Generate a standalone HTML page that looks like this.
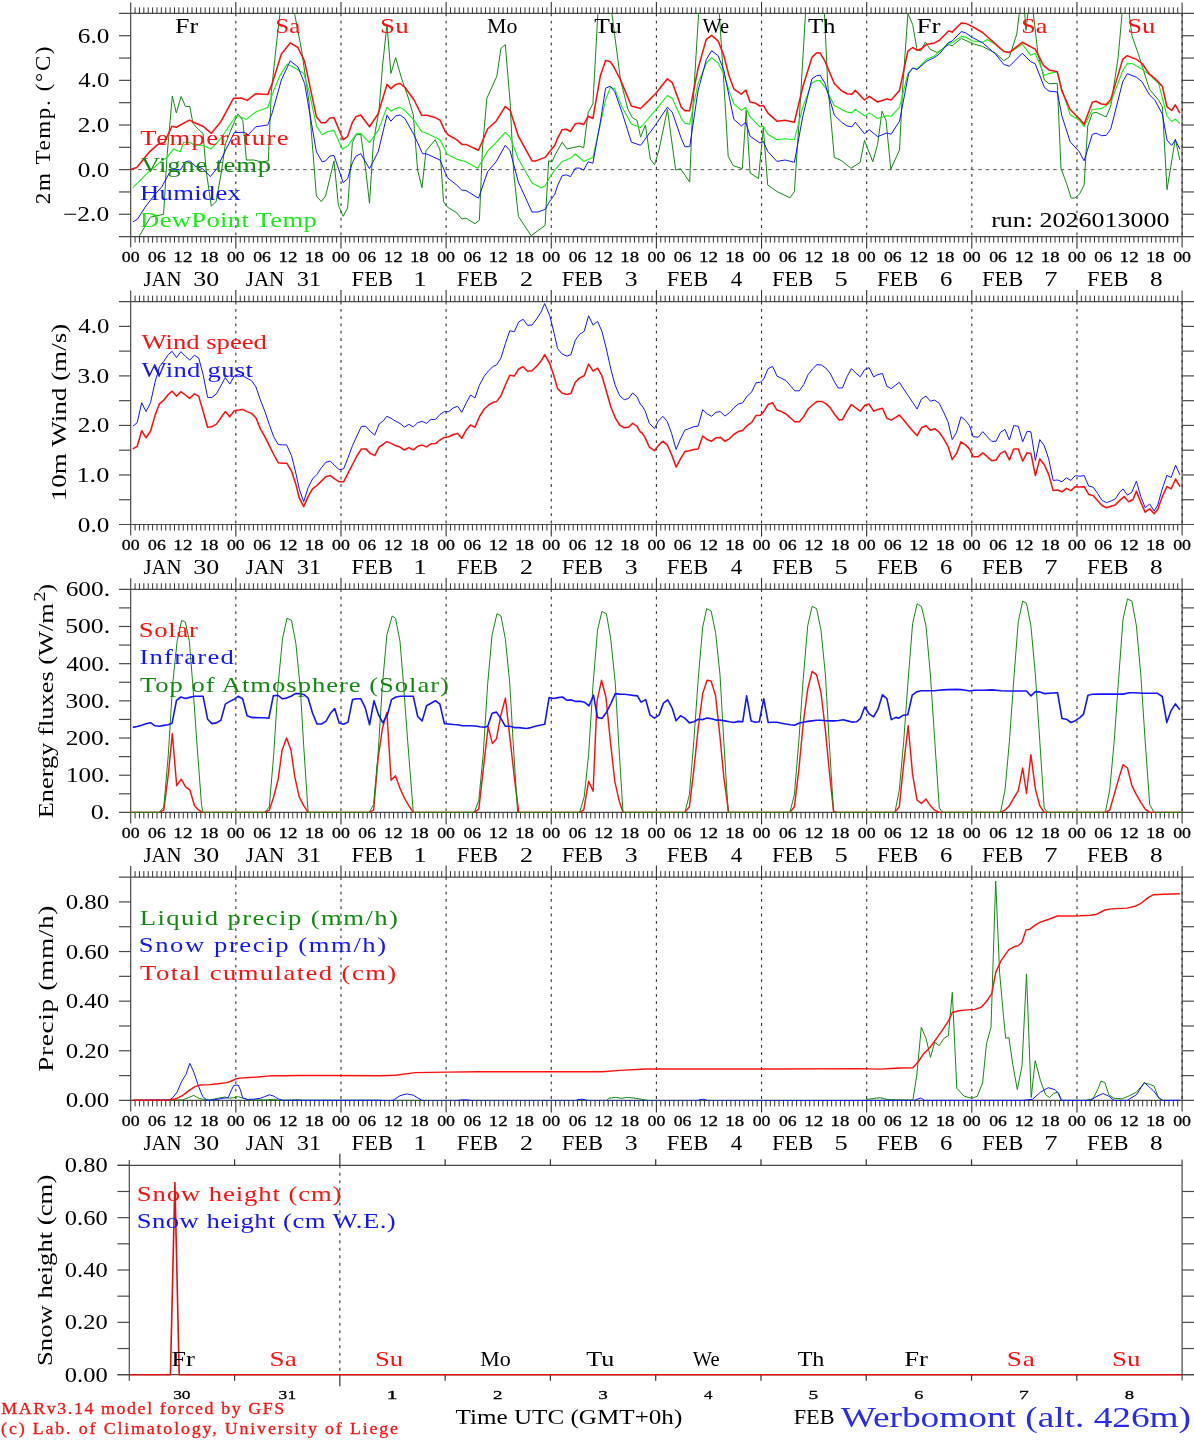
<!DOCTYPE html>
<html><head><meta charset="utf-8"><style>
html,body{margin:0;padding:0;background:#fff;overflow:hidden;}
svg{display:block;}
text{font-family:"Liberation Serif", serif;white-space:pre;}
</style></head><body>
<svg width="1194" height="1440" viewBox="0 0 1194 1440">
<rect width="1194" height="1440" fill="#fff"/>
<defs><clipPath id="c0"><rect x="130.7" y="12.9" width="1051.3999999999999" height="224.2"/></clipPath><clipPath id="c1"><rect x="130.7" y="301.1" width="1051.3999999999999" height="223.89999999999998"/></clipPath><clipPath id="c2"><rect x="130.7" y="588.8" width="1051.3999999999999" height="224.10000000000002"/></clipPath><clipPath id="c3"><rect x="130.7" y="876.6" width="1051.3999999999999" height="224.30000000000007"/></clipPath></defs>
<line x1="119.00" y1="13.40" x2="1194.00" y2="13.40" stroke="#4a4a4a" stroke-width="1.2" />
<line x1="119.00" y1="236.60" x2="1194.00" y2="236.60" stroke="#4a4a4a" stroke-width="1.2" />
<line x1="130.70" y1="2.40" x2="130.70" y2="247.60" stroke="#4a4a4a" stroke-width="1.2" />
<line x1="1182.10" y1="2.40" x2="1182.10" y2="247.60" stroke="#4a4a4a" stroke-width="1.2" />
<line x1="135.08" y1="7.40" x2="135.08" y2="13.40" stroke="#333333" stroke-width="1.0" />
<line x1="135.08" y1="236.60" x2="135.08" y2="242.60" stroke="#333333" stroke-width="1.0" />
<line x1="139.46" y1="7.40" x2="139.46" y2="13.40" stroke="#333333" stroke-width="1.0" />
<line x1="139.46" y1="236.60" x2="139.46" y2="242.60" stroke="#333333" stroke-width="1.0" />
<line x1="143.84" y1="7.40" x2="143.84" y2="13.40" stroke="#333333" stroke-width="1.0" />
<line x1="143.84" y1="236.60" x2="143.84" y2="242.60" stroke="#333333" stroke-width="1.0" />
<line x1="148.22" y1="7.40" x2="148.22" y2="13.40" stroke="#333333" stroke-width="1.0" />
<line x1="148.22" y1="236.60" x2="148.22" y2="242.60" stroke="#333333" stroke-width="1.0" />
<line x1="152.60" y1="7.40" x2="152.60" y2="13.40" stroke="#333333" stroke-width="1.0" />
<line x1="152.60" y1="236.60" x2="152.60" y2="242.60" stroke="#333333" stroke-width="1.0" />
<line x1="156.98" y1="7.40" x2="156.98" y2="13.40" stroke="#333333" stroke-width="1.0" />
<line x1="156.98" y1="236.60" x2="156.98" y2="242.60" stroke="#333333" stroke-width="1.0" />
<line x1="161.37" y1="7.40" x2="161.37" y2="13.40" stroke="#333333" stroke-width="1.0" />
<line x1="161.37" y1="236.60" x2="161.37" y2="242.60" stroke="#333333" stroke-width="1.0" />
<line x1="165.75" y1="7.40" x2="165.75" y2="13.40" stroke="#333333" stroke-width="1.0" />
<line x1="165.75" y1="236.60" x2="165.75" y2="242.60" stroke="#333333" stroke-width="1.0" />
<line x1="170.13" y1="7.40" x2="170.13" y2="13.40" stroke="#333333" stroke-width="1.0" />
<line x1="170.13" y1="236.60" x2="170.13" y2="242.60" stroke="#333333" stroke-width="1.0" />
<line x1="174.51" y1="7.40" x2="174.51" y2="13.40" stroke="#333333" stroke-width="1.0" />
<line x1="174.51" y1="236.60" x2="174.51" y2="242.60" stroke="#333333" stroke-width="1.0" />
<line x1="178.89" y1="7.40" x2="178.89" y2="13.40" stroke="#333333" stroke-width="1.0" />
<line x1="178.89" y1="236.60" x2="178.89" y2="242.60" stroke="#333333" stroke-width="1.0" />
<line x1="183.27" y1="7.40" x2="183.27" y2="13.40" stroke="#333333" stroke-width="1.0" />
<line x1="183.27" y1="236.60" x2="183.27" y2="242.60" stroke="#333333" stroke-width="1.0" />
<line x1="187.65" y1="7.40" x2="187.65" y2="13.40" stroke="#333333" stroke-width="1.0" />
<line x1="187.65" y1="236.60" x2="187.65" y2="242.60" stroke="#333333" stroke-width="1.0" />
<line x1="192.03" y1="7.40" x2="192.03" y2="13.40" stroke="#333333" stroke-width="1.0" />
<line x1="192.03" y1="236.60" x2="192.03" y2="242.60" stroke="#333333" stroke-width="1.0" />
<line x1="196.41" y1="7.40" x2="196.41" y2="13.40" stroke="#333333" stroke-width="1.0" />
<line x1="196.41" y1="236.60" x2="196.41" y2="242.60" stroke="#333333" stroke-width="1.0" />
<line x1="200.79" y1="7.40" x2="200.79" y2="13.40" stroke="#333333" stroke-width="1.0" />
<line x1="200.79" y1="236.60" x2="200.79" y2="242.60" stroke="#333333" stroke-width="1.0" />
<line x1="205.17" y1="7.40" x2="205.17" y2="13.40" stroke="#333333" stroke-width="1.0" />
<line x1="205.17" y1="236.60" x2="205.17" y2="242.60" stroke="#333333" stroke-width="1.0" />
<line x1="209.55" y1="7.40" x2="209.55" y2="13.40" stroke="#333333" stroke-width="1.0" />
<line x1="209.55" y1="236.60" x2="209.55" y2="242.60" stroke="#333333" stroke-width="1.0" />
<line x1="213.94" y1="7.40" x2="213.94" y2="13.40" stroke="#333333" stroke-width="1.0" />
<line x1="213.94" y1="236.60" x2="213.94" y2="242.60" stroke="#333333" stroke-width="1.0" />
<line x1="218.32" y1="7.40" x2="218.32" y2="13.40" stroke="#333333" stroke-width="1.0" />
<line x1="218.32" y1="236.60" x2="218.32" y2="242.60" stroke="#333333" stroke-width="1.0" />
<line x1="222.70" y1="7.40" x2="222.70" y2="13.40" stroke="#333333" stroke-width="1.0" />
<line x1="222.70" y1="236.60" x2="222.70" y2="242.60" stroke="#333333" stroke-width="1.0" />
<line x1="227.08" y1="7.40" x2="227.08" y2="13.40" stroke="#333333" stroke-width="1.0" />
<line x1="227.08" y1="236.60" x2="227.08" y2="242.60" stroke="#333333" stroke-width="1.0" />
<line x1="231.46" y1="7.40" x2="231.46" y2="13.40" stroke="#333333" stroke-width="1.0" />
<line x1="231.46" y1="236.60" x2="231.46" y2="242.60" stroke="#333333" stroke-width="1.0" />
<line x1="235.84" y1="1.90" x2="235.84" y2="13.40" stroke="#333333" stroke-width="1.1" />
<line x1="235.84" y1="236.60" x2="235.84" y2="248.60" stroke="#333333" stroke-width="1.1" />
<line x1="240.22" y1="7.40" x2="240.22" y2="13.40" stroke="#333333" stroke-width="1.0" />
<line x1="240.22" y1="236.60" x2="240.22" y2="242.60" stroke="#333333" stroke-width="1.0" />
<line x1="244.60" y1="7.40" x2="244.60" y2="13.40" stroke="#333333" stroke-width="1.0" />
<line x1="244.60" y1="236.60" x2="244.60" y2="242.60" stroke="#333333" stroke-width="1.0" />
<line x1="248.98" y1="7.40" x2="248.98" y2="13.40" stroke="#333333" stroke-width="1.0" />
<line x1="248.98" y1="236.60" x2="248.98" y2="242.60" stroke="#333333" stroke-width="1.0" />
<line x1="253.36" y1="7.40" x2="253.36" y2="13.40" stroke="#333333" stroke-width="1.0" />
<line x1="253.36" y1="236.60" x2="253.36" y2="242.60" stroke="#333333" stroke-width="1.0" />
<line x1="257.74" y1="7.40" x2="257.74" y2="13.40" stroke="#333333" stroke-width="1.0" />
<line x1="257.74" y1="236.60" x2="257.74" y2="242.60" stroke="#333333" stroke-width="1.0" />
<line x1="262.12" y1="7.40" x2="262.12" y2="13.40" stroke="#333333" stroke-width="1.0" />
<line x1="262.12" y1="236.60" x2="262.12" y2="242.60" stroke="#333333" stroke-width="1.0" />
<line x1="266.51" y1="7.40" x2="266.51" y2="13.40" stroke="#333333" stroke-width="1.0" />
<line x1="266.51" y1="236.60" x2="266.51" y2="242.60" stroke="#333333" stroke-width="1.0" />
<line x1="270.89" y1="7.40" x2="270.89" y2="13.40" stroke="#333333" stroke-width="1.0" />
<line x1="270.89" y1="236.60" x2="270.89" y2="242.60" stroke="#333333" stroke-width="1.0" />
<line x1="275.27" y1="7.40" x2="275.27" y2="13.40" stroke="#333333" stroke-width="1.0" />
<line x1="275.27" y1="236.60" x2="275.27" y2="242.60" stroke="#333333" stroke-width="1.0" />
<line x1="279.65" y1="7.40" x2="279.65" y2="13.40" stroke="#333333" stroke-width="1.0" />
<line x1="279.65" y1="236.60" x2="279.65" y2="242.60" stroke="#333333" stroke-width="1.0" />
<line x1="284.03" y1="7.40" x2="284.03" y2="13.40" stroke="#333333" stroke-width="1.0" />
<line x1="284.03" y1="236.60" x2="284.03" y2="242.60" stroke="#333333" stroke-width="1.0" />
<line x1="288.41" y1="7.40" x2="288.41" y2="13.40" stroke="#333333" stroke-width="1.0" />
<line x1="288.41" y1="236.60" x2="288.41" y2="242.60" stroke="#333333" stroke-width="1.0" />
<line x1="292.79" y1="7.40" x2="292.79" y2="13.40" stroke="#333333" stroke-width="1.0" />
<line x1="292.79" y1="236.60" x2="292.79" y2="242.60" stroke="#333333" stroke-width="1.0" />
<line x1="297.17" y1="7.40" x2="297.17" y2="13.40" stroke="#333333" stroke-width="1.0" />
<line x1="297.17" y1="236.60" x2="297.17" y2="242.60" stroke="#333333" stroke-width="1.0" />
<line x1="301.55" y1="7.40" x2="301.55" y2="13.40" stroke="#333333" stroke-width="1.0" />
<line x1="301.55" y1="236.60" x2="301.55" y2="242.60" stroke="#333333" stroke-width="1.0" />
<line x1="305.93" y1="7.40" x2="305.93" y2="13.40" stroke="#333333" stroke-width="1.0" />
<line x1="305.93" y1="236.60" x2="305.93" y2="242.60" stroke="#333333" stroke-width="1.0" />
<line x1="310.31" y1="7.40" x2="310.31" y2="13.40" stroke="#333333" stroke-width="1.0" />
<line x1="310.31" y1="236.60" x2="310.31" y2="242.60" stroke="#333333" stroke-width="1.0" />
<line x1="314.69" y1="7.40" x2="314.69" y2="13.40" stroke="#333333" stroke-width="1.0" />
<line x1="314.69" y1="236.60" x2="314.69" y2="242.60" stroke="#333333" stroke-width="1.0" />
<line x1="319.08" y1="7.40" x2="319.08" y2="13.40" stroke="#333333" stroke-width="1.0" />
<line x1="319.08" y1="236.60" x2="319.08" y2="242.60" stroke="#333333" stroke-width="1.0" />
<line x1="323.46" y1="7.40" x2="323.46" y2="13.40" stroke="#333333" stroke-width="1.0" />
<line x1="323.46" y1="236.60" x2="323.46" y2="242.60" stroke="#333333" stroke-width="1.0" />
<line x1="327.84" y1="7.40" x2="327.84" y2="13.40" stroke="#333333" stroke-width="1.0" />
<line x1="327.84" y1="236.60" x2="327.84" y2="242.60" stroke="#333333" stroke-width="1.0" />
<line x1="332.22" y1="7.40" x2="332.22" y2="13.40" stroke="#333333" stroke-width="1.0" />
<line x1="332.22" y1="236.60" x2="332.22" y2="242.60" stroke="#333333" stroke-width="1.0" />
<line x1="336.60" y1="7.40" x2="336.60" y2="13.40" stroke="#333333" stroke-width="1.0" />
<line x1="336.60" y1="236.60" x2="336.60" y2="242.60" stroke="#333333" stroke-width="1.0" />
<line x1="340.98" y1="1.90" x2="340.98" y2="13.40" stroke="#333333" stroke-width="1.1" />
<line x1="340.98" y1="236.60" x2="340.98" y2="248.60" stroke="#333333" stroke-width="1.1" />
<line x1="345.36" y1="7.40" x2="345.36" y2="13.40" stroke="#333333" stroke-width="1.0" />
<line x1="345.36" y1="236.60" x2="345.36" y2="242.60" stroke="#333333" stroke-width="1.0" />
<line x1="349.74" y1="7.40" x2="349.74" y2="13.40" stroke="#333333" stroke-width="1.0" />
<line x1="349.74" y1="236.60" x2="349.74" y2="242.60" stroke="#333333" stroke-width="1.0" />
<line x1="354.12" y1="7.40" x2="354.12" y2="13.40" stroke="#333333" stroke-width="1.0" />
<line x1="354.12" y1="236.60" x2="354.12" y2="242.60" stroke="#333333" stroke-width="1.0" />
<line x1="358.50" y1="7.40" x2="358.50" y2="13.40" stroke="#333333" stroke-width="1.0" />
<line x1="358.50" y1="236.60" x2="358.50" y2="242.60" stroke="#333333" stroke-width="1.0" />
<line x1="362.88" y1="7.40" x2="362.88" y2="13.40" stroke="#333333" stroke-width="1.0" />
<line x1="362.88" y1="236.60" x2="362.88" y2="242.60" stroke="#333333" stroke-width="1.0" />
<line x1="367.26" y1="7.40" x2="367.26" y2="13.40" stroke="#333333" stroke-width="1.0" />
<line x1="367.26" y1="236.60" x2="367.26" y2="242.60" stroke="#333333" stroke-width="1.0" />
<line x1="371.65" y1="7.40" x2="371.65" y2="13.40" stroke="#333333" stroke-width="1.0" />
<line x1="371.65" y1="236.60" x2="371.65" y2="242.60" stroke="#333333" stroke-width="1.0" />
<line x1="376.03" y1="7.40" x2="376.03" y2="13.40" stroke="#333333" stroke-width="1.0" />
<line x1="376.03" y1="236.60" x2="376.03" y2="242.60" stroke="#333333" stroke-width="1.0" />
<line x1="380.41" y1="7.40" x2="380.41" y2="13.40" stroke="#333333" stroke-width="1.0" />
<line x1="380.41" y1="236.60" x2="380.41" y2="242.60" stroke="#333333" stroke-width="1.0" />
<line x1="384.79" y1="7.40" x2="384.79" y2="13.40" stroke="#333333" stroke-width="1.0" />
<line x1="384.79" y1="236.60" x2="384.79" y2="242.60" stroke="#333333" stroke-width="1.0" />
<line x1="389.17" y1="7.40" x2="389.17" y2="13.40" stroke="#333333" stroke-width="1.0" />
<line x1="389.17" y1="236.60" x2="389.17" y2="242.60" stroke="#333333" stroke-width="1.0" />
<line x1="393.55" y1="7.40" x2="393.55" y2="13.40" stroke="#333333" stroke-width="1.0" />
<line x1="393.55" y1="236.60" x2="393.55" y2="242.60" stroke="#333333" stroke-width="1.0" />
<line x1="397.93" y1="7.40" x2="397.93" y2="13.40" stroke="#333333" stroke-width="1.0" />
<line x1="397.93" y1="236.60" x2="397.93" y2="242.60" stroke="#333333" stroke-width="1.0" />
<line x1="402.31" y1="7.40" x2="402.31" y2="13.40" stroke="#333333" stroke-width="1.0" />
<line x1="402.31" y1="236.60" x2="402.31" y2="242.60" stroke="#333333" stroke-width="1.0" />
<line x1="406.69" y1="7.40" x2="406.69" y2="13.40" stroke="#333333" stroke-width="1.0" />
<line x1="406.69" y1="236.60" x2="406.69" y2="242.60" stroke="#333333" stroke-width="1.0" />
<line x1="411.07" y1="7.40" x2="411.07" y2="13.40" stroke="#333333" stroke-width="1.0" />
<line x1="411.07" y1="236.60" x2="411.07" y2="242.60" stroke="#333333" stroke-width="1.0" />
<line x1="415.45" y1="7.40" x2="415.45" y2="13.40" stroke="#333333" stroke-width="1.0" />
<line x1="415.45" y1="236.60" x2="415.45" y2="242.60" stroke="#333333" stroke-width="1.0" />
<line x1="419.83" y1="7.40" x2="419.83" y2="13.40" stroke="#333333" stroke-width="1.0" />
<line x1="419.83" y1="236.60" x2="419.83" y2="242.60" stroke="#333333" stroke-width="1.0" />
<line x1="424.22" y1="7.40" x2="424.22" y2="13.40" stroke="#333333" stroke-width="1.0" />
<line x1="424.22" y1="236.60" x2="424.22" y2="242.60" stroke="#333333" stroke-width="1.0" />
<line x1="428.60" y1="7.40" x2="428.60" y2="13.40" stroke="#333333" stroke-width="1.0" />
<line x1="428.60" y1="236.60" x2="428.60" y2="242.60" stroke="#333333" stroke-width="1.0" />
<line x1="432.98" y1="7.40" x2="432.98" y2="13.40" stroke="#333333" stroke-width="1.0" />
<line x1="432.98" y1="236.60" x2="432.98" y2="242.60" stroke="#333333" stroke-width="1.0" />
<line x1="437.36" y1="7.40" x2="437.36" y2="13.40" stroke="#333333" stroke-width="1.0" />
<line x1="437.36" y1="236.60" x2="437.36" y2="242.60" stroke="#333333" stroke-width="1.0" />
<line x1="441.74" y1="7.40" x2="441.74" y2="13.40" stroke="#333333" stroke-width="1.0" />
<line x1="441.74" y1="236.60" x2="441.74" y2="242.60" stroke="#333333" stroke-width="1.0" />
<line x1="446.12" y1="1.90" x2="446.12" y2="13.40" stroke="#333333" stroke-width="1.1" />
<line x1="446.12" y1="236.60" x2="446.12" y2="248.60" stroke="#333333" stroke-width="1.1" />
<line x1="450.50" y1="7.40" x2="450.50" y2="13.40" stroke="#333333" stroke-width="1.0" />
<line x1="450.50" y1="236.60" x2="450.50" y2="242.60" stroke="#333333" stroke-width="1.0" />
<line x1="454.88" y1="7.40" x2="454.88" y2="13.40" stroke="#333333" stroke-width="1.0" />
<line x1="454.88" y1="236.60" x2="454.88" y2="242.60" stroke="#333333" stroke-width="1.0" />
<line x1="459.26" y1="7.40" x2="459.26" y2="13.40" stroke="#333333" stroke-width="1.0" />
<line x1="459.26" y1="236.60" x2="459.26" y2="242.60" stroke="#333333" stroke-width="1.0" />
<line x1="463.64" y1="7.40" x2="463.64" y2="13.40" stroke="#333333" stroke-width="1.0" />
<line x1="463.64" y1="236.60" x2="463.64" y2="242.60" stroke="#333333" stroke-width="1.0" />
<line x1="468.02" y1="7.40" x2="468.02" y2="13.40" stroke="#333333" stroke-width="1.0" />
<line x1="468.02" y1="236.60" x2="468.02" y2="242.60" stroke="#333333" stroke-width="1.0" />
<line x1="472.40" y1="7.40" x2="472.40" y2="13.40" stroke="#333333" stroke-width="1.0" />
<line x1="472.40" y1="236.60" x2="472.40" y2="242.60" stroke="#333333" stroke-width="1.0" />
<line x1="476.79" y1="7.40" x2="476.79" y2="13.40" stroke="#333333" stroke-width="1.0" />
<line x1="476.79" y1="236.60" x2="476.79" y2="242.60" stroke="#333333" stroke-width="1.0" />
<line x1="481.17" y1="7.40" x2="481.17" y2="13.40" stroke="#333333" stroke-width="1.0" />
<line x1="481.17" y1="236.60" x2="481.17" y2="242.60" stroke="#333333" stroke-width="1.0" />
<line x1="485.55" y1="7.40" x2="485.55" y2="13.40" stroke="#333333" stroke-width="1.0" />
<line x1="485.55" y1="236.60" x2="485.55" y2="242.60" stroke="#333333" stroke-width="1.0" />
<line x1="489.93" y1="7.40" x2="489.93" y2="13.40" stroke="#333333" stroke-width="1.0" />
<line x1="489.93" y1="236.60" x2="489.93" y2="242.60" stroke="#333333" stroke-width="1.0" />
<line x1="494.31" y1="7.40" x2="494.31" y2="13.40" stroke="#333333" stroke-width="1.0" />
<line x1="494.31" y1="236.60" x2="494.31" y2="242.60" stroke="#333333" stroke-width="1.0" />
<line x1="498.69" y1="7.40" x2="498.69" y2="13.40" stroke="#333333" stroke-width="1.0" />
<line x1="498.69" y1="236.60" x2="498.69" y2="242.60" stroke="#333333" stroke-width="1.0" />
<line x1="503.07" y1="7.40" x2="503.07" y2="13.40" stroke="#333333" stroke-width="1.0" />
<line x1="503.07" y1="236.60" x2="503.07" y2="242.60" stroke="#333333" stroke-width="1.0" />
<line x1="507.45" y1="7.40" x2="507.45" y2="13.40" stroke="#333333" stroke-width="1.0" />
<line x1="507.45" y1="236.60" x2="507.45" y2="242.60" stroke="#333333" stroke-width="1.0" />
<line x1="511.83" y1="7.40" x2="511.83" y2="13.40" stroke="#333333" stroke-width="1.0" />
<line x1="511.83" y1="236.60" x2="511.83" y2="242.60" stroke="#333333" stroke-width="1.0" />
<line x1="516.21" y1="7.40" x2="516.21" y2="13.40" stroke="#333333" stroke-width="1.0" />
<line x1="516.21" y1="236.60" x2="516.21" y2="242.60" stroke="#333333" stroke-width="1.0" />
<line x1="520.59" y1="7.40" x2="520.59" y2="13.40" stroke="#333333" stroke-width="1.0" />
<line x1="520.59" y1="236.60" x2="520.59" y2="242.60" stroke="#333333" stroke-width="1.0" />
<line x1="524.97" y1="7.40" x2="524.97" y2="13.40" stroke="#333333" stroke-width="1.0" />
<line x1="524.97" y1="236.60" x2="524.97" y2="242.60" stroke="#333333" stroke-width="1.0" />
<line x1="529.36" y1="7.40" x2="529.36" y2="13.40" stroke="#333333" stroke-width="1.0" />
<line x1="529.36" y1="236.60" x2="529.36" y2="242.60" stroke="#333333" stroke-width="1.0" />
<line x1="533.74" y1="7.40" x2="533.74" y2="13.40" stroke="#333333" stroke-width="1.0" />
<line x1="533.74" y1="236.60" x2="533.74" y2="242.60" stroke="#333333" stroke-width="1.0" />
<line x1="538.12" y1="7.40" x2="538.12" y2="13.40" stroke="#333333" stroke-width="1.0" />
<line x1="538.12" y1="236.60" x2="538.12" y2="242.60" stroke="#333333" stroke-width="1.0" />
<line x1="542.50" y1="7.40" x2="542.50" y2="13.40" stroke="#333333" stroke-width="1.0" />
<line x1="542.50" y1="236.60" x2="542.50" y2="242.60" stroke="#333333" stroke-width="1.0" />
<line x1="546.88" y1="7.40" x2="546.88" y2="13.40" stroke="#333333" stroke-width="1.0" />
<line x1="546.88" y1="236.60" x2="546.88" y2="242.60" stroke="#333333" stroke-width="1.0" />
<line x1="551.26" y1="1.90" x2="551.26" y2="13.40" stroke="#333333" stroke-width="1.1" />
<line x1="551.26" y1="236.60" x2="551.26" y2="248.60" stroke="#333333" stroke-width="1.1" />
<line x1="555.64" y1="7.40" x2="555.64" y2="13.40" stroke="#333333" stroke-width="1.0" />
<line x1="555.64" y1="236.60" x2="555.64" y2="242.60" stroke="#333333" stroke-width="1.0" />
<line x1="560.02" y1="7.40" x2="560.02" y2="13.40" stroke="#333333" stroke-width="1.0" />
<line x1="560.02" y1="236.60" x2="560.02" y2="242.60" stroke="#333333" stroke-width="1.0" />
<line x1="564.40" y1="7.40" x2="564.40" y2="13.40" stroke="#333333" stroke-width="1.0" />
<line x1="564.40" y1="236.60" x2="564.40" y2="242.60" stroke="#333333" stroke-width="1.0" />
<line x1="568.78" y1="7.40" x2="568.78" y2="13.40" stroke="#333333" stroke-width="1.0" />
<line x1="568.78" y1="236.60" x2="568.78" y2="242.60" stroke="#333333" stroke-width="1.0" />
<line x1="573.16" y1="7.40" x2="573.16" y2="13.40" stroke="#333333" stroke-width="1.0" />
<line x1="573.16" y1="236.60" x2="573.16" y2="242.60" stroke="#333333" stroke-width="1.0" />
<line x1="577.54" y1="7.40" x2="577.54" y2="13.40" stroke="#333333" stroke-width="1.0" />
<line x1="577.54" y1="236.60" x2="577.54" y2="242.60" stroke="#333333" stroke-width="1.0" />
<line x1="581.93" y1="7.40" x2="581.93" y2="13.40" stroke="#333333" stroke-width="1.0" />
<line x1="581.93" y1="236.60" x2="581.93" y2="242.60" stroke="#333333" stroke-width="1.0" />
<line x1="586.31" y1="7.40" x2="586.31" y2="13.40" stroke="#333333" stroke-width="1.0" />
<line x1="586.31" y1="236.60" x2="586.31" y2="242.60" stroke="#333333" stroke-width="1.0" />
<line x1="590.69" y1="7.40" x2="590.69" y2="13.40" stroke="#333333" stroke-width="1.0" />
<line x1="590.69" y1="236.60" x2="590.69" y2="242.60" stroke="#333333" stroke-width="1.0" />
<line x1="595.07" y1="7.40" x2="595.07" y2="13.40" stroke="#333333" stroke-width="1.0" />
<line x1="595.07" y1="236.60" x2="595.07" y2="242.60" stroke="#333333" stroke-width="1.0" />
<line x1="599.45" y1="7.40" x2="599.45" y2="13.40" stroke="#333333" stroke-width="1.0" />
<line x1="599.45" y1="236.60" x2="599.45" y2="242.60" stroke="#333333" stroke-width="1.0" />
<line x1="603.83" y1="7.40" x2="603.83" y2="13.40" stroke="#333333" stroke-width="1.0" />
<line x1="603.83" y1="236.60" x2="603.83" y2="242.60" stroke="#333333" stroke-width="1.0" />
<line x1="608.21" y1="7.40" x2="608.21" y2="13.40" stroke="#333333" stroke-width="1.0" />
<line x1="608.21" y1="236.60" x2="608.21" y2="242.60" stroke="#333333" stroke-width="1.0" />
<line x1="612.59" y1="7.40" x2="612.59" y2="13.40" stroke="#333333" stroke-width="1.0" />
<line x1="612.59" y1="236.60" x2="612.59" y2="242.60" stroke="#333333" stroke-width="1.0" />
<line x1="616.97" y1="7.40" x2="616.97" y2="13.40" stroke="#333333" stroke-width="1.0" />
<line x1="616.97" y1="236.60" x2="616.97" y2="242.60" stroke="#333333" stroke-width="1.0" />
<line x1="621.35" y1="7.40" x2="621.35" y2="13.40" stroke="#333333" stroke-width="1.0" />
<line x1="621.35" y1="236.60" x2="621.35" y2="242.60" stroke="#333333" stroke-width="1.0" />
<line x1="625.73" y1="7.40" x2="625.73" y2="13.40" stroke="#333333" stroke-width="1.0" />
<line x1="625.73" y1="236.60" x2="625.73" y2="242.60" stroke="#333333" stroke-width="1.0" />
<line x1="630.12" y1="7.40" x2="630.12" y2="13.40" stroke="#333333" stroke-width="1.0" />
<line x1="630.12" y1="236.60" x2="630.12" y2="242.60" stroke="#333333" stroke-width="1.0" />
<line x1="634.50" y1="7.40" x2="634.50" y2="13.40" stroke="#333333" stroke-width="1.0" />
<line x1="634.50" y1="236.60" x2="634.50" y2="242.60" stroke="#333333" stroke-width="1.0" />
<line x1="638.88" y1="7.40" x2="638.88" y2="13.40" stroke="#333333" stroke-width="1.0" />
<line x1="638.88" y1="236.60" x2="638.88" y2="242.60" stroke="#333333" stroke-width="1.0" />
<line x1="643.26" y1="7.40" x2="643.26" y2="13.40" stroke="#333333" stroke-width="1.0" />
<line x1="643.26" y1="236.60" x2="643.26" y2="242.60" stroke="#333333" stroke-width="1.0" />
<line x1="647.64" y1="7.40" x2="647.64" y2="13.40" stroke="#333333" stroke-width="1.0" />
<line x1="647.64" y1="236.60" x2="647.64" y2="242.60" stroke="#333333" stroke-width="1.0" />
<line x1="652.02" y1="7.40" x2="652.02" y2="13.40" stroke="#333333" stroke-width="1.0" />
<line x1="652.02" y1="236.60" x2="652.02" y2="242.60" stroke="#333333" stroke-width="1.0" />
<line x1="656.40" y1="1.90" x2="656.40" y2="13.40" stroke="#333333" stroke-width="1.1" />
<line x1="656.40" y1="236.60" x2="656.40" y2="248.60" stroke="#333333" stroke-width="1.1" />
<line x1="660.78" y1="7.40" x2="660.78" y2="13.40" stroke="#333333" stroke-width="1.0" />
<line x1="660.78" y1="236.60" x2="660.78" y2="242.60" stroke="#333333" stroke-width="1.0" />
<line x1="665.16" y1="7.40" x2="665.16" y2="13.40" stroke="#333333" stroke-width="1.0" />
<line x1="665.16" y1="236.60" x2="665.16" y2="242.60" stroke="#333333" stroke-width="1.0" />
<line x1="669.54" y1="7.40" x2="669.54" y2="13.40" stroke="#333333" stroke-width="1.0" />
<line x1="669.54" y1="236.60" x2="669.54" y2="242.60" stroke="#333333" stroke-width="1.0" />
<line x1="673.92" y1="7.40" x2="673.92" y2="13.40" stroke="#333333" stroke-width="1.0" />
<line x1="673.92" y1="236.60" x2="673.92" y2="242.60" stroke="#333333" stroke-width="1.0" />
<line x1="678.30" y1="7.40" x2="678.30" y2="13.40" stroke="#333333" stroke-width="1.0" />
<line x1="678.30" y1="236.60" x2="678.30" y2="242.60" stroke="#333333" stroke-width="1.0" />
<line x1="682.68" y1="7.40" x2="682.68" y2="13.40" stroke="#333333" stroke-width="1.0" />
<line x1="682.68" y1="236.60" x2="682.68" y2="242.60" stroke="#333333" stroke-width="1.0" />
<line x1="687.07" y1="7.40" x2="687.07" y2="13.40" stroke="#333333" stroke-width="1.0" />
<line x1="687.07" y1="236.60" x2="687.07" y2="242.60" stroke="#333333" stroke-width="1.0" />
<line x1="691.45" y1="7.40" x2="691.45" y2="13.40" stroke="#333333" stroke-width="1.0" />
<line x1="691.45" y1="236.60" x2="691.45" y2="242.60" stroke="#333333" stroke-width="1.0" />
<line x1="695.83" y1="7.40" x2="695.83" y2="13.40" stroke="#333333" stroke-width="1.0" />
<line x1="695.83" y1="236.60" x2="695.83" y2="242.60" stroke="#333333" stroke-width="1.0" />
<line x1="700.21" y1="7.40" x2="700.21" y2="13.40" stroke="#333333" stroke-width="1.0" />
<line x1="700.21" y1="236.60" x2="700.21" y2="242.60" stroke="#333333" stroke-width="1.0" />
<line x1="704.59" y1="7.40" x2="704.59" y2="13.40" stroke="#333333" stroke-width="1.0" />
<line x1="704.59" y1="236.60" x2="704.59" y2="242.60" stroke="#333333" stroke-width="1.0" />
<line x1="708.97" y1="7.40" x2="708.97" y2="13.40" stroke="#333333" stroke-width="1.0" />
<line x1="708.97" y1="236.60" x2="708.97" y2="242.60" stroke="#333333" stroke-width="1.0" />
<line x1="713.35" y1="7.40" x2="713.35" y2="13.40" stroke="#333333" stroke-width="1.0" />
<line x1="713.35" y1="236.60" x2="713.35" y2="242.60" stroke="#333333" stroke-width="1.0" />
<line x1="717.73" y1="7.40" x2="717.73" y2="13.40" stroke="#333333" stroke-width="1.0" />
<line x1="717.73" y1="236.60" x2="717.73" y2="242.60" stroke="#333333" stroke-width="1.0" />
<line x1="722.11" y1="7.40" x2="722.11" y2="13.40" stroke="#333333" stroke-width="1.0" />
<line x1="722.11" y1="236.60" x2="722.11" y2="242.60" stroke="#333333" stroke-width="1.0" />
<line x1="726.49" y1="7.40" x2="726.49" y2="13.40" stroke="#333333" stroke-width="1.0" />
<line x1="726.49" y1="236.60" x2="726.49" y2="242.60" stroke="#333333" stroke-width="1.0" />
<line x1="730.87" y1="7.40" x2="730.87" y2="13.40" stroke="#333333" stroke-width="1.0" />
<line x1="730.87" y1="236.60" x2="730.87" y2="242.60" stroke="#333333" stroke-width="1.0" />
<line x1="735.25" y1="7.40" x2="735.25" y2="13.40" stroke="#333333" stroke-width="1.0" />
<line x1="735.25" y1="236.60" x2="735.25" y2="242.60" stroke="#333333" stroke-width="1.0" />
<line x1="739.64" y1="7.40" x2="739.64" y2="13.40" stroke="#333333" stroke-width="1.0" />
<line x1="739.64" y1="236.60" x2="739.64" y2="242.60" stroke="#333333" stroke-width="1.0" />
<line x1="744.02" y1="7.40" x2="744.02" y2="13.40" stroke="#333333" stroke-width="1.0" />
<line x1="744.02" y1="236.60" x2="744.02" y2="242.60" stroke="#333333" stroke-width="1.0" />
<line x1="748.40" y1="7.40" x2="748.40" y2="13.40" stroke="#333333" stroke-width="1.0" />
<line x1="748.40" y1="236.60" x2="748.40" y2="242.60" stroke="#333333" stroke-width="1.0" />
<line x1="752.78" y1="7.40" x2="752.78" y2="13.40" stroke="#333333" stroke-width="1.0" />
<line x1="752.78" y1="236.60" x2="752.78" y2="242.60" stroke="#333333" stroke-width="1.0" />
<line x1="757.16" y1="7.40" x2="757.16" y2="13.40" stroke="#333333" stroke-width="1.0" />
<line x1="757.16" y1="236.60" x2="757.16" y2="242.60" stroke="#333333" stroke-width="1.0" />
<line x1="761.54" y1="1.90" x2="761.54" y2="13.40" stroke="#333333" stroke-width="1.1" />
<line x1="761.54" y1="236.60" x2="761.54" y2="248.60" stroke="#333333" stroke-width="1.1" />
<line x1="765.92" y1="7.40" x2="765.92" y2="13.40" stroke="#333333" stroke-width="1.0" />
<line x1="765.92" y1="236.60" x2="765.92" y2="242.60" stroke="#333333" stroke-width="1.0" />
<line x1="770.30" y1="7.40" x2="770.30" y2="13.40" stroke="#333333" stroke-width="1.0" />
<line x1="770.30" y1="236.60" x2="770.30" y2="242.60" stroke="#333333" stroke-width="1.0" />
<line x1="774.68" y1="7.40" x2="774.68" y2="13.40" stroke="#333333" stroke-width="1.0" />
<line x1="774.68" y1="236.60" x2="774.68" y2="242.60" stroke="#333333" stroke-width="1.0" />
<line x1="779.06" y1="7.40" x2="779.06" y2="13.40" stroke="#333333" stroke-width="1.0" />
<line x1="779.06" y1="236.60" x2="779.06" y2="242.60" stroke="#333333" stroke-width="1.0" />
<line x1="783.44" y1="7.40" x2="783.44" y2="13.40" stroke="#333333" stroke-width="1.0" />
<line x1="783.44" y1="236.60" x2="783.44" y2="242.60" stroke="#333333" stroke-width="1.0" />
<line x1="787.82" y1="7.40" x2="787.82" y2="13.40" stroke="#333333" stroke-width="1.0" />
<line x1="787.82" y1="236.60" x2="787.82" y2="242.60" stroke="#333333" stroke-width="1.0" />
<line x1="792.21" y1="7.40" x2="792.21" y2="13.40" stroke="#333333" stroke-width="1.0" />
<line x1="792.21" y1="236.60" x2="792.21" y2="242.60" stroke="#333333" stroke-width="1.0" />
<line x1="796.59" y1="7.40" x2="796.59" y2="13.40" stroke="#333333" stroke-width="1.0" />
<line x1="796.59" y1="236.60" x2="796.59" y2="242.60" stroke="#333333" stroke-width="1.0" />
<line x1="800.97" y1="7.40" x2="800.97" y2="13.40" stroke="#333333" stroke-width="1.0" />
<line x1="800.97" y1="236.60" x2="800.97" y2="242.60" stroke="#333333" stroke-width="1.0" />
<line x1="805.35" y1="7.40" x2="805.35" y2="13.40" stroke="#333333" stroke-width="1.0" />
<line x1="805.35" y1="236.60" x2="805.35" y2="242.60" stroke="#333333" stroke-width="1.0" />
<line x1="809.73" y1="7.40" x2="809.73" y2="13.40" stroke="#333333" stroke-width="1.0" />
<line x1="809.73" y1="236.60" x2="809.73" y2="242.60" stroke="#333333" stroke-width="1.0" />
<line x1="814.11" y1="7.40" x2="814.11" y2="13.40" stroke="#333333" stroke-width="1.0" />
<line x1="814.11" y1="236.60" x2="814.11" y2="242.60" stroke="#333333" stroke-width="1.0" />
<line x1="818.49" y1="7.40" x2="818.49" y2="13.40" stroke="#333333" stroke-width="1.0" />
<line x1="818.49" y1="236.60" x2="818.49" y2="242.60" stroke="#333333" stroke-width="1.0" />
<line x1="822.87" y1="7.40" x2="822.87" y2="13.40" stroke="#333333" stroke-width="1.0" />
<line x1="822.87" y1="236.60" x2="822.87" y2="242.60" stroke="#333333" stroke-width="1.0" />
<line x1="827.25" y1="7.40" x2="827.25" y2="13.40" stroke="#333333" stroke-width="1.0" />
<line x1="827.25" y1="236.60" x2="827.25" y2="242.60" stroke="#333333" stroke-width="1.0" />
<line x1="831.63" y1="7.40" x2="831.63" y2="13.40" stroke="#333333" stroke-width="1.0" />
<line x1="831.63" y1="236.60" x2="831.63" y2="242.60" stroke="#333333" stroke-width="1.0" />
<line x1="836.01" y1="7.40" x2="836.01" y2="13.40" stroke="#333333" stroke-width="1.0" />
<line x1="836.01" y1="236.60" x2="836.01" y2="242.60" stroke="#333333" stroke-width="1.0" />
<line x1="840.39" y1="7.40" x2="840.39" y2="13.40" stroke="#333333" stroke-width="1.0" />
<line x1="840.39" y1="236.60" x2="840.39" y2="242.60" stroke="#333333" stroke-width="1.0" />
<line x1="844.78" y1="7.40" x2="844.78" y2="13.40" stroke="#333333" stroke-width="1.0" />
<line x1="844.78" y1="236.60" x2="844.78" y2="242.60" stroke="#333333" stroke-width="1.0" />
<line x1="849.16" y1="7.40" x2="849.16" y2="13.40" stroke="#333333" stroke-width="1.0" />
<line x1="849.16" y1="236.60" x2="849.16" y2="242.60" stroke="#333333" stroke-width="1.0" />
<line x1="853.54" y1="7.40" x2="853.54" y2="13.40" stroke="#333333" stroke-width="1.0" />
<line x1="853.54" y1="236.60" x2="853.54" y2="242.60" stroke="#333333" stroke-width="1.0" />
<line x1="857.92" y1="7.40" x2="857.92" y2="13.40" stroke="#333333" stroke-width="1.0" />
<line x1="857.92" y1="236.60" x2="857.92" y2="242.60" stroke="#333333" stroke-width="1.0" />
<line x1="862.30" y1="7.40" x2="862.30" y2="13.40" stroke="#333333" stroke-width="1.0" />
<line x1="862.30" y1="236.60" x2="862.30" y2="242.60" stroke="#333333" stroke-width="1.0" />
<line x1="866.68" y1="1.90" x2="866.68" y2="13.40" stroke="#333333" stroke-width="1.1" />
<line x1="866.68" y1="236.60" x2="866.68" y2="248.60" stroke="#333333" stroke-width="1.1" />
<line x1="871.06" y1="7.40" x2="871.06" y2="13.40" stroke="#333333" stroke-width="1.0" />
<line x1="871.06" y1="236.60" x2="871.06" y2="242.60" stroke="#333333" stroke-width="1.0" />
<line x1="875.44" y1="7.40" x2="875.44" y2="13.40" stroke="#333333" stroke-width="1.0" />
<line x1="875.44" y1="236.60" x2="875.44" y2="242.60" stroke="#333333" stroke-width="1.0" />
<line x1="879.82" y1="7.40" x2="879.82" y2="13.40" stroke="#333333" stroke-width="1.0" />
<line x1="879.82" y1="236.60" x2="879.82" y2="242.60" stroke="#333333" stroke-width="1.0" />
<line x1="884.20" y1="7.40" x2="884.20" y2="13.40" stroke="#333333" stroke-width="1.0" />
<line x1="884.20" y1="236.60" x2="884.20" y2="242.60" stroke="#333333" stroke-width="1.0" />
<line x1="888.58" y1="7.40" x2="888.58" y2="13.40" stroke="#333333" stroke-width="1.0" />
<line x1="888.58" y1="236.60" x2="888.58" y2="242.60" stroke="#333333" stroke-width="1.0" />
<line x1="892.96" y1="7.40" x2="892.96" y2="13.40" stroke="#333333" stroke-width="1.0" />
<line x1="892.96" y1="236.60" x2="892.96" y2="242.60" stroke="#333333" stroke-width="1.0" />
<line x1="897.35" y1="7.40" x2="897.35" y2="13.40" stroke="#333333" stroke-width="1.0" />
<line x1="897.35" y1="236.60" x2="897.35" y2="242.60" stroke="#333333" stroke-width="1.0" />
<line x1="901.73" y1="7.40" x2="901.73" y2="13.40" stroke="#333333" stroke-width="1.0" />
<line x1="901.73" y1="236.60" x2="901.73" y2="242.60" stroke="#333333" stroke-width="1.0" />
<line x1="906.11" y1="7.40" x2="906.11" y2="13.40" stroke="#333333" stroke-width="1.0" />
<line x1="906.11" y1="236.60" x2="906.11" y2="242.60" stroke="#333333" stroke-width="1.0" />
<line x1="910.49" y1="7.40" x2="910.49" y2="13.40" stroke="#333333" stroke-width="1.0" />
<line x1="910.49" y1="236.60" x2="910.49" y2="242.60" stroke="#333333" stroke-width="1.0" />
<line x1="914.87" y1="7.40" x2="914.87" y2="13.40" stroke="#333333" stroke-width="1.0" />
<line x1="914.87" y1="236.60" x2="914.87" y2="242.60" stroke="#333333" stroke-width="1.0" />
<line x1="919.25" y1="7.40" x2="919.25" y2="13.40" stroke="#333333" stroke-width="1.0" />
<line x1="919.25" y1="236.60" x2="919.25" y2="242.60" stroke="#333333" stroke-width="1.0" />
<line x1="923.63" y1="7.40" x2="923.63" y2="13.40" stroke="#333333" stroke-width="1.0" />
<line x1="923.63" y1="236.60" x2="923.63" y2="242.60" stroke="#333333" stroke-width="1.0" />
<line x1="928.01" y1="7.40" x2="928.01" y2="13.40" stroke="#333333" stroke-width="1.0" />
<line x1="928.01" y1="236.60" x2="928.01" y2="242.60" stroke="#333333" stroke-width="1.0" />
<line x1="932.39" y1="7.40" x2="932.39" y2="13.40" stroke="#333333" stroke-width="1.0" />
<line x1="932.39" y1="236.60" x2="932.39" y2="242.60" stroke="#333333" stroke-width="1.0" />
<line x1="936.77" y1="7.40" x2="936.77" y2="13.40" stroke="#333333" stroke-width="1.0" />
<line x1="936.77" y1="236.60" x2="936.77" y2="242.60" stroke="#333333" stroke-width="1.0" />
<line x1="941.15" y1="7.40" x2="941.15" y2="13.40" stroke="#333333" stroke-width="1.0" />
<line x1="941.15" y1="236.60" x2="941.15" y2="242.60" stroke="#333333" stroke-width="1.0" />
<line x1="945.53" y1="7.40" x2="945.53" y2="13.40" stroke="#333333" stroke-width="1.0" />
<line x1="945.53" y1="236.60" x2="945.53" y2="242.60" stroke="#333333" stroke-width="1.0" />
<line x1="949.92" y1="7.40" x2="949.92" y2="13.40" stroke="#333333" stroke-width="1.0" />
<line x1="949.92" y1="236.60" x2="949.92" y2="242.60" stroke="#333333" stroke-width="1.0" />
<line x1="954.30" y1="7.40" x2="954.30" y2="13.40" stroke="#333333" stroke-width="1.0" />
<line x1="954.30" y1="236.60" x2="954.30" y2="242.60" stroke="#333333" stroke-width="1.0" />
<line x1="958.68" y1="7.40" x2="958.68" y2="13.40" stroke="#333333" stroke-width="1.0" />
<line x1="958.68" y1="236.60" x2="958.68" y2="242.60" stroke="#333333" stroke-width="1.0" />
<line x1="963.06" y1="7.40" x2="963.06" y2="13.40" stroke="#333333" stroke-width="1.0" />
<line x1="963.06" y1="236.60" x2="963.06" y2="242.60" stroke="#333333" stroke-width="1.0" />
<line x1="967.44" y1="7.40" x2="967.44" y2="13.40" stroke="#333333" stroke-width="1.0" />
<line x1="967.44" y1="236.60" x2="967.44" y2="242.60" stroke="#333333" stroke-width="1.0" />
<line x1="971.82" y1="1.90" x2="971.82" y2="13.40" stroke="#333333" stroke-width="1.1" />
<line x1="971.82" y1="236.60" x2="971.82" y2="248.60" stroke="#333333" stroke-width="1.1" />
<line x1="976.20" y1="7.40" x2="976.20" y2="13.40" stroke="#333333" stroke-width="1.0" />
<line x1="976.20" y1="236.60" x2="976.20" y2="242.60" stroke="#333333" stroke-width="1.0" />
<line x1="980.58" y1="7.40" x2="980.58" y2="13.40" stroke="#333333" stroke-width="1.0" />
<line x1="980.58" y1="236.60" x2="980.58" y2="242.60" stroke="#333333" stroke-width="1.0" />
<line x1="984.96" y1="7.40" x2="984.96" y2="13.40" stroke="#333333" stroke-width="1.0" />
<line x1="984.96" y1="236.60" x2="984.96" y2="242.60" stroke="#333333" stroke-width="1.0" />
<line x1="989.34" y1="7.40" x2="989.34" y2="13.40" stroke="#333333" stroke-width="1.0" />
<line x1="989.34" y1="236.60" x2="989.34" y2="242.60" stroke="#333333" stroke-width="1.0" />
<line x1="993.72" y1="7.40" x2="993.72" y2="13.40" stroke="#333333" stroke-width="1.0" />
<line x1="993.72" y1="236.60" x2="993.72" y2="242.60" stroke="#333333" stroke-width="1.0" />
<line x1="998.10" y1="7.40" x2="998.10" y2="13.40" stroke="#333333" stroke-width="1.0" />
<line x1="998.10" y1="236.60" x2="998.10" y2="242.60" stroke="#333333" stroke-width="1.0" />
<line x1="1002.49" y1="7.40" x2="1002.49" y2="13.40" stroke="#333333" stroke-width="1.0" />
<line x1="1002.49" y1="236.60" x2="1002.49" y2="242.60" stroke="#333333" stroke-width="1.0" />
<line x1="1006.87" y1="7.40" x2="1006.87" y2="13.40" stroke="#333333" stroke-width="1.0" />
<line x1="1006.87" y1="236.60" x2="1006.87" y2="242.60" stroke="#333333" stroke-width="1.0" />
<line x1="1011.25" y1="7.40" x2="1011.25" y2="13.40" stroke="#333333" stroke-width="1.0" />
<line x1="1011.25" y1="236.60" x2="1011.25" y2="242.60" stroke="#333333" stroke-width="1.0" />
<line x1="1015.63" y1="7.40" x2="1015.63" y2="13.40" stroke="#333333" stroke-width="1.0" />
<line x1="1015.63" y1="236.60" x2="1015.63" y2="242.60" stroke="#333333" stroke-width="1.0" />
<line x1="1020.01" y1="7.40" x2="1020.01" y2="13.40" stroke="#333333" stroke-width="1.0" />
<line x1="1020.01" y1="236.60" x2="1020.01" y2="242.60" stroke="#333333" stroke-width="1.0" />
<line x1="1024.39" y1="7.40" x2="1024.39" y2="13.40" stroke="#333333" stroke-width="1.0" />
<line x1="1024.39" y1="236.60" x2="1024.39" y2="242.60" stroke="#333333" stroke-width="1.0" />
<line x1="1028.77" y1="7.40" x2="1028.77" y2="13.40" stroke="#333333" stroke-width="1.0" />
<line x1="1028.77" y1="236.60" x2="1028.77" y2="242.60" stroke="#333333" stroke-width="1.0" />
<line x1="1033.15" y1="7.40" x2="1033.15" y2="13.40" stroke="#333333" stroke-width="1.0" />
<line x1="1033.15" y1="236.60" x2="1033.15" y2="242.60" stroke="#333333" stroke-width="1.0" />
<line x1="1037.53" y1="7.40" x2="1037.53" y2="13.40" stroke="#333333" stroke-width="1.0" />
<line x1="1037.53" y1="236.60" x2="1037.53" y2="242.60" stroke="#333333" stroke-width="1.0" />
<line x1="1041.91" y1="7.40" x2="1041.91" y2="13.40" stroke="#333333" stroke-width="1.0" />
<line x1="1041.91" y1="236.60" x2="1041.91" y2="242.60" stroke="#333333" stroke-width="1.0" />
<line x1="1046.29" y1="7.40" x2="1046.29" y2="13.40" stroke="#333333" stroke-width="1.0" />
<line x1="1046.29" y1="236.60" x2="1046.29" y2="242.60" stroke="#333333" stroke-width="1.0" />
<line x1="1050.67" y1="7.40" x2="1050.67" y2="13.40" stroke="#333333" stroke-width="1.0" />
<line x1="1050.67" y1="236.60" x2="1050.67" y2="242.60" stroke="#333333" stroke-width="1.0" />
<line x1="1055.06" y1="7.40" x2="1055.06" y2="13.40" stroke="#333333" stroke-width="1.0" />
<line x1="1055.06" y1="236.60" x2="1055.06" y2="242.60" stroke="#333333" stroke-width="1.0" />
<line x1="1059.44" y1="7.40" x2="1059.44" y2="13.40" stroke="#333333" stroke-width="1.0" />
<line x1="1059.44" y1="236.60" x2="1059.44" y2="242.60" stroke="#333333" stroke-width="1.0" />
<line x1="1063.82" y1="7.40" x2="1063.82" y2="13.40" stroke="#333333" stroke-width="1.0" />
<line x1="1063.82" y1="236.60" x2="1063.82" y2="242.60" stroke="#333333" stroke-width="1.0" />
<line x1="1068.20" y1="7.40" x2="1068.20" y2="13.40" stroke="#333333" stroke-width="1.0" />
<line x1="1068.20" y1="236.60" x2="1068.20" y2="242.60" stroke="#333333" stroke-width="1.0" />
<line x1="1072.58" y1="7.40" x2="1072.58" y2="13.40" stroke="#333333" stroke-width="1.0" />
<line x1="1072.58" y1="236.60" x2="1072.58" y2="242.60" stroke="#333333" stroke-width="1.0" />
<line x1="1076.96" y1="1.90" x2="1076.96" y2="13.40" stroke="#333333" stroke-width="1.1" />
<line x1="1076.96" y1="236.60" x2="1076.96" y2="248.60" stroke="#333333" stroke-width="1.1" />
<line x1="1081.34" y1="7.40" x2="1081.34" y2="13.40" stroke="#333333" stroke-width="1.0" />
<line x1="1081.34" y1="236.60" x2="1081.34" y2="242.60" stroke="#333333" stroke-width="1.0" />
<line x1="1085.72" y1="7.40" x2="1085.72" y2="13.40" stroke="#333333" stroke-width="1.0" />
<line x1="1085.72" y1="236.60" x2="1085.72" y2="242.60" stroke="#333333" stroke-width="1.0" />
<line x1="1090.10" y1="7.40" x2="1090.10" y2="13.40" stroke="#333333" stroke-width="1.0" />
<line x1="1090.10" y1="236.60" x2="1090.10" y2="242.60" stroke="#333333" stroke-width="1.0" />
<line x1="1094.48" y1="7.40" x2="1094.48" y2="13.40" stroke="#333333" stroke-width="1.0" />
<line x1="1094.48" y1="236.60" x2="1094.48" y2="242.60" stroke="#333333" stroke-width="1.0" />
<line x1="1098.86" y1="7.40" x2="1098.86" y2="13.40" stroke="#333333" stroke-width="1.0" />
<line x1="1098.86" y1="236.60" x2="1098.86" y2="242.60" stroke="#333333" stroke-width="1.0" />
<line x1="1103.24" y1="7.40" x2="1103.24" y2="13.40" stroke="#333333" stroke-width="1.0" />
<line x1="1103.24" y1="236.60" x2="1103.24" y2="242.60" stroke="#333333" stroke-width="1.0" />
<line x1="1107.63" y1="7.40" x2="1107.63" y2="13.40" stroke="#333333" stroke-width="1.0" />
<line x1="1107.63" y1="236.60" x2="1107.63" y2="242.60" stroke="#333333" stroke-width="1.0" />
<line x1="1112.01" y1="7.40" x2="1112.01" y2="13.40" stroke="#333333" stroke-width="1.0" />
<line x1="1112.01" y1="236.60" x2="1112.01" y2="242.60" stroke="#333333" stroke-width="1.0" />
<line x1="1116.39" y1="7.40" x2="1116.39" y2="13.40" stroke="#333333" stroke-width="1.0" />
<line x1="1116.39" y1="236.60" x2="1116.39" y2="242.60" stroke="#333333" stroke-width="1.0" />
<line x1="1120.77" y1="7.40" x2="1120.77" y2="13.40" stroke="#333333" stroke-width="1.0" />
<line x1="1120.77" y1="236.60" x2="1120.77" y2="242.60" stroke="#333333" stroke-width="1.0" />
<line x1="1125.15" y1="7.40" x2="1125.15" y2="13.40" stroke="#333333" stroke-width="1.0" />
<line x1="1125.15" y1="236.60" x2="1125.15" y2="242.60" stroke="#333333" stroke-width="1.0" />
<line x1="1129.53" y1="7.40" x2="1129.53" y2="13.40" stroke="#333333" stroke-width="1.0" />
<line x1="1129.53" y1="236.60" x2="1129.53" y2="242.60" stroke="#333333" stroke-width="1.0" />
<line x1="1133.91" y1="7.40" x2="1133.91" y2="13.40" stroke="#333333" stroke-width="1.0" />
<line x1="1133.91" y1="236.60" x2="1133.91" y2="242.60" stroke="#333333" stroke-width="1.0" />
<line x1="1138.29" y1="7.40" x2="1138.29" y2="13.40" stroke="#333333" stroke-width="1.0" />
<line x1="1138.29" y1="236.60" x2="1138.29" y2="242.60" stroke="#333333" stroke-width="1.0" />
<line x1="1142.67" y1="7.40" x2="1142.67" y2="13.40" stroke="#333333" stroke-width="1.0" />
<line x1="1142.67" y1="236.60" x2="1142.67" y2="242.60" stroke="#333333" stroke-width="1.0" />
<line x1="1147.05" y1="7.40" x2="1147.05" y2="13.40" stroke="#333333" stroke-width="1.0" />
<line x1="1147.05" y1="236.60" x2="1147.05" y2="242.60" stroke="#333333" stroke-width="1.0" />
<line x1="1151.43" y1="7.40" x2="1151.43" y2="13.40" stroke="#333333" stroke-width="1.0" />
<line x1="1151.43" y1="236.60" x2="1151.43" y2="242.60" stroke="#333333" stroke-width="1.0" />
<line x1="1155.82" y1="7.40" x2="1155.82" y2="13.40" stroke="#333333" stroke-width="1.0" />
<line x1="1155.82" y1="236.60" x2="1155.82" y2="242.60" stroke="#333333" stroke-width="1.0" />
<line x1="1160.20" y1="7.40" x2="1160.20" y2="13.40" stroke="#333333" stroke-width="1.0" />
<line x1="1160.20" y1="236.60" x2="1160.20" y2="242.60" stroke="#333333" stroke-width="1.0" />
<line x1="1164.58" y1="7.40" x2="1164.58" y2="13.40" stroke="#333333" stroke-width="1.0" />
<line x1="1164.58" y1="236.60" x2="1164.58" y2="242.60" stroke="#333333" stroke-width="1.0" />
<line x1="1168.96" y1="7.40" x2="1168.96" y2="13.40" stroke="#333333" stroke-width="1.0" />
<line x1="1168.96" y1="236.60" x2="1168.96" y2="242.60" stroke="#333333" stroke-width="1.0" />
<line x1="1173.34" y1="7.40" x2="1173.34" y2="13.40" stroke="#333333" stroke-width="1.0" />
<line x1="1173.34" y1="236.60" x2="1173.34" y2="242.60" stroke="#333333" stroke-width="1.0" />
<line x1="1177.72" y1="7.40" x2="1177.72" y2="13.40" stroke="#333333" stroke-width="1.0" />
<line x1="1177.72" y1="236.60" x2="1177.72" y2="242.60" stroke="#333333" stroke-width="1.0" />
<line x1="235.84" y1="13.40" x2="235.84" y2="236.60" stroke="#333" stroke-width="1.1" stroke-dasharray="2.8 4.5"/>
<line x1="340.98" y1="13.40" x2="340.98" y2="236.60" stroke="#333" stroke-width="1.1" stroke-dasharray="2.8 4.5"/>
<line x1="446.12" y1="13.40" x2="446.12" y2="236.60" stroke="#333" stroke-width="1.1" stroke-dasharray="2.8 4.5"/>
<line x1="551.26" y1="13.40" x2="551.26" y2="236.60" stroke="#333" stroke-width="1.1" stroke-dasharray="2.8 4.5"/>
<line x1="656.40" y1="13.40" x2="656.40" y2="236.60" stroke="#333" stroke-width="1.1" stroke-dasharray="2.8 4.5"/>
<line x1="761.54" y1="13.40" x2="761.54" y2="236.60" stroke="#333" stroke-width="1.1" stroke-dasharray="2.8 4.5"/>
<line x1="866.68" y1="13.40" x2="866.68" y2="236.60" stroke="#333" stroke-width="1.1" stroke-dasharray="2.8 4.5"/>
<line x1="971.82" y1="13.40" x2="971.82" y2="236.60" stroke="#333" stroke-width="1.1" stroke-dasharray="2.8 4.5"/>
<line x1="1076.96" y1="13.40" x2="1076.96" y2="236.60" stroke="#333" stroke-width="1.1" stroke-dasharray="2.8 4.5"/>
<line x1="1182.10" y1="13.40" x2="1182.10" y2="236.60" stroke="#333" stroke-width="1.1" stroke-dasharray="2.8 4.5"/>
<line x1="119.00" y1="191.96" x2="130.70" y2="191.96" stroke="#4a4a4a" stroke-width="1.2" />
<line x1="1182.10" y1="191.96" x2="1194.00" y2="191.96" stroke="#4a4a4a" stroke-width="1.2" />
<line x1="119.00" y1="147.32" x2="130.70" y2="147.32" stroke="#4a4a4a" stroke-width="1.2" />
<line x1="1182.10" y1="147.32" x2="1194.00" y2="147.32" stroke="#4a4a4a" stroke-width="1.2" />
<line x1="119.00" y1="102.68" x2="130.70" y2="102.68" stroke="#4a4a4a" stroke-width="1.2" />
<line x1="1182.10" y1="102.68" x2="1194.00" y2="102.68" stroke="#4a4a4a" stroke-width="1.2" />
<line x1="119.00" y1="58.04" x2="130.70" y2="58.04" stroke="#4a4a4a" stroke-width="1.2" />
<line x1="1182.10" y1="58.04" x2="1194.00" y2="58.04" stroke="#4a4a4a" stroke-width="1.2" />
<line x1="119.00" y1="214.28" x2="130.70" y2="214.28" stroke="#4a4a4a" stroke-width="1.2" />
<line x1="1182.10" y1="214.28" x2="1194.00" y2="214.28" stroke="#4a4a4a" stroke-width="1.2" />
<line x1="119.00" y1="169.64" x2="130.70" y2="169.64" stroke="#4a4a4a" stroke-width="1.2" />
<line x1="1182.10" y1="169.64" x2="1194.00" y2="169.64" stroke="#4a4a4a" stroke-width="1.2" />
<line x1="119.00" y1="125.00" x2="130.70" y2="125.00" stroke="#4a4a4a" stroke-width="1.2" />
<line x1="1182.10" y1="125.00" x2="1194.00" y2="125.00" stroke="#4a4a4a" stroke-width="1.2" />
<line x1="119.00" y1="80.36" x2="130.70" y2="80.36" stroke="#4a4a4a" stroke-width="1.2" />
<line x1="1182.10" y1="80.36" x2="1194.00" y2="80.36" stroke="#4a4a4a" stroke-width="1.2" />
<line x1="119.00" y1="35.72" x2="130.70" y2="35.72" stroke="#4a4a4a" stroke-width="1.2" />
<line x1="1182.10" y1="35.72" x2="1194.00" y2="35.72" stroke="#4a4a4a" stroke-width="1.2" />
<text transform="translate(63.03,221.28) scale(1.2111,1)" font-size="21" fill="#000" letter-spacing="0.000">−2.0</text>
<text transform="translate(77.79,176.64) scale(1.2007,1)" font-size="21" fill="#000" letter-spacing="0.000">0.0</text>
<text transform="translate(77.79,132.00) scale(1.2007,1)" font-size="21" fill="#000" letter-spacing="0.000">2.0</text>
<text transform="translate(78.30,87.36) scale(1.1805,1)" font-size="21" fill="#000" letter-spacing="0.000">4.0</text>
<text transform="translate(77.79,42.72) scale(1.2007,1)" font-size="21" fill="#000" letter-spacing="0.000">6.0</text>
<text transform="translate(121.79,262.10) scale(1.1728,1)" font-size="15.2" fill="#000" stroke="#000" stroke-width="0.3" letter-spacing="0.000">00</text>
<text transform="translate(148.08,262.10) scale(1.1602,1)" font-size="15.2" fill="#000" stroke="#000" stroke-width="0.3" letter-spacing="0.000">06</text>
<text transform="translate(173.35,262.10) scale(1.2546,1)" font-size="15.2" fill="#000" stroke="#000" stroke-width="0.3" letter-spacing="0.000">12</text>
<text transform="translate(199.66,262.10) scale(1.2402,1)" font-size="15.2" fill="#000" stroke="#000" stroke-width="0.3" letter-spacing="0.000">18</text>
<text transform="translate(226.93,262.10) scale(1.1728,1)" font-size="15.2" fill="#000" stroke="#000" stroke-width="0.3" letter-spacing="0.000">00</text>
<text transform="translate(253.22,262.10) scale(1.1602,1)" font-size="15.2" fill="#000" stroke="#000" stroke-width="0.3" letter-spacing="0.000">06</text>
<text transform="translate(278.49,262.10) scale(1.2546,1)" font-size="15.2" fill="#000" stroke="#000" stroke-width="0.3" letter-spacing="0.000">12</text>
<text transform="translate(304.80,262.10) scale(1.2402,1)" font-size="15.2" fill="#000" stroke="#000" stroke-width="0.3" letter-spacing="0.000">18</text>
<text transform="translate(332.07,262.10) scale(1.1728,1)" font-size="15.2" fill="#000" stroke="#000" stroke-width="0.3" letter-spacing="0.000">00</text>
<text transform="translate(358.36,262.10) scale(1.1602,1)" font-size="15.2" fill="#000" stroke="#000" stroke-width="0.3" letter-spacing="0.000">06</text>
<text transform="translate(383.63,262.10) scale(1.2546,1)" font-size="15.2" fill="#000" stroke="#000" stroke-width="0.3" letter-spacing="0.000">12</text>
<text transform="translate(409.94,262.10) scale(1.2402,1)" font-size="15.2" fill="#000" stroke="#000" stroke-width="0.3" letter-spacing="0.000">18</text>
<text transform="translate(437.21,262.10) scale(1.1728,1)" font-size="15.2" fill="#000" stroke="#000" stroke-width="0.3" letter-spacing="0.000">00</text>
<text transform="translate(463.50,262.10) scale(1.1602,1)" font-size="15.2" fill="#000" stroke="#000" stroke-width="0.3" letter-spacing="0.000">06</text>
<text transform="translate(488.77,262.10) scale(1.2546,1)" font-size="15.2" fill="#000" stroke="#000" stroke-width="0.3" letter-spacing="0.000">12</text>
<text transform="translate(515.08,262.10) scale(1.2402,1)" font-size="15.2" fill="#000" stroke="#000" stroke-width="0.3" letter-spacing="0.000">18</text>
<text transform="translate(542.35,262.10) scale(1.1728,1)" font-size="15.2" fill="#000" stroke="#000" stroke-width="0.3" letter-spacing="0.000">00</text>
<text transform="translate(568.64,262.10) scale(1.1602,1)" font-size="15.2" fill="#000" stroke="#000" stroke-width="0.3" letter-spacing="0.000">06</text>
<text transform="translate(593.91,262.10) scale(1.2546,1)" font-size="15.2" fill="#000" stroke="#000" stroke-width="0.3" letter-spacing="0.000">12</text>
<text transform="translate(620.22,262.10) scale(1.2402,1)" font-size="15.2" fill="#000" stroke="#000" stroke-width="0.3" letter-spacing="0.000">18</text>
<text transform="translate(647.49,262.10) scale(1.1728,1)" font-size="15.2" fill="#000" stroke="#000" stroke-width="0.3" letter-spacing="0.000">00</text>
<text transform="translate(673.78,262.10) scale(1.1602,1)" font-size="15.2" fill="#000" stroke="#000" stroke-width="0.3" letter-spacing="0.000">06</text>
<text transform="translate(699.05,262.10) scale(1.2546,1)" font-size="15.2" fill="#000" stroke="#000" stroke-width="0.3" letter-spacing="0.000">12</text>
<text transform="translate(725.36,262.10) scale(1.2402,1)" font-size="15.2" fill="#000" stroke="#000" stroke-width="0.3" letter-spacing="0.000">18</text>
<text transform="translate(752.63,262.10) scale(1.1728,1)" font-size="15.2" fill="#000" stroke="#000" stroke-width="0.3" letter-spacing="0.000">00</text>
<text transform="translate(778.92,262.10) scale(1.1602,1)" font-size="15.2" fill="#000" stroke="#000" stroke-width="0.3" letter-spacing="0.000">06</text>
<text transform="translate(804.19,262.10) scale(1.2546,1)" font-size="15.2" fill="#000" stroke="#000" stroke-width="0.3" letter-spacing="0.000">12</text>
<text transform="translate(830.50,262.10) scale(1.2402,1)" font-size="15.2" fill="#000" stroke="#000" stroke-width="0.3" letter-spacing="0.000">18</text>
<text transform="translate(857.77,262.10) scale(1.1728,1)" font-size="15.2" fill="#000" stroke="#000" stroke-width="0.3" letter-spacing="0.000">00</text>
<text transform="translate(884.06,262.10) scale(1.1602,1)" font-size="15.2" fill="#000" stroke="#000" stroke-width="0.3" letter-spacing="0.000">06</text>
<text transform="translate(909.33,262.10) scale(1.2546,1)" font-size="15.2" fill="#000" stroke="#000" stroke-width="0.3" letter-spacing="0.000">12</text>
<text transform="translate(935.64,262.10) scale(1.2402,1)" font-size="15.2" fill="#000" stroke="#000" stroke-width="0.3" letter-spacing="0.000">18</text>
<text transform="translate(962.91,262.10) scale(1.1728,1)" font-size="15.2" fill="#000" stroke="#000" stroke-width="0.3" letter-spacing="0.000">00</text>
<text transform="translate(989.20,262.10) scale(1.1602,1)" font-size="15.2" fill="#000" stroke="#000" stroke-width="0.3" letter-spacing="0.000">06</text>
<text transform="translate(1014.47,262.10) scale(1.2546,1)" font-size="15.2" fill="#000" stroke="#000" stroke-width="0.3" letter-spacing="0.000">12</text>
<text transform="translate(1040.78,262.10) scale(1.2402,1)" font-size="15.2" fill="#000" stroke="#000" stroke-width="0.3" letter-spacing="0.000">18</text>
<text transform="translate(1068.05,262.10) scale(1.1728,1)" font-size="15.2" fill="#000" stroke="#000" stroke-width="0.3" letter-spacing="0.000">00</text>
<text transform="translate(1094.34,262.10) scale(1.1602,1)" font-size="15.2" fill="#000" stroke="#000" stroke-width="0.3" letter-spacing="0.000">06</text>
<text transform="translate(1119.61,262.10) scale(1.2546,1)" font-size="15.2" fill="#000" stroke="#000" stroke-width="0.3" letter-spacing="0.000">12</text>
<text transform="translate(1145.92,262.10) scale(1.2402,1)" font-size="15.2" fill="#000" stroke="#000" stroke-width="0.3" letter-spacing="0.000">18</text>
<text transform="translate(1173.19,262.10) scale(1.1728,1)" font-size="15.2" fill="#000" stroke="#000" stroke-width="0.3" letter-spacing="0.000">00</text>
<text transform="translate(143.48,285.70) scale(0.9472,1)" font-size="22" fill="#000" letter-spacing="0.000">JAN</text>
<text transform="translate(193.30,285.70) scale(1.1788,1)" font-size="22" fill="#000" letter-spacing="0.000">30</text>
<text transform="translate(245.78,285.70) scale(0.9523,1)" font-size="22" fill="#000" letter-spacing="0.000">JAN</text>
<text transform="translate(297.01,285.70) scale(1.0827,1)" font-size="22" fill="#000" letter-spacing="0.000">31</text>
<text transform="translate(351.62,285.70) scale(1.0253,1)" font-size="22" fill="#000" letter-spacing="0.000">FEB</text>
<text transform="translate(413.16,285.70) scale(1.2338,1)" font-size="22" fill="#000" letter-spacing="0.000">1</text>
<text transform="translate(456.69,285.70) scale(1.0253,1)" font-size="22" fill="#000" letter-spacing="0.000">FEB</text>
<text transform="translate(520.07,285.70) scale(1.1752,1)" font-size="22" fill="#000" letter-spacing="0.000">2</text>
<text transform="translate(561.76,285.70) scale(1.0253,1)" font-size="22" fill="#000" letter-spacing="0.000">FEB</text>
<text transform="translate(624.81,285.70) scale(1.1752,1)" font-size="22" fill="#000" letter-spacing="0.000">3</text>
<text transform="translate(666.83,285.70) scale(1.0253,1)" font-size="22" fill="#000" letter-spacing="0.000">FEB</text>
<text transform="translate(730.64,285.70) scale(1.0474,1)" font-size="22" fill="#000" letter-spacing="0.000">4</text>
<text transform="translate(771.90,285.70) scale(1.0253,1)" font-size="22" fill="#000" letter-spacing="0.000">FEB</text>
<text transform="translate(834.51,285.70) scale(1.2045,1)" font-size="22" fill="#000" letter-spacing="0.000">5</text>
<text transform="translate(876.97,285.70) scale(1.0253,1)" font-size="22" fill="#000" letter-spacing="0.000">FEB</text>
<text transform="translate(940.11,285.70) scale(1.1205,1)" font-size="22" fill="#000" letter-spacing="0.000">6</text>
<text transform="translate(982.04,285.70) scale(1.0253,1)" font-size="22" fill="#000" letter-spacing="0.000">FEB</text>
<text transform="translate(1044.25,285.70) scale(1.2045,1)" font-size="22" fill="#000" letter-spacing="0.000">7</text>
<text transform="translate(1087.11,285.70) scale(1.0253,1)" font-size="22" fill="#000" letter-spacing="0.000">FEB</text>
<text transform="translate(1150.09,285.70) scale(1.1472,1)" font-size="22" fill="#000" letter-spacing="0.000">8</text>
<line x1="130.70" y1="169.64" x2="1182.10" y2="169.64" stroke="#555" stroke-width="1.0" stroke-dasharray="3.5 4"/>
<polyline points="139.5,235.7 150.4,217.2 163.6,214.3 167.1,155.4 172.3,96.0 176.3,112.9 181.1,96.4 185.5,106.5 189.8,106.5 192.9,123.2 198.6,129.7 203.0,133.3 206.1,170.1 211.3,206.2 216.1,201.6 221.4,171.9 225.3,144.4 231.9,127.7 238.0,113.8 242.8,120.5 246.4,160.0 253.8,160.0 261.2,161.8 268.3,160.9 271.3,92.6 276.1,46.9 280.5,8.9 293.7,8.9 301.6,50.2 309.0,102.0 316.4,196.0 321.3,201.6 325.6,196.0 334.0,160.9 338.4,205.4 343.2,216.3 347.6,208.0 352.4,142.6 355.9,135.0 360.7,134.2 365.5,168.3 369.5,203.3 373.4,142.6 379.1,109.4 382.6,65.0 387.0,24.6 390.9,73.4 395.7,57.6 401.4,77.9 408.4,98.2 413.3,115.0 417.6,170.1 422.0,187.7 426.0,150.9 435.2,139.7 440.0,150.0 443.5,201.6 447.4,207.1 456.6,212.7 461.9,219.0 465.8,218.1 475.0,223.7 479.4,220.1 482.5,148.0 486.9,98.2 496.9,76.1 500.9,48.4 505.3,44.6 510.1,102.0 513.6,171.9 518.4,216.3 531.1,235.7 545.1,225.4 548.6,160.9 552.1,161.8 554.8,155.4 562.2,142.2 567.0,148.9 579.7,146.2 583.7,147.8 588.1,112.9 592.9,103.8 598.1,8.9 611.3,8.9 620.5,79.9 627.9,109.4 632.3,117.6 637.1,120.5 640.6,137.1 645.4,125.0 650.3,159.1 654.6,164.7 659.0,150.0 667.4,109.4 675.7,170.1 680.5,168.7 689.7,182.1 692.3,116.7 698.9,8.9 719.0,8.9 723.9,83.5 728.2,156.2 733.1,165.6 742.3,168.7 746.2,110.3 750.1,173.0 758.5,178.6 763.3,127.7 767.7,185.0 776.9,191.5 790.0,197.8 794.4,191.5 799.2,120.3 805.8,8.9 824.2,8.9 827.7,83.5 834.3,157.4 841.7,160.7 850.9,168.3 860.1,162.5 864.5,140.4 872.8,161.8 877.6,144.4 882.0,111.2 886.0,120.3 890.8,169.2 899.5,150.0 902.6,89.1 907.9,13.4 912.7,24.6 917.1,50.2 921.0,50.7 925.4,42.0 930.2,49.3 937.2,52.5 948.6,44.6 952.1,45.8 961.3,38.4 972.5,43.6 982.6,46.5 995.6,53.3 1003.8,60.7 1009.4,57.0 1016.8,34.0 1020.1,6.3 1024.1,6.3 1026.0,30.3 1028.7,6.3 1032.5,6.3 1038.0,54.2 1044.4,80.0 1049.0,83.7 1057.3,83.4 1061.0,168.5 1066.5,183.3 1071.1,198.0 1074.8,198.0 1079.4,194.3 1084.1,185.1 1087.7,126.1 1092.3,113.2 1096.0,112.3 1106.2,116.9 1110.8,105.8 1118.1,57.9 1122.7,6.3 1128.3,6.3 1132.0,35.8 1138.4,54.2 1149.5,89.3 1158.7,100.3 1162.4,106.8 1167.0,189.7 1175.3,139.0 1179.9,160.2" fill="none" stroke="#138a13" stroke-width="1.0" stroke-linejoin="round" clip-path="url(#c0)"/>
<polyline points="132.9,187.7 148.7,171.9 161.8,160.9 167.1,157.4 173.6,148.9 180.2,151.8 183.7,142.2 189.4,142.2 194.7,145.3 202.1,145.3 211.3,148.9 220.5,138.8 228.0,127.7 235.4,116.7 240.2,116.7 246.4,119.4 255.6,112.1 267.8,107.4 272.2,94.6 279.6,76.1 287.1,64.1 296.3,68.8 303.7,73.4 309.0,90.9 316.4,125.9 322.1,134.8 327.8,131.5 334.0,130.6 342.3,148.9 347.6,146.2 356.8,133.3 360.7,133.3 369.5,142.6 378.2,130.6 387.0,107.1 390.9,111.2 395.7,108.5 400.1,107.4 404.9,110.3 414.1,120.3 421.6,131.5 426.8,133.3 440.0,139.7 447.4,154.5 456.6,159.1 465.8,161.8 477.7,168.3 487.7,150.9 496.1,142.6 505.3,132.4 510.1,137.1 518.4,159.1 532.0,183.0 541.2,187.7 545.1,185.9 549.5,177.7 554.8,170.1 562.2,161.4 570.5,158.3 575.4,154.0 583.7,161.4 592.9,157.4 600.3,124.1 605.6,100.0 610.4,87.3 614.8,89.1 622.2,107.4 631.4,124.1 640.6,127.5 655.5,110.3 667.4,95.5 672.2,98.2 681.4,118.5 684.9,123.2 689.7,124.1 698.0,83.5 706.3,63.2 711.6,57.6 718.2,63.2 723.9,74.3 729.1,90.9 733.9,103.8 741.4,110.3 745.8,107.4 750.1,116.7 759.8,126.8 763.3,126.3 767.7,134.2 776.9,139.7 785.2,138.8 794.4,139.7 802.7,107.4 811.9,83.0 816.7,80.4 820.2,80.8 825.1,87.3 834.3,105.6 841.7,109.4 847.0,112.1 851.8,112.9 855.3,109.4 864.5,115.8 869.3,112.9 877.6,118.5 886.8,115.8 891.2,116.3 899.5,107.4 907.9,73.4 912.7,68.3 917.1,68.8 926.3,59.6 934.6,55.8 939.4,51.8 948.6,42.9 952.1,42.9 961.3,36.4 965.7,37.1 972.5,41.0 982.6,42.3 987.3,39.5 995.6,44.6 1003.8,50.9 1009.4,52.8 1022.3,44.1 1030.6,55.2 1035.2,53.3 1044.4,75.4 1049.0,73.6 1057.3,71.7 1061.9,89.3 1070.2,114.7 1079.4,120.2 1084.1,126.5 1092.3,109.5 1101.5,108.6 1110.8,102.2 1122.7,70.8 1127.3,63.5 1132.9,63.8 1142.1,69.4 1149.5,74.5 1158.7,83.7 1167.0,116.0 1171.6,121.5 1175.3,119.1 1179.9,123.4" fill="none" stroke="#10f010" stroke-width="1.1" stroke-linejoin="round" clip-path="url(#c0)"/>
<polyline points="132.9,221.9 137.7,219.0 145.2,207.1 154.4,195.1 161.8,186.8 169.3,173.0 172.8,169.2 180.2,170.1 185.5,161.8 189.4,160.9 196.0,166.5 202.1,168.3 210.4,176.6 217.0,168.3 226.2,148.9 234.5,132.4 244.6,132.4 248.1,135.0 255.6,126.8 267.8,125.0 272.2,112.9 281.4,79.9 290.2,60.9 298.0,67.0 304.6,83.5 316.4,151.8 322.1,161.8 325.6,160.9 329.6,156.2 334.0,155.4 343.2,182.8 347.6,178.6 352.4,162.7 355.9,156.2 360.7,153.6 369.5,168.7 378.2,151.8 387.0,115.2 390.9,121.2 395.7,115.8 400.1,115.0 404.9,118.5 414.1,135.0 422.5,153.6 426.8,154.0 440.0,160.0 447.4,177.7 456.6,185.0 461.9,190.2 465.8,190.4 478.5,198.2 487.7,171.6 496.1,161.8 505.3,145.3 510.1,150.9 518.4,182.1 532.0,212.0 537.7,212.0 545.1,209.4 549.5,201.6 554.8,194.2 557.8,185.0 562.2,175.7 566.2,174.8 570.5,176.6 575.4,168.1 579.7,168.1 583.7,170.1 588.1,161.8 592.9,163.2 600.3,122.3 605.6,88.2 610.4,86.2 614.8,91.7 622.2,112.9 631.4,142.2 640.6,145.3 655.5,125.0 667.4,107.1 672.2,112.1 681.4,138.8 684.9,146.7 689.7,146.7 698.0,90.9 706.3,59.6 711.6,50.7 718.2,55.8 723.9,70.5 729.1,96.4 733.9,119.4 741.4,125.9 745.8,122.3 750.1,136.2 759.8,142.9 763.3,141.5 767.7,151.3 776.9,161.4 785.2,160.0 794.4,162.3 802.7,116.7 811.9,78.8 816.7,75.7 820.2,75.2 825.1,83.5 834.3,115.0 841.7,122.3 847.0,125.9 851.8,126.8 855.3,122.3 864.5,133.7 869.3,129.7 877.6,136.6 886.8,133.0 891.2,134.2 899.5,121.2 908.7,73.4 912.7,67.9 917.1,69.6 926.3,61.4 934.6,57.4 939.4,54.0 948.6,42.6 952.1,41.1 961.3,31.5 965.7,32.8 972.5,37.6 982.6,42.8 995.6,54.2 1003.8,64.4 1009.4,66.2 1022.3,53.3 1030.6,61.6 1035.2,63.8 1044.4,87.4 1049.0,91.1 1057.3,92.0 1061.9,116.0 1070.2,141.8 1079.4,151.9 1084.1,160.8 1092.3,134.4 1096.0,133.1 1101.5,135.7 1106.2,135.4 1110.8,128.9 1122.7,81.9 1127.3,73.6 1136.6,77.3 1142.1,81.9 1149.5,94.8 1155.0,100.3 1162.4,114.2 1167.0,140.0 1171.6,145.5 1175.3,140.0 1179.9,149.2" fill="none" stroke="#1414ff" stroke-width="1.0" stroke-linejoin="round" clip-path="url(#c0)"/>
<polyline points="130.7,169.6 136.8,167.4 148.7,152.7 157.9,144.4 164.4,142.6 171.9,126.3 176.3,127.2 189.4,120.1 193.8,122.3 203.9,126.8 211.3,133.3 220.5,122.3 233.6,98.2 241.1,98.0 247.2,100.4 255.6,93.8 267.8,94.6 272.2,83.5 281.4,54.0 290.2,42.9 298.0,47.5 304.6,61.4 316.4,116.7 321.3,122.8 325.6,122.8 329.6,118.3 334.0,117.6 343.2,139.7 347.6,136.6 352.4,122.3 355.9,116.7 360.7,115.0 369.5,126.8 378.2,113.8 387.0,84.4 390.9,88.6 395.7,84.4 400.1,83.5 404.9,87.3 414.1,100.0 421.6,115.2 426.8,115.2 435.2,117.6 440.0,120.1 445.2,131.5 448.3,135.0 456.6,139.7 461.9,144.4 465.8,144.4 478.5,150.2 487.7,128.8 496.1,121.2 505.3,106.5 510.1,110.3 518.4,136.2 532.0,160.9 535.9,160.9 545.1,157.4 549.5,151.8 554.8,145.3 557.8,137.9 562.2,129.7 566.2,129.2 570.5,131.5 575.4,123.7 579.7,123.2 583.7,124.6 588.1,116.3 592.9,118.5 600.3,76.1 605.6,60.5 610.4,61.8 613.9,67.0 620.5,79.9 631.4,106.0 640.6,108.5 646.3,102.9 655.5,93.8 667.4,78.8 672.2,82.6 681.4,107.4 684.9,110.7 689.7,110.7 698.0,68.8 706.3,39.3 711.6,35.3 718.2,41.1 723.9,55.8 729.1,76.1 733.9,89.1 741.4,94.2 745.8,90.0 750.1,102.0 755.0,102.9 759.8,106.0 763.3,105.4 767.7,112.9 776.9,121.2 785.2,120.3 794.4,122.3 802.7,87.3 811.9,57.4 816.7,52.7 820.2,53.1 825.1,61.4 834.3,83.5 841.7,90.9 847.0,93.8 851.8,94.2 855.3,90.4 864.5,100.0 869.3,96.4 877.6,102.0 886.8,99.1 891.2,100.0 899.5,90.4 907.9,51.1 912.7,47.5 917.1,50.2 921.9,48.4 926.3,44.6 934.6,42.9 939.4,40.2 948.6,31.0 952.1,32.1 961.3,23.0 965.7,23.4 972.5,26.6 982.6,32.5 995.6,44.1 1003.8,51.5 1009.4,52.4 1022.3,42.3 1035.2,49.1 1043.5,65.3 1049.0,69.9 1057.3,71.7 1061.9,91.1 1070.2,109.5 1079.4,118.8 1084.1,124.3 1092.3,102.2 1096.0,101.3 1101.5,104.0 1106.2,104.4 1110.8,99.4 1122.7,59.4 1127.3,55.7 1136.6,59.4 1142.1,63.5 1149.5,74.2 1155.0,78.6 1162.4,86.5 1167.0,106.8 1171.6,110.5 1175.3,104.9 1179.9,113.2" fill="none" stroke="#ff1010" stroke-width="1.55" stroke-linejoin="round" clip-path="url(#c0)"/>
<text transform="translate(174.92,33.00) scale(1.2381,1)" font-size="21" fill="#000" letter-spacing="0.000">Fr</text>
<text transform="translate(275.25,33.00) scale(1.1905,1)" font-size="21" fill="#ff1010" letter-spacing="0.000">Sa</text>
<text transform="translate(380.10,33.00) scale(1.2911,1)" font-size="21" fill="#ff1010" letter-spacing="0.000">Su</text>
<text transform="translate(486.94,33.00) scale(1.0426,1)" font-size="21" fill="#000" letter-spacing="0.000">Mo</text>
<text transform="translate(594.29,33.00) scale(1.2225,1)" font-size="21" fill="#000" letter-spacing="0.000">Tu</text>
<text transform="translate(702.50,33.00) scale(0.9674,1)" font-size="21" fill="#000" letter-spacing="0.000">We</text>
<text transform="translate(807.90,33.00) scale(1.1817,1)" font-size="21" fill="#000" letter-spacing="0.000">Th</text>
<text transform="translate(916.39,33.00) scale(1.2885,1)" font-size="21" fill="#000" letter-spacing="0.000">Fr</text>
<text transform="translate(1021.17,33.00) scale(1.2422,1)" font-size="21" fill="#ff1010" letter-spacing="0.000">Sa</text>
<text transform="translate(1127.14,33.00) scale(1.2666,1)" font-size="21" fill="#ff1010" letter-spacing="0.000">Su</text>
<text transform="translate(140.37,144.70) scale(1.3000,1)" font-size="20.5" fill="#ff1010" letter-spacing="1.068">Temperature</text>
<text transform="translate(140.63,172.20) scale(1.3000,1)" font-size="20.5" fill="#138a13" letter-spacing="0.593">Vigne temp</text>
<text transform="translate(140.10,199.70) scale(1.3000,1)" font-size="20.5" fill="#1414ff" letter-spacing="0.209">Humidex</text>
<text transform="translate(140.10,227.20) scale(1.3000,1)" font-size="20.5" fill="#10f010" letter-spacing="0.233">DewPoint Temp</text>
<text transform="translate(991.18,227.40) scale(1.2690,1)" font-size="20.5" fill="#000" letter-spacing="0.000">run: 2026013000</text>
<text transform="translate(49.80,204.22) rotate(-90) scale(1.1500,1)" font-size="20" fill="#000" letter-spacing="1.423">2m Temp. (°C)</text>
<line x1="119.00" y1="301.60" x2="1194.00" y2="301.60" stroke="#4a4a4a" stroke-width="1.2" />
<line x1="119.00" y1="524.50" x2="1194.00" y2="524.50" stroke="#4a4a4a" stroke-width="1.2" />
<line x1="130.70" y1="290.60" x2="130.70" y2="535.50" stroke="#4a4a4a" stroke-width="1.2" />
<line x1="1182.10" y1="290.60" x2="1182.10" y2="535.50" stroke="#4a4a4a" stroke-width="1.2" />
<line x1="135.08" y1="295.60" x2="135.08" y2="301.60" stroke="#333333" stroke-width="1.0" />
<line x1="135.08" y1="524.50" x2="135.08" y2="530.50" stroke="#333333" stroke-width="1.0" />
<line x1="139.46" y1="295.60" x2="139.46" y2="301.60" stroke="#333333" stroke-width="1.0" />
<line x1="139.46" y1="524.50" x2="139.46" y2="530.50" stroke="#333333" stroke-width="1.0" />
<line x1="143.84" y1="295.60" x2="143.84" y2="301.60" stroke="#333333" stroke-width="1.0" />
<line x1="143.84" y1="524.50" x2="143.84" y2="530.50" stroke="#333333" stroke-width="1.0" />
<line x1="148.22" y1="295.60" x2="148.22" y2="301.60" stroke="#333333" stroke-width="1.0" />
<line x1="148.22" y1="524.50" x2="148.22" y2="530.50" stroke="#333333" stroke-width="1.0" />
<line x1="152.60" y1="295.60" x2="152.60" y2="301.60" stroke="#333333" stroke-width="1.0" />
<line x1="152.60" y1="524.50" x2="152.60" y2="530.50" stroke="#333333" stroke-width="1.0" />
<line x1="156.98" y1="295.60" x2="156.98" y2="301.60" stroke="#333333" stroke-width="1.0" />
<line x1="156.98" y1="524.50" x2="156.98" y2="530.50" stroke="#333333" stroke-width="1.0" />
<line x1="161.37" y1="295.60" x2="161.37" y2="301.60" stroke="#333333" stroke-width="1.0" />
<line x1="161.37" y1="524.50" x2="161.37" y2="530.50" stroke="#333333" stroke-width="1.0" />
<line x1="165.75" y1="295.60" x2="165.75" y2="301.60" stroke="#333333" stroke-width="1.0" />
<line x1="165.75" y1="524.50" x2="165.75" y2="530.50" stroke="#333333" stroke-width="1.0" />
<line x1="170.13" y1="295.60" x2="170.13" y2="301.60" stroke="#333333" stroke-width="1.0" />
<line x1="170.13" y1="524.50" x2="170.13" y2="530.50" stroke="#333333" stroke-width="1.0" />
<line x1="174.51" y1="295.60" x2="174.51" y2="301.60" stroke="#333333" stroke-width="1.0" />
<line x1="174.51" y1="524.50" x2="174.51" y2="530.50" stroke="#333333" stroke-width="1.0" />
<line x1="178.89" y1="295.60" x2="178.89" y2="301.60" stroke="#333333" stroke-width="1.0" />
<line x1="178.89" y1="524.50" x2="178.89" y2="530.50" stroke="#333333" stroke-width="1.0" />
<line x1="183.27" y1="295.60" x2="183.27" y2="301.60" stroke="#333333" stroke-width="1.0" />
<line x1="183.27" y1="524.50" x2="183.27" y2="530.50" stroke="#333333" stroke-width="1.0" />
<line x1="187.65" y1="295.60" x2="187.65" y2="301.60" stroke="#333333" stroke-width="1.0" />
<line x1="187.65" y1="524.50" x2="187.65" y2="530.50" stroke="#333333" stroke-width="1.0" />
<line x1="192.03" y1="295.60" x2="192.03" y2="301.60" stroke="#333333" stroke-width="1.0" />
<line x1="192.03" y1="524.50" x2="192.03" y2="530.50" stroke="#333333" stroke-width="1.0" />
<line x1="196.41" y1="295.60" x2="196.41" y2="301.60" stroke="#333333" stroke-width="1.0" />
<line x1="196.41" y1="524.50" x2="196.41" y2="530.50" stroke="#333333" stroke-width="1.0" />
<line x1="200.79" y1="295.60" x2="200.79" y2="301.60" stroke="#333333" stroke-width="1.0" />
<line x1="200.79" y1="524.50" x2="200.79" y2="530.50" stroke="#333333" stroke-width="1.0" />
<line x1="205.17" y1="295.60" x2="205.17" y2="301.60" stroke="#333333" stroke-width="1.0" />
<line x1="205.17" y1="524.50" x2="205.17" y2="530.50" stroke="#333333" stroke-width="1.0" />
<line x1="209.55" y1="295.60" x2="209.55" y2="301.60" stroke="#333333" stroke-width="1.0" />
<line x1="209.55" y1="524.50" x2="209.55" y2="530.50" stroke="#333333" stroke-width="1.0" />
<line x1="213.94" y1="295.60" x2="213.94" y2="301.60" stroke="#333333" stroke-width="1.0" />
<line x1="213.94" y1="524.50" x2="213.94" y2="530.50" stroke="#333333" stroke-width="1.0" />
<line x1="218.32" y1="295.60" x2="218.32" y2="301.60" stroke="#333333" stroke-width="1.0" />
<line x1="218.32" y1="524.50" x2="218.32" y2="530.50" stroke="#333333" stroke-width="1.0" />
<line x1="222.70" y1="295.60" x2="222.70" y2="301.60" stroke="#333333" stroke-width="1.0" />
<line x1="222.70" y1="524.50" x2="222.70" y2="530.50" stroke="#333333" stroke-width="1.0" />
<line x1="227.08" y1="295.60" x2="227.08" y2="301.60" stroke="#333333" stroke-width="1.0" />
<line x1="227.08" y1="524.50" x2="227.08" y2="530.50" stroke="#333333" stroke-width="1.0" />
<line x1="231.46" y1="295.60" x2="231.46" y2="301.60" stroke="#333333" stroke-width="1.0" />
<line x1="231.46" y1="524.50" x2="231.46" y2="530.50" stroke="#333333" stroke-width="1.0" />
<line x1="235.84" y1="290.10" x2="235.84" y2="301.60" stroke="#333333" stroke-width="1.1" />
<line x1="235.84" y1="524.50" x2="235.84" y2="536.50" stroke="#333333" stroke-width="1.1" />
<line x1="240.22" y1="295.60" x2="240.22" y2="301.60" stroke="#333333" stroke-width="1.0" />
<line x1="240.22" y1="524.50" x2="240.22" y2="530.50" stroke="#333333" stroke-width="1.0" />
<line x1="244.60" y1="295.60" x2="244.60" y2="301.60" stroke="#333333" stroke-width="1.0" />
<line x1="244.60" y1="524.50" x2="244.60" y2="530.50" stroke="#333333" stroke-width="1.0" />
<line x1="248.98" y1="295.60" x2="248.98" y2="301.60" stroke="#333333" stroke-width="1.0" />
<line x1="248.98" y1="524.50" x2="248.98" y2="530.50" stroke="#333333" stroke-width="1.0" />
<line x1="253.36" y1="295.60" x2="253.36" y2="301.60" stroke="#333333" stroke-width="1.0" />
<line x1="253.36" y1="524.50" x2="253.36" y2="530.50" stroke="#333333" stroke-width="1.0" />
<line x1="257.74" y1="295.60" x2="257.74" y2="301.60" stroke="#333333" stroke-width="1.0" />
<line x1="257.74" y1="524.50" x2="257.74" y2="530.50" stroke="#333333" stroke-width="1.0" />
<line x1="262.12" y1="295.60" x2="262.12" y2="301.60" stroke="#333333" stroke-width="1.0" />
<line x1="262.12" y1="524.50" x2="262.12" y2="530.50" stroke="#333333" stroke-width="1.0" />
<line x1="266.51" y1="295.60" x2="266.51" y2="301.60" stroke="#333333" stroke-width="1.0" />
<line x1="266.51" y1="524.50" x2="266.51" y2="530.50" stroke="#333333" stroke-width="1.0" />
<line x1="270.89" y1="295.60" x2="270.89" y2="301.60" stroke="#333333" stroke-width="1.0" />
<line x1="270.89" y1="524.50" x2="270.89" y2="530.50" stroke="#333333" stroke-width="1.0" />
<line x1="275.27" y1="295.60" x2="275.27" y2="301.60" stroke="#333333" stroke-width="1.0" />
<line x1="275.27" y1="524.50" x2="275.27" y2="530.50" stroke="#333333" stroke-width="1.0" />
<line x1="279.65" y1="295.60" x2="279.65" y2="301.60" stroke="#333333" stroke-width="1.0" />
<line x1="279.65" y1="524.50" x2="279.65" y2="530.50" stroke="#333333" stroke-width="1.0" />
<line x1="284.03" y1="295.60" x2="284.03" y2="301.60" stroke="#333333" stroke-width="1.0" />
<line x1="284.03" y1="524.50" x2="284.03" y2="530.50" stroke="#333333" stroke-width="1.0" />
<line x1="288.41" y1="295.60" x2="288.41" y2="301.60" stroke="#333333" stroke-width="1.0" />
<line x1="288.41" y1="524.50" x2="288.41" y2="530.50" stroke="#333333" stroke-width="1.0" />
<line x1="292.79" y1="295.60" x2="292.79" y2="301.60" stroke="#333333" stroke-width="1.0" />
<line x1="292.79" y1="524.50" x2="292.79" y2="530.50" stroke="#333333" stroke-width="1.0" />
<line x1="297.17" y1="295.60" x2="297.17" y2="301.60" stroke="#333333" stroke-width="1.0" />
<line x1="297.17" y1="524.50" x2="297.17" y2="530.50" stroke="#333333" stroke-width="1.0" />
<line x1="301.55" y1="295.60" x2="301.55" y2="301.60" stroke="#333333" stroke-width="1.0" />
<line x1="301.55" y1="524.50" x2="301.55" y2="530.50" stroke="#333333" stroke-width="1.0" />
<line x1="305.93" y1="295.60" x2="305.93" y2="301.60" stroke="#333333" stroke-width="1.0" />
<line x1="305.93" y1="524.50" x2="305.93" y2="530.50" stroke="#333333" stroke-width="1.0" />
<line x1="310.31" y1="295.60" x2="310.31" y2="301.60" stroke="#333333" stroke-width="1.0" />
<line x1="310.31" y1="524.50" x2="310.31" y2="530.50" stroke="#333333" stroke-width="1.0" />
<line x1="314.69" y1="295.60" x2="314.69" y2="301.60" stroke="#333333" stroke-width="1.0" />
<line x1="314.69" y1="524.50" x2="314.69" y2="530.50" stroke="#333333" stroke-width="1.0" />
<line x1="319.08" y1="295.60" x2="319.08" y2="301.60" stroke="#333333" stroke-width="1.0" />
<line x1="319.08" y1="524.50" x2="319.08" y2="530.50" stroke="#333333" stroke-width="1.0" />
<line x1="323.46" y1="295.60" x2="323.46" y2="301.60" stroke="#333333" stroke-width="1.0" />
<line x1="323.46" y1="524.50" x2="323.46" y2="530.50" stroke="#333333" stroke-width="1.0" />
<line x1="327.84" y1="295.60" x2="327.84" y2="301.60" stroke="#333333" stroke-width="1.0" />
<line x1="327.84" y1="524.50" x2="327.84" y2="530.50" stroke="#333333" stroke-width="1.0" />
<line x1="332.22" y1="295.60" x2="332.22" y2="301.60" stroke="#333333" stroke-width="1.0" />
<line x1="332.22" y1="524.50" x2="332.22" y2="530.50" stroke="#333333" stroke-width="1.0" />
<line x1="336.60" y1="295.60" x2="336.60" y2="301.60" stroke="#333333" stroke-width="1.0" />
<line x1="336.60" y1="524.50" x2="336.60" y2="530.50" stroke="#333333" stroke-width="1.0" />
<line x1="340.98" y1="290.10" x2="340.98" y2="301.60" stroke="#333333" stroke-width="1.1" />
<line x1="340.98" y1="524.50" x2="340.98" y2="536.50" stroke="#333333" stroke-width="1.1" />
<line x1="345.36" y1="295.60" x2="345.36" y2="301.60" stroke="#333333" stroke-width="1.0" />
<line x1="345.36" y1="524.50" x2="345.36" y2="530.50" stroke="#333333" stroke-width="1.0" />
<line x1="349.74" y1="295.60" x2="349.74" y2="301.60" stroke="#333333" stroke-width="1.0" />
<line x1="349.74" y1="524.50" x2="349.74" y2="530.50" stroke="#333333" stroke-width="1.0" />
<line x1="354.12" y1="295.60" x2="354.12" y2="301.60" stroke="#333333" stroke-width="1.0" />
<line x1="354.12" y1="524.50" x2="354.12" y2="530.50" stroke="#333333" stroke-width="1.0" />
<line x1="358.50" y1="295.60" x2="358.50" y2="301.60" stroke="#333333" stroke-width="1.0" />
<line x1="358.50" y1="524.50" x2="358.50" y2="530.50" stroke="#333333" stroke-width="1.0" />
<line x1="362.88" y1="295.60" x2="362.88" y2="301.60" stroke="#333333" stroke-width="1.0" />
<line x1="362.88" y1="524.50" x2="362.88" y2="530.50" stroke="#333333" stroke-width="1.0" />
<line x1="367.26" y1="295.60" x2="367.26" y2="301.60" stroke="#333333" stroke-width="1.0" />
<line x1="367.26" y1="524.50" x2="367.26" y2="530.50" stroke="#333333" stroke-width="1.0" />
<line x1="371.65" y1="295.60" x2="371.65" y2="301.60" stroke="#333333" stroke-width="1.0" />
<line x1="371.65" y1="524.50" x2="371.65" y2="530.50" stroke="#333333" stroke-width="1.0" />
<line x1="376.03" y1="295.60" x2="376.03" y2="301.60" stroke="#333333" stroke-width="1.0" />
<line x1="376.03" y1="524.50" x2="376.03" y2="530.50" stroke="#333333" stroke-width="1.0" />
<line x1="380.41" y1="295.60" x2="380.41" y2="301.60" stroke="#333333" stroke-width="1.0" />
<line x1="380.41" y1="524.50" x2="380.41" y2="530.50" stroke="#333333" stroke-width="1.0" />
<line x1="384.79" y1="295.60" x2="384.79" y2="301.60" stroke="#333333" stroke-width="1.0" />
<line x1="384.79" y1="524.50" x2="384.79" y2="530.50" stroke="#333333" stroke-width="1.0" />
<line x1="389.17" y1="295.60" x2="389.17" y2="301.60" stroke="#333333" stroke-width="1.0" />
<line x1="389.17" y1="524.50" x2="389.17" y2="530.50" stroke="#333333" stroke-width="1.0" />
<line x1="393.55" y1="295.60" x2="393.55" y2="301.60" stroke="#333333" stroke-width="1.0" />
<line x1="393.55" y1="524.50" x2="393.55" y2="530.50" stroke="#333333" stroke-width="1.0" />
<line x1="397.93" y1="295.60" x2="397.93" y2="301.60" stroke="#333333" stroke-width="1.0" />
<line x1="397.93" y1="524.50" x2="397.93" y2="530.50" stroke="#333333" stroke-width="1.0" />
<line x1="402.31" y1="295.60" x2="402.31" y2="301.60" stroke="#333333" stroke-width="1.0" />
<line x1="402.31" y1="524.50" x2="402.31" y2="530.50" stroke="#333333" stroke-width="1.0" />
<line x1="406.69" y1="295.60" x2="406.69" y2="301.60" stroke="#333333" stroke-width="1.0" />
<line x1="406.69" y1="524.50" x2="406.69" y2="530.50" stroke="#333333" stroke-width="1.0" />
<line x1="411.07" y1="295.60" x2="411.07" y2="301.60" stroke="#333333" stroke-width="1.0" />
<line x1="411.07" y1="524.50" x2="411.07" y2="530.50" stroke="#333333" stroke-width="1.0" />
<line x1="415.45" y1="295.60" x2="415.45" y2="301.60" stroke="#333333" stroke-width="1.0" />
<line x1="415.45" y1="524.50" x2="415.45" y2="530.50" stroke="#333333" stroke-width="1.0" />
<line x1="419.83" y1="295.60" x2="419.83" y2="301.60" stroke="#333333" stroke-width="1.0" />
<line x1="419.83" y1="524.50" x2="419.83" y2="530.50" stroke="#333333" stroke-width="1.0" />
<line x1="424.22" y1="295.60" x2="424.22" y2="301.60" stroke="#333333" stroke-width="1.0" />
<line x1="424.22" y1="524.50" x2="424.22" y2="530.50" stroke="#333333" stroke-width="1.0" />
<line x1="428.60" y1="295.60" x2="428.60" y2="301.60" stroke="#333333" stroke-width="1.0" />
<line x1="428.60" y1="524.50" x2="428.60" y2="530.50" stroke="#333333" stroke-width="1.0" />
<line x1="432.98" y1="295.60" x2="432.98" y2="301.60" stroke="#333333" stroke-width="1.0" />
<line x1="432.98" y1="524.50" x2="432.98" y2="530.50" stroke="#333333" stroke-width="1.0" />
<line x1="437.36" y1="295.60" x2="437.36" y2="301.60" stroke="#333333" stroke-width="1.0" />
<line x1="437.36" y1="524.50" x2="437.36" y2="530.50" stroke="#333333" stroke-width="1.0" />
<line x1="441.74" y1="295.60" x2="441.74" y2="301.60" stroke="#333333" stroke-width="1.0" />
<line x1="441.74" y1="524.50" x2="441.74" y2="530.50" stroke="#333333" stroke-width="1.0" />
<line x1="446.12" y1="290.10" x2="446.12" y2="301.60" stroke="#333333" stroke-width="1.1" />
<line x1="446.12" y1="524.50" x2="446.12" y2="536.50" stroke="#333333" stroke-width="1.1" />
<line x1="450.50" y1="295.60" x2="450.50" y2="301.60" stroke="#333333" stroke-width="1.0" />
<line x1="450.50" y1="524.50" x2="450.50" y2="530.50" stroke="#333333" stroke-width="1.0" />
<line x1="454.88" y1="295.60" x2="454.88" y2="301.60" stroke="#333333" stroke-width="1.0" />
<line x1="454.88" y1="524.50" x2="454.88" y2="530.50" stroke="#333333" stroke-width="1.0" />
<line x1="459.26" y1="295.60" x2="459.26" y2="301.60" stroke="#333333" stroke-width="1.0" />
<line x1="459.26" y1="524.50" x2="459.26" y2="530.50" stroke="#333333" stroke-width="1.0" />
<line x1="463.64" y1="295.60" x2="463.64" y2="301.60" stroke="#333333" stroke-width="1.0" />
<line x1="463.64" y1="524.50" x2="463.64" y2="530.50" stroke="#333333" stroke-width="1.0" />
<line x1="468.02" y1="295.60" x2="468.02" y2="301.60" stroke="#333333" stroke-width="1.0" />
<line x1="468.02" y1="524.50" x2="468.02" y2="530.50" stroke="#333333" stroke-width="1.0" />
<line x1="472.40" y1="295.60" x2="472.40" y2="301.60" stroke="#333333" stroke-width="1.0" />
<line x1="472.40" y1="524.50" x2="472.40" y2="530.50" stroke="#333333" stroke-width="1.0" />
<line x1="476.79" y1="295.60" x2="476.79" y2="301.60" stroke="#333333" stroke-width="1.0" />
<line x1="476.79" y1="524.50" x2="476.79" y2="530.50" stroke="#333333" stroke-width="1.0" />
<line x1="481.17" y1="295.60" x2="481.17" y2="301.60" stroke="#333333" stroke-width="1.0" />
<line x1="481.17" y1="524.50" x2="481.17" y2="530.50" stroke="#333333" stroke-width="1.0" />
<line x1="485.55" y1="295.60" x2="485.55" y2="301.60" stroke="#333333" stroke-width="1.0" />
<line x1="485.55" y1="524.50" x2="485.55" y2="530.50" stroke="#333333" stroke-width="1.0" />
<line x1="489.93" y1="295.60" x2="489.93" y2="301.60" stroke="#333333" stroke-width="1.0" />
<line x1="489.93" y1="524.50" x2="489.93" y2="530.50" stroke="#333333" stroke-width="1.0" />
<line x1="494.31" y1="295.60" x2="494.31" y2="301.60" stroke="#333333" stroke-width="1.0" />
<line x1="494.31" y1="524.50" x2="494.31" y2="530.50" stroke="#333333" stroke-width="1.0" />
<line x1="498.69" y1="295.60" x2="498.69" y2="301.60" stroke="#333333" stroke-width="1.0" />
<line x1="498.69" y1="524.50" x2="498.69" y2="530.50" stroke="#333333" stroke-width="1.0" />
<line x1="503.07" y1="295.60" x2="503.07" y2="301.60" stroke="#333333" stroke-width="1.0" />
<line x1="503.07" y1="524.50" x2="503.07" y2="530.50" stroke="#333333" stroke-width="1.0" />
<line x1="507.45" y1="295.60" x2="507.45" y2="301.60" stroke="#333333" stroke-width="1.0" />
<line x1="507.45" y1="524.50" x2="507.45" y2="530.50" stroke="#333333" stroke-width="1.0" />
<line x1="511.83" y1="295.60" x2="511.83" y2="301.60" stroke="#333333" stroke-width="1.0" />
<line x1="511.83" y1="524.50" x2="511.83" y2="530.50" stroke="#333333" stroke-width="1.0" />
<line x1="516.21" y1="295.60" x2="516.21" y2="301.60" stroke="#333333" stroke-width="1.0" />
<line x1="516.21" y1="524.50" x2="516.21" y2="530.50" stroke="#333333" stroke-width="1.0" />
<line x1="520.59" y1="295.60" x2="520.59" y2="301.60" stroke="#333333" stroke-width="1.0" />
<line x1="520.59" y1="524.50" x2="520.59" y2="530.50" stroke="#333333" stroke-width="1.0" />
<line x1="524.97" y1="295.60" x2="524.97" y2="301.60" stroke="#333333" stroke-width="1.0" />
<line x1="524.97" y1="524.50" x2="524.97" y2="530.50" stroke="#333333" stroke-width="1.0" />
<line x1="529.36" y1="295.60" x2="529.36" y2="301.60" stroke="#333333" stroke-width="1.0" />
<line x1="529.36" y1="524.50" x2="529.36" y2="530.50" stroke="#333333" stroke-width="1.0" />
<line x1="533.74" y1="295.60" x2="533.74" y2="301.60" stroke="#333333" stroke-width="1.0" />
<line x1="533.74" y1="524.50" x2="533.74" y2="530.50" stroke="#333333" stroke-width="1.0" />
<line x1="538.12" y1="295.60" x2="538.12" y2="301.60" stroke="#333333" stroke-width="1.0" />
<line x1="538.12" y1="524.50" x2="538.12" y2="530.50" stroke="#333333" stroke-width="1.0" />
<line x1="542.50" y1="295.60" x2="542.50" y2="301.60" stroke="#333333" stroke-width="1.0" />
<line x1="542.50" y1="524.50" x2="542.50" y2="530.50" stroke="#333333" stroke-width="1.0" />
<line x1="546.88" y1="295.60" x2="546.88" y2="301.60" stroke="#333333" stroke-width="1.0" />
<line x1="546.88" y1="524.50" x2="546.88" y2="530.50" stroke="#333333" stroke-width="1.0" />
<line x1="551.26" y1="290.10" x2="551.26" y2="301.60" stroke="#333333" stroke-width="1.1" />
<line x1="551.26" y1="524.50" x2="551.26" y2="536.50" stroke="#333333" stroke-width="1.1" />
<line x1="555.64" y1="295.60" x2="555.64" y2="301.60" stroke="#333333" stroke-width="1.0" />
<line x1="555.64" y1="524.50" x2="555.64" y2="530.50" stroke="#333333" stroke-width="1.0" />
<line x1="560.02" y1="295.60" x2="560.02" y2="301.60" stroke="#333333" stroke-width="1.0" />
<line x1="560.02" y1="524.50" x2="560.02" y2="530.50" stroke="#333333" stroke-width="1.0" />
<line x1="564.40" y1="295.60" x2="564.40" y2="301.60" stroke="#333333" stroke-width="1.0" />
<line x1="564.40" y1="524.50" x2="564.40" y2="530.50" stroke="#333333" stroke-width="1.0" />
<line x1="568.78" y1="295.60" x2="568.78" y2="301.60" stroke="#333333" stroke-width="1.0" />
<line x1="568.78" y1="524.50" x2="568.78" y2="530.50" stroke="#333333" stroke-width="1.0" />
<line x1="573.16" y1="295.60" x2="573.16" y2="301.60" stroke="#333333" stroke-width="1.0" />
<line x1="573.16" y1="524.50" x2="573.16" y2="530.50" stroke="#333333" stroke-width="1.0" />
<line x1="577.54" y1="295.60" x2="577.54" y2="301.60" stroke="#333333" stroke-width="1.0" />
<line x1="577.54" y1="524.50" x2="577.54" y2="530.50" stroke="#333333" stroke-width="1.0" />
<line x1="581.93" y1="295.60" x2="581.93" y2="301.60" stroke="#333333" stroke-width="1.0" />
<line x1="581.93" y1="524.50" x2="581.93" y2="530.50" stroke="#333333" stroke-width="1.0" />
<line x1="586.31" y1="295.60" x2="586.31" y2="301.60" stroke="#333333" stroke-width="1.0" />
<line x1="586.31" y1="524.50" x2="586.31" y2="530.50" stroke="#333333" stroke-width="1.0" />
<line x1="590.69" y1="295.60" x2="590.69" y2="301.60" stroke="#333333" stroke-width="1.0" />
<line x1="590.69" y1="524.50" x2="590.69" y2="530.50" stroke="#333333" stroke-width="1.0" />
<line x1="595.07" y1="295.60" x2="595.07" y2="301.60" stroke="#333333" stroke-width="1.0" />
<line x1="595.07" y1="524.50" x2="595.07" y2="530.50" stroke="#333333" stroke-width="1.0" />
<line x1="599.45" y1="295.60" x2="599.45" y2="301.60" stroke="#333333" stroke-width="1.0" />
<line x1="599.45" y1="524.50" x2="599.45" y2="530.50" stroke="#333333" stroke-width="1.0" />
<line x1="603.83" y1="295.60" x2="603.83" y2="301.60" stroke="#333333" stroke-width="1.0" />
<line x1="603.83" y1="524.50" x2="603.83" y2="530.50" stroke="#333333" stroke-width="1.0" />
<line x1="608.21" y1="295.60" x2="608.21" y2="301.60" stroke="#333333" stroke-width="1.0" />
<line x1="608.21" y1="524.50" x2="608.21" y2="530.50" stroke="#333333" stroke-width="1.0" />
<line x1="612.59" y1="295.60" x2="612.59" y2="301.60" stroke="#333333" stroke-width="1.0" />
<line x1="612.59" y1="524.50" x2="612.59" y2="530.50" stroke="#333333" stroke-width="1.0" />
<line x1="616.97" y1="295.60" x2="616.97" y2="301.60" stroke="#333333" stroke-width="1.0" />
<line x1="616.97" y1="524.50" x2="616.97" y2="530.50" stroke="#333333" stroke-width="1.0" />
<line x1="621.35" y1="295.60" x2="621.35" y2="301.60" stroke="#333333" stroke-width="1.0" />
<line x1="621.35" y1="524.50" x2="621.35" y2="530.50" stroke="#333333" stroke-width="1.0" />
<line x1="625.73" y1="295.60" x2="625.73" y2="301.60" stroke="#333333" stroke-width="1.0" />
<line x1="625.73" y1="524.50" x2="625.73" y2="530.50" stroke="#333333" stroke-width="1.0" />
<line x1="630.12" y1="295.60" x2="630.12" y2="301.60" stroke="#333333" stroke-width="1.0" />
<line x1="630.12" y1="524.50" x2="630.12" y2="530.50" stroke="#333333" stroke-width="1.0" />
<line x1="634.50" y1="295.60" x2="634.50" y2="301.60" stroke="#333333" stroke-width="1.0" />
<line x1="634.50" y1="524.50" x2="634.50" y2="530.50" stroke="#333333" stroke-width="1.0" />
<line x1="638.88" y1="295.60" x2="638.88" y2="301.60" stroke="#333333" stroke-width="1.0" />
<line x1="638.88" y1="524.50" x2="638.88" y2="530.50" stroke="#333333" stroke-width="1.0" />
<line x1="643.26" y1="295.60" x2="643.26" y2="301.60" stroke="#333333" stroke-width="1.0" />
<line x1="643.26" y1="524.50" x2="643.26" y2="530.50" stroke="#333333" stroke-width="1.0" />
<line x1="647.64" y1="295.60" x2="647.64" y2="301.60" stroke="#333333" stroke-width="1.0" />
<line x1="647.64" y1="524.50" x2="647.64" y2="530.50" stroke="#333333" stroke-width="1.0" />
<line x1="652.02" y1="295.60" x2="652.02" y2="301.60" stroke="#333333" stroke-width="1.0" />
<line x1="652.02" y1="524.50" x2="652.02" y2="530.50" stroke="#333333" stroke-width="1.0" />
<line x1="656.40" y1="290.10" x2="656.40" y2="301.60" stroke="#333333" stroke-width="1.1" />
<line x1="656.40" y1="524.50" x2="656.40" y2="536.50" stroke="#333333" stroke-width="1.1" />
<line x1="660.78" y1="295.60" x2="660.78" y2="301.60" stroke="#333333" stroke-width="1.0" />
<line x1="660.78" y1="524.50" x2="660.78" y2="530.50" stroke="#333333" stroke-width="1.0" />
<line x1="665.16" y1="295.60" x2="665.16" y2="301.60" stroke="#333333" stroke-width="1.0" />
<line x1="665.16" y1="524.50" x2="665.16" y2="530.50" stroke="#333333" stroke-width="1.0" />
<line x1="669.54" y1="295.60" x2="669.54" y2="301.60" stroke="#333333" stroke-width="1.0" />
<line x1="669.54" y1="524.50" x2="669.54" y2="530.50" stroke="#333333" stroke-width="1.0" />
<line x1="673.92" y1="295.60" x2="673.92" y2="301.60" stroke="#333333" stroke-width="1.0" />
<line x1="673.92" y1="524.50" x2="673.92" y2="530.50" stroke="#333333" stroke-width="1.0" />
<line x1="678.30" y1="295.60" x2="678.30" y2="301.60" stroke="#333333" stroke-width="1.0" />
<line x1="678.30" y1="524.50" x2="678.30" y2="530.50" stroke="#333333" stroke-width="1.0" />
<line x1="682.68" y1="295.60" x2="682.68" y2="301.60" stroke="#333333" stroke-width="1.0" />
<line x1="682.68" y1="524.50" x2="682.68" y2="530.50" stroke="#333333" stroke-width="1.0" />
<line x1="687.07" y1="295.60" x2="687.07" y2="301.60" stroke="#333333" stroke-width="1.0" />
<line x1="687.07" y1="524.50" x2="687.07" y2="530.50" stroke="#333333" stroke-width="1.0" />
<line x1="691.45" y1="295.60" x2="691.45" y2="301.60" stroke="#333333" stroke-width="1.0" />
<line x1="691.45" y1="524.50" x2="691.45" y2="530.50" stroke="#333333" stroke-width="1.0" />
<line x1="695.83" y1="295.60" x2="695.83" y2="301.60" stroke="#333333" stroke-width="1.0" />
<line x1="695.83" y1="524.50" x2="695.83" y2="530.50" stroke="#333333" stroke-width="1.0" />
<line x1="700.21" y1="295.60" x2="700.21" y2="301.60" stroke="#333333" stroke-width="1.0" />
<line x1="700.21" y1="524.50" x2="700.21" y2="530.50" stroke="#333333" stroke-width="1.0" />
<line x1="704.59" y1="295.60" x2="704.59" y2="301.60" stroke="#333333" stroke-width="1.0" />
<line x1="704.59" y1="524.50" x2="704.59" y2="530.50" stroke="#333333" stroke-width="1.0" />
<line x1="708.97" y1="295.60" x2="708.97" y2="301.60" stroke="#333333" stroke-width="1.0" />
<line x1="708.97" y1="524.50" x2="708.97" y2="530.50" stroke="#333333" stroke-width="1.0" />
<line x1="713.35" y1="295.60" x2="713.35" y2="301.60" stroke="#333333" stroke-width="1.0" />
<line x1="713.35" y1="524.50" x2="713.35" y2="530.50" stroke="#333333" stroke-width="1.0" />
<line x1="717.73" y1="295.60" x2="717.73" y2="301.60" stroke="#333333" stroke-width="1.0" />
<line x1="717.73" y1="524.50" x2="717.73" y2="530.50" stroke="#333333" stroke-width="1.0" />
<line x1="722.11" y1="295.60" x2="722.11" y2="301.60" stroke="#333333" stroke-width="1.0" />
<line x1="722.11" y1="524.50" x2="722.11" y2="530.50" stroke="#333333" stroke-width="1.0" />
<line x1="726.49" y1="295.60" x2="726.49" y2="301.60" stroke="#333333" stroke-width="1.0" />
<line x1="726.49" y1="524.50" x2="726.49" y2="530.50" stroke="#333333" stroke-width="1.0" />
<line x1="730.87" y1="295.60" x2="730.87" y2="301.60" stroke="#333333" stroke-width="1.0" />
<line x1="730.87" y1="524.50" x2="730.87" y2="530.50" stroke="#333333" stroke-width="1.0" />
<line x1="735.25" y1="295.60" x2="735.25" y2="301.60" stroke="#333333" stroke-width="1.0" />
<line x1="735.25" y1="524.50" x2="735.25" y2="530.50" stroke="#333333" stroke-width="1.0" />
<line x1="739.64" y1="295.60" x2="739.64" y2="301.60" stroke="#333333" stroke-width="1.0" />
<line x1="739.64" y1="524.50" x2="739.64" y2="530.50" stroke="#333333" stroke-width="1.0" />
<line x1="744.02" y1="295.60" x2="744.02" y2="301.60" stroke="#333333" stroke-width="1.0" />
<line x1="744.02" y1="524.50" x2="744.02" y2="530.50" stroke="#333333" stroke-width="1.0" />
<line x1="748.40" y1="295.60" x2="748.40" y2="301.60" stroke="#333333" stroke-width="1.0" />
<line x1="748.40" y1="524.50" x2="748.40" y2="530.50" stroke="#333333" stroke-width="1.0" />
<line x1="752.78" y1="295.60" x2="752.78" y2="301.60" stroke="#333333" stroke-width="1.0" />
<line x1="752.78" y1="524.50" x2="752.78" y2="530.50" stroke="#333333" stroke-width="1.0" />
<line x1="757.16" y1="295.60" x2="757.16" y2="301.60" stroke="#333333" stroke-width="1.0" />
<line x1="757.16" y1="524.50" x2="757.16" y2="530.50" stroke="#333333" stroke-width="1.0" />
<line x1="761.54" y1="290.10" x2="761.54" y2="301.60" stroke="#333333" stroke-width="1.1" />
<line x1="761.54" y1="524.50" x2="761.54" y2="536.50" stroke="#333333" stroke-width="1.1" />
<line x1="765.92" y1="295.60" x2="765.92" y2="301.60" stroke="#333333" stroke-width="1.0" />
<line x1="765.92" y1="524.50" x2="765.92" y2="530.50" stroke="#333333" stroke-width="1.0" />
<line x1="770.30" y1="295.60" x2="770.30" y2="301.60" stroke="#333333" stroke-width="1.0" />
<line x1="770.30" y1="524.50" x2="770.30" y2="530.50" stroke="#333333" stroke-width="1.0" />
<line x1="774.68" y1="295.60" x2="774.68" y2="301.60" stroke="#333333" stroke-width="1.0" />
<line x1="774.68" y1="524.50" x2="774.68" y2="530.50" stroke="#333333" stroke-width="1.0" />
<line x1="779.06" y1="295.60" x2="779.06" y2="301.60" stroke="#333333" stroke-width="1.0" />
<line x1="779.06" y1="524.50" x2="779.06" y2="530.50" stroke="#333333" stroke-width="1.0" />
<line x1="783.44" y1="295.60" x2="783.44" y2="301.60" stroke="#333333" stroke-width="1.0" />
<line x1="783.44" y1="524.50" x2="783.44" y2="530.50" stroke="#333333" stroke-width="1.0" />
<line x1="787.82" y1="295.60" x2="787.82" y2="301.60" stroke="#333333" stroke-width="1.0" />
<line x1="787.82" y1="524.50" x2="787.82" y2="530.50" stroke="#333333" stroke-width="1.0" />
<line x1="792.21" y1="295.60" x2="792.21" y2="301.60" stroke="#333333" stroke-width="1.0" />
<line x1="792.21" y1="524.50" x2="792.21" y2="530.50" stroke="#333333" stroke-width="1.0" />
<line x1="796.59" y1="295.60" x2="796.59" y2="301.60" stroke="#333333" stroke-width="1.0" />
<line x1="796.59" y1="524.50" x2="796.59" y2="530.50" stroke="#333333" stroke-width="1.0" />
<line x1="800.97" y1="295.60" x2="800.97" y2="301.60" stroke="#333333" stroke-width="1.0" />
<line x1="800.97" y1="524.50" x2="800.97" y2="530.50" stroke="#333333" stroke-width="1.0" />
<line x1="805.35" y1="295.60" x2="805.35" y2="301.60" stroke="#333333" stroke-width="1.0" />
<line x1="805.35" y1="524.50" x2="805.35" y2="530.50" stroke="#333333" stroke-width="1.0" />
<line x1="809.73" y1="295.60" x2="809.73" y2="301.60" stroke="#333333" stroke-width="1.0" />
<line x1="809.73" y1="524.50" x2="809.73" y2="530.50" stroke="#333333" stroke-width="1.0" />
<line x1="814.11" y1="295.60" x2="814.11" y2="301.60" stroke="#333333" stroke-width="1.0" />
<line x1="814.11" y1="524.50" x2="814.11" y2="530.50" stroke="#333333" stroke-width="1.0" />
<line x1="818.49" y1="295.60" x2="818.49" y2="301.60" stroke="#333333" stroke-width="1.0" />
<line x1="818.49" y1="524.50" x2="818.49" y2="530.50" stroke="#333333" stroke-width="1.0" />
<line x1="822.87" y1="295.60" x2="822.87" y2="301.60" stroke="#333333" stroke-width="1.0" />
<line x1="822.87" y1="524.50" x2="822.87" y2="530.50" stroke="#333333" stroke-width="1.0" />
<line x1="827.25" y1="295.60" x2="827.25" y2="301.60" stroke="#333333" stroke-width="1.0" />
<line x1="827.25" y1="524.50" x2="827.25" y2="530.50" stroke="#333333" stroke-width="1.0" />
<line x1="831.63" y1="295.60" x2="831.63" y2="301.60" stroke="#333333" stroke-width="1.0" />
<line x1="831.63" y1="524.50" x2="831.63" y2="530.50" stroke="#333333" stroke-width="1.0" />
<line x1="836.01" y1="295.60" x2="836.01" y2="301.60" stroke="#333333" stroke-width="1.0" />
<line x1="836.01" y1="524.50" x2="836.01" y2="530.50" stroke="#333333" stroke-width="1.0" />
<line x1="840.39" y1="295.60" x2="840.39" y2="301.60" stroke="#333333" stroke-width="1.0" />
<line x1="840.39" y1="524.50" x2="840.39" y2="530.50" stroke="#333333" stroke-width="1.0" />
<line x1="844.78" y1="295.60" x2="844.78" y2="301.60" stroke="#333333" stroke-width="1.0" />
<line x1="844.78" y1="524.50" x2="844.78" y2="530.50" stroke="#333333" stroke-width="1.0" />
<line x1="849.16" y1="295.60" x2="849.16" y2="301.60" stroke="#333333" stroke-width="1.0" />
<line x1="849.16" y1="524.50" x2="849.16" y2="530.50" stroke="#333333" stroke-width="1.0" />
<line x1="853.54" y1="295.60" x2="853.54" y2="301.60" stroke="#333333" stroke-width="1.0" />
<line x1="853.54" y1="524.50" x2="853.54" y2="530.50" stroke="#333333" stroke-width="1.0" />
<line x1="857.92" y1="295.60" x2="857.92" y2="301.60" stroke="#333333" stroke-width="1.0" />
<line x1="857.92" y1="524.50" x2="857.92" y2="530.50" stroke="#333333" stroke-width="1.0" />
<line x1="862.30" y1="295.60" x2="862.30" y2="301.60" stroke="#333333" stroke-width="1.0" />
<line x1="862.30" y1="524.50" x2="862.30" y2="530.50" stroke="#333333" stroke-width="1.0" />
<line x1="866.68" y1="290.10" x2="866.68" y2="301.60" stroke="#333333" stroke-width="1.1" />
<line x1="866.68" y1="524.50" x2="866.68" y2="536.50" stroke="#333333" stroke-width="1.1" />
<line x1="871.06" y1="295.60" x2="871.06" y2="301.60" stroke="#333333" stroke-width="1.0" />
<line x1="871.06" y1="524.50" x2="871.06" y2="530.50" stroke="#333333" stroke-width="1.0" />
<line x1="875.44" y1="295.60" x2="875.44" y2="301.60" stroke="#333333" stroke-width="1.0" />
<line x1="875.44" y1="524.50" x2="875.44" y2="530.50" stroke="#333333" stroke-width="1.0" />
<line x1="879.82" y1="295.60" x2="879.82" y2="301.60" stroke="#333333" stroke-width="1.0" />
<line x1="879.82" y1="524.50" x2="879.82" y2="530.50" stroke="#333333" stroke-width="1.0" />
<line x1="884.20" y1="295.60" x2="884.20" y2="301.60" stroke="#333333" stroke-width="1.0" />
<line x1="884.20" y1="524.50" x2="884.20" y2="530.50" stroke="#333333" stroke-width="1.0" />
<line x1="888.58" y1="295.60" x2="888.58" y2="301.60" stroke="#333333" stroke-width="1.0" />
<line x1="888.58" y1="524.50" x2="888.58" y2="530.50" stroke="#333333" stroke-width="1.0" />
<line x1="892.96" y1="295.60" x2="892.96" y2="301.60" stroke="#333333" stroke-width="1.0" />
<line x1="892.96" y1="524.50" x2="892.96" y2="530.50" stroke="#333333" stroke-width="1.0" />
<line x1="897.35" y1="295.60" x2="897.35" y2="301.60" stroke="#333333" stroke-width="1.0" />
<line x1="897.35" y1="524.50" x2="897.35" y2="530.50" stroke="#333333" stroke-width="1.0" />
<line x1="901.73" y1="295.60" x2="901.73" y2="301.60" stroke="#333333" stroke-width="1.0" />
<line x1="901.73" y1="524.50" x2="901.73" y2="530.50" stroke="#333333" stroke-width="1.0" />
<line x1="906.11" y1="295.60" x2="906.11" y2="301.60" stroke="#333333" stroke-width="1.0" />
<line x1="906.11" y1="524.50" x2="906.11" y2="530.50" stroke="#333333" stroke-width="1.0" />
<line x1="910.49" y1="295.60" x2="910.49" y2="301.60" stroke="#333333" stroke-width="1.0" />
<line x1="910.49" y1="524.50" x2="910.49" y2="530.50" stroke="#333333" stroke-width="1.0" />
<line x1="914.87" y1="295.60" x2="914.87" y2="301.60" stroke="#333333" stroke-width="1.0" />
<line x1="914.87" y1="524.50" x2="914.87" y2="530.50" stroke="#333333" stroke-width="1.0" />
<line x1="919.25" y1="295.60" x2="919.25" y2="301.60" stroke="#333333" stroke-width="1.0" />
<line x1="919.25" y1="524.50" x2="919.25" y2="530.50" stroke="#333333" stroke-width="1.0" />
<line x1="923.63" y1="295.60" x2="923.63" y2="301.60" stroke="#333333" stroke-width="1.0" />
<line x1="923.63" y1="524.50" x2="923.63" y2="530.50" stroke="#333333" stroke-width="1.0" />
<line x1="928.01" y1="295.60" x2="928.01" y2="301.60" stroke="#333333" stroke-width="1.0" />
<line x1="928.01" y1="524.50" x2="928.01" y2="530.50" stroke="#333333" stroke-width="1.0" />
<line x1="932.39" y1="295.60" x2="932.39" y2="301.60" stroke="#333333" stroke-width="1.0" />
<line x1="932.39" y1="524.50" x2="932.39" y2="530.50" stroke="#333333" stroke-width="1.0" />
<line x1="936.77" y1="295.60" x2="936.77" y2="301.60" stroke="#333333" stroke-width="1.0" />
<line x1="936.77" y1="524.50" x2="936.77" y2="530.50" stroke="#333333" stroke-width="1.0" />
<line x1="941.15" y1="295.60" x2="941.15" y2="301.60" stroke="#333333" stroke-width="1.0" />
<line x1="941.15" y1="524.50" x2="941.15" y2="530.50" stroke="#333333" stroke-width="1.0" />
<line x1="945.53" y1="295.60" x2="945.53" y2="301.60" stroke="#333333" stroke-width="1.0" />
<line x1="945.53" y1="524.50" x2="945.53" y2="530.50" stroke="#333333" stroke-width="1.0" />
<line x1="949.92" y1="295.60" x2="949.92" y2="301.60" stroke="#333333" stroke-width="1.0" />
<line x1="949.92" y1="524.50" x2="949.92" y2="530.50" stroke="#333333" stroke-width="1.0" />
<line x1="954.30" y1="295.60" x2="954.30" y2="301.60" stroke="#333333" stroke-width="1.0" />
<line x1="954.30" y1="524.50" x2="954.30" y2="530.50" stroke="#333333" stroke-width="1.0" />
<line x1="958.68" y1="295.60" x2="958.68" y2="301.60" stroke="#333333" stroke-width="1.0" />
<line x1="958.68" y1="524.50" x2="958.68" y2="530.50" stroke="#333333" stroke-width="1.0" />
<line x1="963.06" y1="295.60" x2="963.06" y2="301.60" stroke="#333333" stroke-width="1.0" />
<line x1="963.06" y1="524.50" x2="963.06" y2="530.50" stroke="#333333" stroke-width="1.0" />
<line x1="967.44" y1="295.60" x2="967.44" y2="301.60" stroke="#333333" stroke-width="1.0" />
<line x1="967.44" y1="524.50" x2="967.44" y2="530.50" stroke="#333333" stroke-width="1.0" />
<line x1="971.82" y1="290.10" x2="971.82" y2="301.60" stroke="#333333" stroke-width="1.1" />
<line x1="971.82" y1="524.50" x2="971.82" y2="536.50" stroke="#333333" stroke-width="1.1" />
<line x1="976.20" y1="295.60" x2="976.20" y2="301.60" stroke="#333333" stroke-width="1.0" />
<line x1="976.20" y1="524.50" x2="976.20" y2="530.50" stroke="#333333" stroke-width="1.0" />
<line x1="980.58" y1="295.60" x2="980.58" y2="301.60" stroke="#333333" stroke-width="1.0" />
<line x1="980.58" y1="524.50" x2="980.58" y2="530.50" stroke="#333333" stroke-width="1.0" />
<line x1="984.96" y1="295.60" x2="984.96" y2="301.60" stroke="#333333" stroke-width="1.0" />
<line x1="984.96" y1="524.50" x2="984.96" y2="530.50" stroke="#333333" stroke-width="1.0" />
<line x1="989.34" y1="295.60" x2="989.34" y2="301.60" stroke="#333333" stroke-width="1.0" />
<line x1="989.34" y1="524.50" x2="989.34" y2="530.50" stroke="#333333" stroke-width="1.0" />
<line x1="993.72" y1="295.60" x2="993.72" y2="301.60" stroke="#333333" stroke-width="1.0" />
<line x1="993.72" y1="524.50" x2="993.72" y2="530.50" stroke="#333333" stroke-width="1.0" />
<line x1="998.10" y1="295.60" x2="998.10" y2="301.60" stroke="#333333" stroke-width="1.0" />
<line x1="998.10" y1="524.50" x2="998.10" y2="530.50" stroke="#333333" stroke-width="1.0" />
<line x1="1002.49" y1="295.60" x2="1002.49" y2="301.60" stroke="#333333" stroke-width="1.0" />
<line x1="1002.49" y1="524.50" x2="1002.49" y2="530.50" stroke="#333333" stroke-width="1.0" />
<line x1="1006.87" y1="295.60" x2="1006.87" y2="301.60" stroke="#333333" stroke-width="1.0" />
<line x1="1006.87" y1="524.50" x2="1006.87" y2="530.50" stroke="#333333" stroke-width="1.0" />
<line x1="1011.25" y1="295.60" x2="1011.25" y2="301.60" stroke="#333333" stroke-width="1.0" />
<line x1="1011.25" y1="524.50" x2="1011.25" y2="530.50" stroke="#333333" stroke-width="1.0" />
<line x1="1015.63" y1="295.60" x2="1015.63" y2="301.60" stroke="#333333" stroke-width="1.0" />
<line x1="1015.63" y1="524.50" x2="1015.63" y2="530.50" stroke="#333333" stroke-width="1.0" />
<line x1="1020.01" y1="295.60" x2="1020.01" y2="301.60" stroke="#333333" stroke-width="1.0" />
<line x1="1020.01" y1="524.50" x2="1020.01" y2="530.50" stroke="#333333" stroke-width="1.0" />
<line x1="1024.39" y1="295.60" x2="1024.39" y2="301.60" stroke="#333333" stroke-width="1.0" />
<line x1="1024.39" y1="524.50" x2="1024.39" y2="530.50" stroke="#333333" stroke-width="1.0" />
<line x1="1028.77" y1="295.60" x2="1028.77" y2="301.60" stroke="#333333" stroke-width="1.0" />
<line x1="1028.77" y1="524.50" x2="1028.77" y2="530.50" stroke="#333333" stroke-width="1.0" />
<line x1="1033.15" y1="295.60" x2="1033.15" y2="301.60" stroke="#333333" stroke-width="1.0" />
<line x1="1033.15" y1="524.50" x2="1033.15" y2="530.50" stroke="#333333" stroke-width="1.0" />
<line x1="1037.53" y1="295.60" x2="1037.53" y2="301.60" stroke="#333333" stroke-width="1.0" />
<line x1="1037.53" y1="524.50" x2="1037.53" y2="530.50" stroke="#333333" stroke-width="1.0" />
<line x1="1041.91" y1="295.60" x2="1041.91" y2="301.60" stroke="#333333" stroke-width="1.0" />
<line x1="1041.91" y1="524.50" x2="1041.91" y2="530.50" stroke="#333333" stroke-width="1.0" />
<line x1="1046.29" y1="295.60" x2="1046.29" y2="301.60" stroke="#333333" stroke-width="1.0" />
<line x1="1046.29" y1="524.50" x2="1046.29" y2="530.50" stroke="#333333" stroke-width="1.0" />
<line x1="1050.67" y1="295.60" x2="1050.67" y2="301.60" stroke="#333333" stroke-width="1.0" />
<line x1="1050.67" y1="524.50" x2="1050.67" y2="530.50" stroke="#333333" stroke-width="1.0" />
<line x1="1055.06" y1="295.60" x2="1055.06" y2="301.60" stroke="#333333" stroke-width="1.0" />
<line x1="1055.06" y1="524.50" x2="1055.06" y2="530.50" stroke="#333333" stroke-width="1.0" />
<line x1="1059.44" y1="295.60" x2="1059.44" y2="301.60" stroke="#333333" stroke-width="1.0" />
<line x1="1059.44" y1="524.50" x2="1059.44" y2="530.50" stroke="#333333" stroke-width="1.0" />
<line x1="1063.82" y1="295.60" x2="1063.82" y2="301.60" stroke="#333333" stroke-width="1.0" />
<line x1="1063.82" y1="524.50" x2="1063.82" y2="530.50" stroke="#333333" stroke-width="1.0" />
<line x1="1068.20" y1="295.60" x2="1068.20" y2="301.60" stroke="#333333" stroke-width="1.0" />
<line x1="1068.20" y1="524.50" x2="1068.20" y2="530.50" stroke="#333333" stroke-width="1.0" />
<line x1="1072.58" y1="295.60" x2="1072.58" y2="301.60" stroke="#333333" stroke-width="1.0" />
<line x1="1072.58" y1="524.50" x2="1072.58" y2="530.50" stroke="#333333" stroke-width="1.0" />
<line x1="1076.96" y1="290.10" x2="1076.96" y2="301.60" stroke="#333333" stroke-width="1.1" />
<line x1="1076.96" y1="524.50" x2="1076.96" y2="536.50" stroke="#333333" stroke-width="1.1" />
<line x1="1081.34" y1="295.60" x2="1081.34" y2="301.60" stroke="#333333" stroke-width="1.0" />
<line x1="1081.34" y1="524.50" x2="1081.34" y2="530.50" stroke="#333333" stroke-width="1.0" />
<line x1="1085.72" y1="295.60" x2="1085.72" y2="301.60" stroke="#333333" stroke-width="1.0" />
<line x1="1085.72" y1="524.50" x2="1085.72" y2="530.50" stroke="#333333" stroke-width="1.0" />
<line x1="1090.10" y1="295.60" x2="1090.10" y2="301.60" stroke="#333333" stroke-width="1.0" />
<line x1="1090.10" y1="524.50" x2="1090.10" y2="530.50" stroke="#333333" stroke-width="1.0" />
<line x1="1094.48" y1="295.60" x2="1094.48" y2="301.60" stroke="#333333" stroke-width="1.0" />
<line x1="1094.48" y1="524.50" x2="1094.48" y2="530.50" stroke="#333333" stroke-width="1.0" />
<line x1="1098.86" y1="295.60" x2="1098.86" y2="301.60" stroke="#333333" stroke-width="1.0" />
<line x1="1098.86" y1="524.50" x2="1098.86" y2="530.50" stroke="#333333" stroke-width="1.0" />
<line x1="1103.24" y1="295.60" x2="1103.24" y2="301.60" stroke="#333333" stroke-width="1.0" />
<line x1="1103.24" y1="524.50" x2="1103.24" y2="530.50" stroke="#333333" stroke-width="1.0" />
<line x1="1107.63" y1="295.60" x2="1107.63" y2="301.60" stroke="#333333" stroke-width="1.0" />
<line x1="1107.63" y1="524.50" x2="1107.63" y2="530.50" stroke="#333333" stroke-width="1.0" />
<line x1="1112.01" y1="295.60" x2="1112.01" y2="301.60" stroke="#333333" stroke-width="1.0" />
<line x1="1112.01" y1="524.50" x2="1112.01" y2="530.50" stroke="#333333" stroke-width="1.0" />
<line x1="1116.39" y1="295.60" x2="1116.39" y2="301.60" stroke="#333333" stroke-width="1.0" />
<line x1="1116.39" y1="524.50" x2="1116.39" y2="530.50" stroke="#333333" stroke-width="1.0" />
<line x1="1120.77" y1="295.60" x2="1120.77" y2="301.60" stroke="#333333" stroke-width="1.0" />
<line x1="1120.77" y1="524.50" x2="1120.77" y2="530.50" stroke="#333333" stroke-width="1.0" />
<line x1="1125.15" y1="295.60" x2="1125.15" y2="301.60" stroke="#333333" stroke-width="1.0" />
<line x1="1125.15" y1="524.50" x2="1125.15" y2="530.50" stroke="#333333" stroke-width="1.0" />
<line x1="1129.53" y1="295.60" x2="1129.53" y2="301.60" stroke="#333333" stroke-width="1.0" />
<line x1="1129.53" y1="524.50" x2="1129.53" y2="530.50" stroke="#333333" stroke-width="1.0" />
<line x1="1133.91" y1="295.60" x2="1133.91" y2="301.60" stroke="#333333" stroke-width="1.0" />
<line x1="1133.91" y1="524.50" x2="1133.91" y2="530.50" stroke="#333333" stroke-width="1.0" />
<line x1="1138.29" y1="295.60" x2="1138.29" y2="301.60" stroke="#333333" stroke-width="1.0" />
<line x1="1138.29" y1="524.50" x2="1138.29" y2="530.50" stroke="#333333" stroke-width="1.0" />
<line x1="1142.67" y1="295.60" x2="1142.67" y2="301.60" stroke="#333333" stroke-width="1.0" />
<line x1="1142.67" y1="524.50" x2="1142.67" y2="530.50" stroke="#333333" stroke-width="1.0" />
<line x1="1147.05" y1="295.60" x2="1147.05" y2="301.60" stroke="#333333" stroke-width="1.0" />
<line x1="1147.05" y1="524.50" x2="1147.05" y2="530.50" stroke="#333333" stroke-width="1.0" />
<line x1="1151.43" y1="295.60" x2="1151.43" y2="301.60" stroke="#333333" stroke-width="1.0" />
<line x1="1151.43" y1="524.50" x2="1151.43" y2="530.50" stroke="#333333" stroke-width="1.0" />
<line x1="1155.82" y1="295.60" x2="1155.82" y2="301.60" stroke="#333333" stroke-width="1.0" />
<line x1="1155.82" y1="524.50" x2="1155.82" y2="530.50" stroke="#333333" stroke-width="1.0" />
<line x1="1160.20" y1="295.60" x2="1160.20" y2="301.60" stroke="#333333" stroke-width="1.0" />
<line x1="1160.20" y1="524.50" x2="1160.20" y2="530.50" stroke="#333333" stroke-width="1.0" />
<line x1="1164.58" y1="295.60" x2="1164.58" y2="301.60" stroke="#333333" stroke-width="1.0" />
<line x1="1164.58" y1="524.50" x2="1164.58" y2="530.50" stroke="#333333" stroke-width="1.0" />
<line x1="1168.96" y1="295.60" x2="1168.96" y2="301.60" stroke="#333333" stroke-width="1.0" />
<line x1="1168.96" y1="524.50" x2="1168.96" y2="530.50" stroke="#333333" stroke-width="1.0" />
<line x1="1173.34" y1="295.60" x2="1173.34" y2="301.60" stroke="#333333" stroke-width="1.0" />
<line x1="1173.34" y1="524.50" x2="1173.34" y2="530.50" stroke="#333333" stroke-width="1.0" />
<line x1="1177.72" y1="295.60" x2="1177.72" y2="301.60" stroke="#333333" stroke-width="1.0" />
<line x1="1177.72" y1="524.50" x2="1177.72" y2="530.50" stroke="#333333" stroke-width="1.0" />
<line x1="235.84" y1="301.60" x2="235.84" y2="524.50" stroke="#333" stroke-width="1.1" stroke-dasharray="2.8 4.5"/>
<line x1="340.98" y1="301.60" x2="340.98" y2="524.50" stroke="#333" stroke-width="1.1" stroke-dasharray="2.8 4.5"/>
<line x1="446.12" y1="301.60" x2="446.12" y2="524.50" stroke="#333" stroke-width="1.1" stroke-dasharray="2.8 4.5"/>
<line x1="551.26" y1="301.60" x2="551.26" y2="524.50" stroke="#333" stroke-width="1.1" stroke-dasharray="2.8 4.5"/>
<line x1="656.40" y1="301.60" x2="656.40" y2="524.50" stroke="#333" stroke-width="1.1" stroke-dasharray="2.8 4.5"/>
<line x1="761.54" y1="301.60" x2="761.54" y2="524.50" stroke="#333" stroke-width="1.1" stroke-dasharray="2.8 4.5"/>
<line x1="866.68" y1="301.60" x2="866.68" y2="524.50" stroke="#333" stroke-width="1.1" stroke-dasharray="2.8 4.5"/>
<line x1="971.82" y1="301.60" x2="971.82" y2="524.50" stroke="#333" stroke-width="1.1" stroke-dasharray="2.8 4.5"/>
<line x1="1076.96" y1="301.60" x2="1076.96" y2="524.50" stroke="#333" stroke-width="1.1" stroke-dasharray="2.8 4.5"/>
<line x1="1182.10" y1="301.60" x2="1182.10" y2="524.50" stroke="#333" stroke-width="1.1" stroke-dasharray="2.8 4.5"/>
<line x1="119.00" y1="499.73" x2="130.70" y2="499.73" stroke="#4a4a4a" stroke-width="1.2" />
<line x1="1182.10" y1="499.73" x2="1194.00" y2="499.73" stroke="#4a4a4a" stroke-width="1.2" />
<line x1="119.00" y1="450.20" x2="130.70" y2="450.20" stroke="#4a4a4a" stroke-width="1.2" />
<line x1="1182.10" y1="450.20" x2="1194.00" y2="450.20" stroke="#4a4a4a" stroke-width="1.2" />
<line x1="119.00" y1="400.67" x2="130.70" y2="400.67" stroke="#4a4a4a" stroke-width="1.2" />
<line x1="1182.10" y1="400.67" x2="1194.00" y2="400.67" stroke="#4a4a4a" stroke-width="1.2" />
<line x1="119.00" y1="351.13" x2="130.70" y2="351.13" stroke="#4a4a4a" stroke-width="1.2" />
<line x1="1182.10" y1="351.13" x2="1194.00" y2="351.13" stroke="#4a4a4a" stroke-width="1.2" />
<line x1="119.00" y1="474.97" x2="130.70" y2="474.97" stroke="#4a4a4a" stroke-width="1.2" />
<line x1="1182.10" y1="474.97" x2="1194.00" y2="474.97" stroke="#4a4a4a" stroke-width="1.2" />
<line x1="119.00" y1="425.43" x2="130.70" y2="425.43" stroke="#4a4a4a" stroke-width="1.2" />
<line x1="1182.10" y1="425.43" x2="1194.00" y2="425.43" stroke="#4a4a4a" stroke-width="1.2" />
<line x1="119.00" y1="375.90" x2="130.70" y2="375.90" stroke="#4a4a4a" stroke-width="1.2" />
<line x1="1182.10" y1="375.90" x2="1194.00" y2="375.90" stroke="#4a4a4a" stroke-width="1.2" />
<line x1="119.00" y1="326.37" x2="130.70" y2="326.37" stroke="#4a4a4a" stroke-width="1.2" />
<line x1="1182.10" y1="326.37" x2="1194.00" y2="326.37" stroke="#4a4a4a" stroke-width="1.2" />
<text transform="translate(77.79,531.50) scale(1.2007,1)" font-size="21" fill="#000" letter-spacing="0.000">0.0</text>
<text transform="translate(76.43,481.97) scale(1.2543,1)" font-size="21" fill="#000" letter-spacing="0.000">1.0</text>
<text transform="translate(77.79,432.43) scale(1.2007,1)" font-size="21" fill="#000" letter-spacing="0.000">2.0</text>
<text transform="translate(77.53,382.90) scale(1.2110,1)" font-size="21" fill="#000" letter-spacing="-0.000">3.0</text>
<text transform="translate(78.30,333.37) scale(1.1805,1)" font-size="21" fill="#000" letter-spacing="0.000">4.0</text>
<text transform="translate(121.79,550.00) scale(1.1728,1)" font-size="15.2" fill="#000" stroke="#000" stroke-width="0.3" letter-spacing="0.000">00</text>
<text transform="translate(148.08,550.00) scale(1.1602,1)" font-size="15.2" fill="#000" stroke="#000" stroke-width="0.3" letter-spacing="0.000">06</text>
<text transform="translate(173.35,550.00) scale(1.2546,1)" font-size="15.2" fill="#000" stroke="#000" stroke-width="0.3" letter-spacing="0.000">12</text>
<text transform="translate(199.66,550.00) scale(1.2402,1)" font-size="15.2" fill="#000" stroke="#000" stroke-width="0.3" letter-spacing="0.000">18</text>
<text transform="translate(226.93,550.00) scale(1.1728,1)" font-size="15.2" fill="#000" stroke="#000" stroke-width="0.3" letter-spacing="0.000">00</text>
<text transform="translate(253.22,550.00) scale(1.1602,1)" font-size="15.2" fill="#000" stroke="#000" stroke-width="0.3" letter-spacing="0.000">06</text>
<text transform="translate(278.49,550.00) scale(1.2546,1)" font-size="15.2" fill="#000" stroke="#000" stroke-width="0.3" letter-spacing="0.000">12</text>
<text transform="translate(304.80,550.00) scale(1.2402,1)" font-size="15.2" fill="#000" stroke="#000" stroke-width="0.3" letter-spacing="0.000">18</text>
<text transform="translate(332.07,550.00) scale(1.1728,1)" font-size="15.2" fill="#000" stroke="#000" stroke-width="0.3" letter-spacing="0.000">00</text>
<text transform="translate(358.36,550.00) scale(1.1602,1)" font-size="15.2" fill="#000" stroke="#000" stroke-width="0.3" letter-spacing="0.000">06</text>
<text transform="translate(383.63,550.00) scale(1.2546,1)" font-size="15.2" fill="#000" stroke="#000" stroke-width="0.3" letter-spacing="0.000">12</text>
<text transform="translate(409.94,550.00) scale(1.2402,1)" font-size="15.2" fill="#000" stroke="#000" stroke-width="0.3" letter-spacing="0.000">18</text>
<text transform="translate(437.21,550.00) scale(1.1728,1)" font-size="15.2" fill="#000" stroke="#000" stroke-width="0.3" letter-spacing="0.000">00</text>
<text transform="translate(463.50,550.00) scale(1.1602,1)" font-size="15.2" fill="#000" stroke="#000" stroke-width="0.3" letter-spacing="0.000">06</text>
<text transform="translate(488.77,550.00) scale(1.2546,1)" font-size="15.2" fill="#000" stroke="#000" stroke-width="0.3" letter-spacing="0.000">12</text>
<text transform="translate(515.08,550.00) scale(1.2402,1)" font-size="15.2" fill="#000" stroke="#000" stroke-width="0.3" letter-spacing="0.000">18</text>
<text transform="translate(542.35,550.00) scale(1.1728,1)" font-size="15.2" fill="#000" stroke="#000" stroke-width="0.3" letter-spacing="0.000">00</text>
<text transform="translate(568.64,550.00) scale(1.1602,1)" font-size="15.2" fill="#000" stroke="#000" stroke-width="0.3" letter-spacing="0.000">06</text>
<text transform="translate(593.91,550.00) scale(1.2546,1)" font-size="15.2" fill="#000" stroke="#000" stroke-width="0.3" letter-spacing="0.000">12</text>
<text transform="translate(620.22,550.00) scale(1.2402,1)" font-size="15.2" fill="#000" stroke="#000" stroke-width="0.3" letter-spacing="0.000">18</text>
<text transform="translate(647.49,550.00) scale(1.1728,1)" font-size="15.2" fill="#000" stroke="#000" stroke-width="0.3" letter-spacing="0.000">00</text>
<text transform="translate(673.78,550.00) scale(1.1602,1)" font-size="15.2" fill="#000" stroke="#000" stroke-width="0.3" letter-spacing="0.000">06</text>
<text transform="translate(699.05,550.00) scale(1.2546,1)" font-size="15.2" fill="#000" stroke="#000" stroke-width="0.3" letter-spacing="0.000">12</text>
<text transform="translate(725.36,550.00) scale(1.2402,1)" font-size="15.2" fill="#000" stroke="#000" stroke-width="0.3" letter-spacing="0.000">18</text>
<text transform="translate(752.63,550.00) scale(1.1728,1)" font-size="15.2" fill="#000" stroke="#000" stroke-width="0.3" letter-spacing="0.000">00</text>
<text transform="translate(778.92,550.00) scale(1.1602,1)" font-size="15.2" fill="#000" stroke="#000" stroke-width="0.3" letter-spacing="0.000">06</text>
<text transform="translate(804.19,550.00) scale(1.2546,1)" font-size="15.2" fill="#000" stroke="#000" stroke-width="0.3" letter-spacing="0.000">12</text>
<text transform="translate(830.50,550.00) scale(1.2402,1)" font-size="15.2" fill="#000" stroke="#000" stroke-width="0.3" letter-spacing="0.000">18</text>
<text transform="translate(857.77,550.00) scale(1.1728,1)" font-size="15.2" fill="#000" stroke="#000" stroke-width="0.3" letter-spacing="0.000">00</text>
<text transform="translate(884.06,550.00) scale(1.1602,1)" font-size="15.2" fill="#000" stroke="#000" stroke-width="0.3" letter-spacing="0.000">06</text>
<text transform="translate(909.33,550.00) scale(1.2546,1)" font-size="15.2" fill="#000" stroke="#000" stroke-width="0.3" letter-spacing="0.000">12</text>
<text transform="translate(935.64,550.00) scale(1.2402,1)" font-size="15.2" fill="#000" stroke="#000" stroke-width="0.3" letter-spacing="0.000">18</text>
<text transform="translate(962.91,550.00) scale(1.1728,1)" font-size="15.2" fill="#000" stroke="#000" stroke-width="0.3" letter-spacing="0.000">00</text>
<text transform="translate(989.20,550.00) scale(1.1602,1)" font-size="15.2" fill="#000" stroke="#000" stroke-width="0.3" letter-spacing="0.000">06</text>
<text transform="translate(1014.47,550.00) scale(1.2546,1)" font-size="15.2" fill="#000" stroke="#000" stroke-width="0.3" letter-spacing="0.000">12</text>
<text transform="translate(1040.78,550.00) scale(1.2402,1)" font-size="15.2" fill="#000" stroke="#000" stroke-width="0.3" letter-spacing="0.000">18</text>
<text transform="translate(1068.05,550.00) scale(1.1728,1)" font-size="15.2" fill="#000" stroke="#000" stroke-width="0.3" letter-spacing="0.000">00</text>
<text transform="translate(1094.34,550.00) scale(1.1602,1)" font-size="15.2" fill="#000" stroke="#000" stroke-width="0.3" letter-spacing="0.000">06</text>
<text transform="translate(1119.61,550.00) scale(1.2546,1)" font-size="15.2" fill="#000" stroke="#000" stroke-width="0.3" letter-spacing="0.000">12</text>
<text transform="translate(1145.92,550.00) scale(1.2402,1)" font-size="15.2" fill="#000" stroke="#000" stroke-width="0.3" letter-spacing="0.000">18</text>
<text transform="translate(1173.19,550.00) scale(1.1728,1)" font-size="15.2" fill="#000" stroke="#000" stroke-width="0.3" letter-spacing="0.000">00</text>
<text transform="translate(143.48,573.60) scale(0.9472,1)" font-size="22" fill="#000" letter-spacing="0.000">JAN</text>
<text transform="translate(193.30,573.60) scale(1.1788,1)" font-size="22" fill="#000" letter-spacing="0.000">30</text>
<text transform="translate(245.78,573.60) scale(0.9523,1)" font-size="22" fill="#000" letter-spacing="0.000">JAN</text>
<text transform="translate(297.01,573.60) scale(1.0827,1)" font-size="22" fill="#000" letter-spacing="0.000">31</text>
<text transform="translate(351.62,573.60) scale(1.0253,1)" font-size="22" fill="#000" letter-spacing="0.000">FEB</text>
<text transform="translate(413.16,573.60) scale(1.2338,1)" font-size="22" fill="#000" letter-spacing="0.000">1</text>
<text transform="translate(456.69,573.60) scale(1.0253,1)" font-size="22" fill="#000" letter-spacing="0.000">FEB</text>
<text transform="translate(520.07,573.60) scale(1.1752,1)" font-size="22" fill="#000" letter-spacing="0.000">2</text>
<text transform="translate(561.76,573.60) scale(1.0253,1)" font-size="22" fill="#000" letter-spacing="0.000">FEB</text>
<text transform="translate(624.81,573.60) scale(1.1752,1)" font-size="22" fill="#000" letter-spacing="0.000">3</text>
<text transform="translate(666.83,573.60) scale(1.0253,1)" font-size="22" fill="#000" letter-spacing="0.000">FEB</text>
<text transform="translate(730.64,573.60) scale(1.0474,1)" font-size="22" fill="#000" letter-spacing="0.000">4</text>
<text transform="translate(771.90,573.60) scale(1.0253,1)" font-size="22" fill="#000" letter-spacing="0.000">FEB</text>
<text transform="translate(834.51,573.60) scale(1.2045,1)" font-size="22" fill="#000" letter-spacing="0.000">5</text>
<text transform="translate(876.97,573.60) scale(1.0253,1)" font-size="22" fill="#000" letter-spacing="0.000">FEB</text>
<text transform="translate(940.11,573.60) scale(1.1205,1)" font-size="22" fill="#000" letter-spacing="0.000">6</text>
<text transform="translate(982.04,573.60) scale(1.0253,1)" font-size="22" fill="#000" letter-spacing="0.000">FEB</text>
<text transform="translate(1044.25,573.60) scale(1.2045,1)" font-size="22" fill="#000" letter-spacing="0.000">7</text>
<text transform="translate(1087.11,573.60) scale(1.0253,1)" font-size="22" fill="#000" letter-spacing="0.000">FEB</text>
<text transform="translate(1150.09,573.60) scale(1.1472,1)" font-size="22" fill="#000" letter-spacing="0.000">8</text>
<polyline points="132.8,426.3 137.2,422.7 141.7,402.8 146.1,411.6 150.5,402.8 155.0,382.3 159.4,366.8 163.8,361.3 168.3,354.6 172.1,351.3 176.5,357.5 180.9,351.7 185.4,356.2 189.8,360.1 194.3,355.3 198.7,357.9 203.1,374.6 207.6,397.4 212.0,397.4 216.4,393.9 220.9,385.7 225.3,377.5 229.8,384.1 234.2,376.1 238.6,374.6 242.6,375.7 247.1,378.3 251.5,380.6 255.9,386.8 260.4,400.1 264.8,411.2 269.3,424.5 273.7,436.7 278.2,444.5 282.6,444.9 286.6,444.9 291.5,455.6 295.9,473.3 299.2,488.9 303.7,501.7 308.1,487.8 312.5,478.9 317.0,474.4 321.4,467.8 325.9,462.2 330.3,461.1 334.7,465.6 339.2,469.6 343.6,468.9 348.0,457.8 352.5,445.6 356.9,436.0 361.4,426.3 365.8,426.3 370.2,431.2 374.7,435.2 379.1,424.1 383.6,420.5 386.7,416.3 391.1,418.3 395.5,421.2 400.0,423.4 404.4,427.2 408.8,424.3 413.3,426.9 417.7,422.7 422.2,421.4 426.6,423.4 431.0,419.4 435.5,419.4 439.9,414.5 444.4,411.6 448.8,411.6 453.3,407.9 457.7,406.3 461.7,412.3 466.6,402.3 470.6,395.0 475.0,397.9 479.4,385.2 484.3,376.1 488.7,370.6 493.2,366.4 496.5,365.0 501.0,357.9 505.4,343.5 509.8,330.8 514.3,331.7 518.7,322.0 523.1,319.3 527.6,325.3 532.0,325.1 536.5,319.1 540.9,312.4 544.7,303.5 549.8,315.8 554.2,333.5 557.6,348.6 562.0,353.9 566.9,356.2 570.9,354.6 575.3,340.2 579.7,334.2 584.2,331.3 588.6,315.8 593.1,325.1 597.5,321.3 601.9,331.3 606.4,349.0 610.8,369.0 615.3,385.7 619.7,395.7 624.2,399.7 628.6,398.5 632.6,393.0 637.0,396.8 640.5,404.5 641.5,405.0 645.0,410.7 649.4,423.4 654.5,428.5 658.3,421.2 662.8,416.3 667.2,421.4 671.6,433.4 676.1,449.4 680.5,438.9 684.9,430.1 689.4,428.5 693.8,426.7 698.2,426.1 702.7,409.6 707.1,413.9 711.6,416.3 716.0,412.3 720.4,411.6 724.9,416.1 729.3,413.0 733.8,407.9 738.2,404.1 742.7,402.8 747.1,396.1 751.5,392.3 756.0,382.8 760.4,382.3 763.7,379.0 768.2,368.6 772.6,366.4 777.0,376.1 781.5,378.3 785.9,380.6 790.4,385.7 794.8,390.8 799.3,390.8 803.7,384.6 808.1,374.6 812.5,369.0 817.0,364.6 821.4,365.0 825.9,368.1 830.3,373.5 834.7,382.3 838.1,387.9 842.5,387.9 847.0,376.8 851.4,368.6 855.8,373.0 860.3,376.8 864.7,369.5 869.1,367.7 873.6,376.8 878.0,374.6 882.5,373.5 886.9,386.3 891.3,388.6 895.8,385.0 899.3,382.3 903.7,389.0 908.2,395.7 912.6,402.3 917.1,409.0 921.5,399.0 926.0,396.1 930.4,401.2 934.8,400.1 939.3,403.4 943.7,412.3 948.2,422.3 952.2,439.6 956.6,432.3 961.0,416.7 965.5,420.5 969.5,425.6 973.2,436.7 978.3,437.2 982.8,431.6 987.2,436.7 991.7,441.4 996.1,441.2 1000.5,432.3 1005.0,429.4 1009.4,440.0 1013.8,425.6 1018.3,426.3 1022.7,441.8 1027.1,431.4 1030.9,431.8 1035.4,460.5 1039.8,439.6 1044.2,445.6 1048.7,458.9 1053.1,480.4 1057.6,480.0 1062.0,481.8 1066.4,477.8 1070.9,480.4 1075.3,475.6 1079.8,476.2 1084.2,475.6 1088.7,486.2 1093.1,487.1 1097.5,493.3 1102.0,500.4 1106.4,502.6 1110.8,501.1 1115.3,498.9 1119.7,492.2 1123.0,488.9 1127.5,495.1 1131.9,492.2 1136.4,481.1 1140.8,496.6 1145.2,507.7 1149.7,504.0 1154.1,511.1 1157.7,505.1 1162.0,489.7 1166.9,475.3 1171.2,477.5 1175.6,465.2 1180.0,475.0" fill="none" stroke="#1414ff" stroke-width="1.0" stroke-linejoin="round" clip-path="url(#c1)"/>
<polyline points="132.8,448.9 137.2,446.3 141.7,430.7 146.1,437.8 150.5,431.2 155.0,415.6 159.4,403.9 163.8,400.1 168.3,394.5 172.1,391.2 176.5,396.1 180.9,391.7 185.4,395.0 189.8,398.3 194.3,393.9 198.7,396.1 203.1,411.2 207.6,427.2 212.0,426.7 216.4,424.1 220.9,417.8 225.3,411.6 229.8,416.7 234.2,410.7 238.6,410.1 242.6,409.4 247.1,411.6 251.5,413.4 255.9,417.8 260.4,428.9 264.8,436.7 269.3,445.6 273.7,454.5 278.2,462.7 282.6,463.3 287.0,463.3 291.5,471.1 295.9,484.4 299.2,497.7 303.7,506.6 308.1,496.6 312.5,488.9 317.0,485.5 321.4,481.1 325.9,476.7 330.3,475.6 334.7,478.9 339.2,481.8 343.6,481.8 348.0,473.3 352.5,464.5 356.9,456.0 361.4,448.9 365.8,448.9 370.2,453.4 374.7,455.6 379.1,447.1 383.6,444.0 386.7,441.6 391.1,443.4 395.5,445.6 400.0,447.1 404.4,450.0 408.8,447.6 413.3,449.8 417.7,446.3 422.2,445.1 426.6,446.9 431.0,443.8 435.5,443.6 439.9,440.0 444.4,437.4 448.8,436.7 453.3,434.5 457.7,433.4 461.7,438.3 466.6,429.4 470.6,425.0 475.0,427.2 479.4,416.7 484.3,409.0 488.7,405.0 493.2,402.3 496.5,401.6 501.0,395.7 505.4,385.0 509.8,375.2 514.3,376.1 518.7,369.0 523.1,366.8 527.6,371.2 532.0,370.8 536.5,366.4 540.9,361.3 544.7,354.6 549.8,363.5 554.2,376.8 557.6,388.6 562.0,393.0 566.9,394.5 570.9,393.4 575.3,382.3 579.7,377.9 584.2,375.7 588.6,364.1 593.1,371.2 597.5,368.1 601.9,375.7 606.4,391.2 610.8,406.8 615.3,417.8 619.7,425.0 624.2,427.8 628.6,427.2 632.6,423.4 637.0,426.1 640.5,432.3 641.5,432.3 645.0,437.4 649.4,447.1 654.5,450.7 658.3,445.6 662.8,441.2 667.2,444.9 671.6,454.5 676.1,467.1 680.5,458.9 684.9,451.6 689.4,450.7 693.8,449.4 698.2,448.9 702.7,436.0 707.1,439.6 711.6,441.2 716.0,437.8 720.4,437.4 724.9,441.2 729.3,438.9 733.8,434.5 738.2,431.6 742.7,430.5 747.1,425.6 751.5,422.7 756.0,415.6 760.4,415.2 763.7,411.6 768.2,404.5 772.6,402.8 777.0,410.1 781.5,411.6 785.9,413.9 790.4,417.8 794.8,421.8 799.3,421.8 803.7,416.7 808.1,409.0 812.5,405.0 817.0,401.4 821.4,401.4 825.9,403.6 830.3,407.9 834.7,414.5 839.2,420.1 842.5,419.6 847.0,411.2 851.4,404.5 855.8,407.9 860.3,411.2 864.7,405.6 869.1,404.1 873.6,411.2 878.0,409.4 882.5,408.3 886.9,418.3 891.3,420.1 895.8,417.4 899.3,415.0 903.7,420.1 908.2,425.6 912.6,430.7 917.1,435.6 921.5,427.8 926.0,425.8 930.4,430.3 934.8,428.7 939.3,432.3 943.7,438.9 948.2,446.7 952.2,459.4 956.6,453.4 961.0,441.8 965.5,444.9 969.5,448.9 973.2,456.7 978.3,456.7 982.8,452.9 987.2,456.7 991.7,460.7 996.1,460.0 1000.5,453.4 1005.0,451.1 1009.4,460.0 1013.8,448.9 1018.3,448.9 1022.7,461.1 1027.1,452.7 1030.9,453.4 1035.4,475.6 1039.8,458.9 1044.2,464.5 1048.7,474.4 1053.1,490.4 1057.6,490.0 1062.0,491.8 1066.4,488.4 1070.9,490.6 1075.3,486.7 1079.8,487.1 1084.2,486.7 1088.7,494.4 1093.1,495.5 1097.5,500.4 1102.0,505.5 1106.4,507.7 1110.8,506.2 1115.3,504.9 1119.7,500.4 1124.1,496.6 1128.6,501.7 1133.0,499.5 1136.4,491.1 1140.8,502.2 1145.2,512.2 1149.7,508.8 1154.1,513.7 1157.7,509.5 1162.5,496.2 1166.9,486.6 1171.2,488.8 1175.6,479.0 1180.0,486.6" fill="none" stroke="#ff1010" stroke-width="1.55" stroke-linejoin="round" clip-path="url(#c1)"/>
<text transform="translate(141.40,349.10) scale(1.3000,1)" font-size="20.5" fill="#ff1010" letter-spacing="0.004">Wind speed</text>
<text transform="translate(141.40,376.60) scale(1.3000,1)" font-size="20.5" fill="#1414ff" letter-spacing="0.212">Wind gust</text>
<text transform="translate(66.30,501.34) rotate(-90) scale(1.2914,1)" font-size="21" fill="#000" letter-spacing="0.000">10m Wind (m/s)</text>
<line x1="119.00" y1="589.30" x2="1194.00" y2="589.30" stroke="#4a4a4a" stroke-width="1.2" />
<line x1="119.00" y1="812.40" x2="1194.00" y2="812.40" stroke="#4a4a4a" stroke-width="1.2" />
<line x1="130.70" y1="578.30" x2="130.70" y2="823.40" stroke="#4a4a4a" stroke-width="1.2" />
<line x1="1182.10" y1="578.30" x2="1182.10" y2="823.40" stroke="#4a4a4a" stroke-width="1.2" />
<line x1="135.08" y1="583.30" x2="135.08" y2="589.30" stroke="#333333" stroke-width="1.0" />
<line x1="135.08" y1="812.40" x2="135.08" y2="818.40" stroke="#333333" stroke-width="1.0" />
<line x1="139.46" y1="583.30" x2="139.46" y2="589.30" stroke="#333333" stroke-width="1.0" />
<line x1="139.46" y1="812.40" x2="139.46" y2="818.40" stroke="#333333" stroke-width="1.0" />
<line x1="143.84" y1="583.30" x2="143.84" y2="589.30" stroke="#333333" stroke-width="1.0" />
<line x1="143.84" y1="812.40" x2="143.84" y2="818.40" stroke="#333333" stroke-width="1.0" />
<line x1="148.22" y1="583.30" x2="148.22" y2="589.30" stroke="#333333" stroke-width="1.0" />
<line x1="148.22" y1="812.40" x2="148.22" y2="818.40" stroke="#333333" stroke-width="1.0" />
<line x1="152.60" y1="583.30" x2="152.60" y2="589.30" stroke="#333333" stroke-width="1.0" />
<line x1="152.60" y1="812.40" x2="152.60" y2="818.40" stroke="#333333" stroke-width="1.0" />
<line x1="156.98" y1="583.30" x2="156.98" y2="589.30" stroke="#333333" stroke-width="1.0" />
<line x1="156.98" y1="812.40" x2="156.98" y2="818.40" stroke="#333333" stroke-width="1.0" />
<line x1="161.37" y1="583.30" x2="161.37" y2="589.30" stroke="#333333" stroke-width="1.0" />
<line x1="161.37" y1="812.40" x2="161.37" y2="818.40" stroke="#333333" stroke-width="1.0" />
<line x1="165.75" y1="583.30" x2="165.75" y2="589.30" stroke="#333333" stroke-width="1.0" />
<line x1="165.75" y1="812.40" x2="165.75" y2="818.40" stroke="#333333" stroke-width="1.0" />
<line x1="170.13" y1="583.30" x2="170.13" y2="589.30" stroke="#333333" stroke-width="1.0" />
<line x1="170.13" y1="812.40" x2="170.13" y2="818.40" stroke="#333333" stroke-width="1.0" />
<line x1="174.51" y1="583.30" x2="174.51" y2="589.30" stroke="#333333" stroke-width="1.0" />
<line x1="174.51" y1="812.40" x2="174.51" y2="818.40" stroke="#333333" stroke-width="1.0" />
<line x1="178.89" y1="583.30" x2="178.89" y2="589.30" stroke="#333333" stroke-width="1.0" />
<line x1="178.89" y1="812.40" x2="178.89" y2="818.40" stroke="#333333" stroke-width="1.0" />
<line x1="183.27" y1="583.30" x2="183.27" y2="589.30" stroke="#333333" stroke-width="1.0" />
<line x1="183.27" y1="812.40" x2="183.27" y2="818.40" stroke="#333333" stroke-width="1.0" />
<line x1="187.65" y1="583.30" x2="187.65" y2="589.30" stroke="#333333" stroke-width="1.0" />
<line x1="187.65" y1="812.40" x2="187.65" y2="818.40" stroke="#333333" stroke-width="1.0" />
<line x1="192.03" y1="583.30" x2="192.03" y2="589.30" stroke="#333333" stroke-width="1.0" />
<line x1="192.03" y1="812.40" x2="192.03" y2="818.40" stroke="#333333" stroke-width="1.0" />
<line x1="196.41" y1="583.30" x2="196.41" y2="589.30" stroke="#333333" stroke-width="1.0" />
<line x1="196.41" y1="812.40" x2="196.41" y2="818.40" stroke="#333333" stroke-width="1.0" />
<line x1="200.79" y1="583.30" x2="200.79" y2="589.30" stroke="#333333" stroke-width="1.0" />
<line x1="200.79" y1="812.40" x2="200.79" y2="818.40" stroke="#333333" stroke-width="1.0" />
<line x1="205.17" y1="583.30" x2="205.17" y2="589.30" stroke="#333333" stroke-width="1.0" />
<line x1="205.17" y1="812.40" x2="205.17" y2="818.40" stroke="#333333" stroke-width="1.0" />
<line x1="209.55" y1="583.30" x2="209.55" y2="589.30" stroke="#333333" stroke-width="1.0" />
<line x1="209.55" y1="812.40" x2="209.55" y2="818.40" stroke="#333333" stroke-width="1.0" />
<line x1="213.94" y1="583.30" x2="213.94" y2="589.30" stroke="#333333" stroke-width="1.0" />
<line x1="213.94" y1="812.40" x2="213.94" y2="818.40" stroke="#333333" stroke-width="1.0" />
<line x1="218.32" y1="583.30" x2="218.32" y2="589.30" stroke="#333333" stroke-width="1.0" />
<line x1="218.32" y1="812.40" x2="218.32" y2="818.40" stroke="#333333" stroke-width="1.0" />
<line x1="222.70" y1="583.30" x2="222.70" y2="589.30" stroke="#333333" stroke-width="1.0" />
<line x1="222.70" y1="812.40" x2="222.70" y2="818.40" stroke="#333333" stroke-width="1.0" />
<line x1="227.08" y1="583.30" x2="227.08" y2="589.30" stroke="#333333" stroke-width="1.0" />
<line x1="227.08" y1="812.40" x2="227.08" y2="818.40" stroke="#333333" stroke-width="1.0" />
<line x1="231.46" y1="583.30" x2="231.46" y2="589.30" stroke="#333333" stroke-width="1.0" />
<line x1="231.46" y1="812.40" x2="231.46" y2="818.40" stroke="#333333" stroke-width="1.0" />
<line x1="235.84" y1="577.80" x2="235.84" y2="589.30" stroke="#333333" stroke-width="1.1" />
<line x1="235.84" y1="812.40" x2="235.84" y2="824.40" stroke="#333333" stroke-width="1.1" />
<line x1="240.22" y1="583.30" x2="240.22" y2="589.30" stroke="#333333" stroke-width="1.0" />
<line x1="240.22" y1="812.40" x2="240.22" y2="818.40" stroke="#333333" stroke-width="1.0" />
<line x1="244.60" y1="583.30" x2="244.60" y2="589.30" stroke="#333333" stroke-width="1.0" />
<line x1="244.60" y1="812.40" x2="244.60" y2="818.40" stroke="#333333" stroke-width="1.0" />
<line x1="248.98" y1="583.30" x2="248.98" y2="589.30" stroke="#333333" stroke-width="1.0" />
<line x1="248.98" y1="812.40" x2="248.98" y2="818.40" stroke="#333333" stroke-width="1.0" />
<line x1="253.36" y1="583.30" x2="253.36" y2="589.30" stroke="#333333" stroke-width="1.0" />
<line x1="253.36" y1="812.40" x2="253.36" y2="818.40" stroke="#333333" stroke-width="1.0" />
<line x1="257.74" y1="583.30" x2="257.74" y2="589.30" stroke="#333333" stroke-width="1.0" />
<line x1="257.74" y1="812.40" x2="257.74" y2="818.40" stroke="#333333" stroke-width="1.0" />
<line x1="262.12" y1="583.30" x2="262.12" y2="589.30" stroke="#333333" stroke-width="1.0" />
<line x1="262.12" y1="812.40" x2="262.12" y2="818.40" stroke="#333333" stroke-width="1.0" />
<line x1="266.51" y1="583.30" x2="266.51" y2="589.30" stroke="#333333" stroke-width="1.0" />
<line x1="266.51" y1="812.40" x2="266.51" y2="818.40" stroke="#333333" stroke-width="1.0" />
<line x1="270.89" y1="583.30" x2="270.89" y2="589.30" stroke="#333333" stroke-width="1.0" />
<line x1="270.89" y1="812.40" x2="270.89" y2="818.40" stroke="#333333" stroke-width="1.0" />
<line x1="275.27" y1="583.30" x2="275.27" y2="589.30" stroke="#333333" stroke-width="1.0" />
<line x1="275.27" y1="812.40" x2="275.27" y2="818.40" stroke="#333333" stroke-width="1.0" />
<line x1="279.65" y1="583.30" x2="279.65" y2="589.30" stroke="#333333" stroke-width="1.0" />
<line x1="279.65" y1="812.40" x2="279.65" y2="818.40" stroke="#333333" stroke-width="1.0" />
<line x1="284.03" y1="583.30" x2="284.03" y2="589.30" stroke="#333333" stroke-width="1.0" />
<line x1="284.03" y1="812.40" x2="284.03" y2="818.40" stroke="#333333" stroke-width="1.0" />
<line x1="288.41" y1="583.30" x2="288.41" y2="589.30" stroke="#333333" stroke-width="1.0" />
<line x1="288.41" y1="812.40" x2="288.41" y2="818.40" stroke="#333333" stroke-width="1.0" />
<line x1="292.79" y1="583.30" x2="292.79" y2="589.30" stroke="#333333" stroke-width="1.0" />
<line x1="292.79" y1="812.40" x2="292.79" y2="818.40" stroke="#333333" stroke-width="1.0" />
<line x1="297.17" y1="583.30" x2="297.17" y2="589.30" stroke="#333333" stroke-width="1.0" />
<line x1="297.17" y1="812.40" x2="297.17" y2="818.40" stroke="#333333" stroke-width="1.0" />
<line x1="301.55" y1="583.30" x2="301.55" y2="589.30" stroke="#333333" stroke-width="1.0" />
<line x1="301.55" y1="812.40" x2="301.55" y2="818.40" stroke="#333333" stroke-width="1.0" />
<line x1="305.93" y1="583.30" x2="305.93" y2="589.30" stroke="#333333" stroke-width="1.0" />
<line x1="305.93" y1="812.40" x2="305.93" y2="818.40" stroke="#333333" stroke-width="1.0" />
<line x1="310.31" y1="583.30" x2="310.31" y2="589.30" stroke="#333333" stroke-width="1.0" />
<line x1="310.31" y1="812.40" x2="310.31" y2="818.40" stroke="#333333" stroke-width="1.0" />
<line x1="314.69" y1="583.30" x2="314.69" y2="589.30" stroke="#333333" stroke-width="1.0" />
<line x1="314.69" y1="812.40" x2="314.69" y2="818.40" stroke="#333333" stroke-width="1.0" />
<line x1="319.08" y1="583.30" x2="319.08" y2="589.30" stroke="#333333" stroke-width="1.0" />
<line x1="319.08" y1="812.40" x2="319.08" y2="818.40" stroke="#333333" stroke-width="1.0" />
<line x1="323.46" y1="583.30" x2="323.46" y2="589.30" stroke="#333333" stroke-width="1.0" />
<line x1="323.46" y1="812.40" x2="323.46" y2="818.40" stroke="#333333" stroke-width="1.0" />
<line x1="327.84" y1="583.30" x2="327.84" y2="589.30" stroke="#333333" stroke-width="1.0" />
<line x1="327.84" y1="812.40" x2="327.84" y2="818.40" stroke="#333333" stroke-width="1.0" />
<line x1="332.22" y1="583.30" x2="332.22" y2="589.30" stroke="#333333" stroke-width="1.0" />
<line x1="332.22" y1="812.40" x2="332.22" y2="818.40" stroke="#333333" stroke-width="1.0" />
<line x1="336.60" y1="583.30" x2="336.60" y2="589.30" stroke="#333333" stroke-width="1.0" />
<line x1="336.60" y1="812.40" x2="336.60" y2="818.40" stroke="#333333" stroke-width="1.0" />
<line x1="340.98" y1="577.80" x2="340.98" y2="589.30" stroke="#333333" stroke-width="1.1" />
<line x1="340.98" y1="812.40" x2="340.98" y2="824.40" stroke="#333333" stroke-width="1.1" />
<line x1="345.36" y1="583.30" x2="345.36" y2="589.30" stroke="#333333" stroke-width="1.0" />
<line x1="345.36" y1="812.40" x2="345.36" y2="818.40" stroke="#333333" stroke-width="1.0" />
<line x1="349.74" y1="583.30" x2="349.74" y2="589.30" stroke="#333333" stroke-width="1.0" />
<line x1="349.74" y1="812.40" x2="349.74" y2="818.40" stroke="#333333" stroke-width="1.0" />
<line x1="354.12" y1="583.30" x2="354.12" y2="589.30" stroke="#333333" stroke-width="1.0" />
<line x1="354.12" y1="812.40" x2="354.12" y2="818.40" stroke="#333333" stroke-width="1.0" />
<line x1="358.50" y1="583.30" x2="358.50" y2="589.30" stroke="#333333" stroke-width="1.0" />
<line x1="358.50" y1="812.40" x2="358.50" y2="818.40" stroke="#333333" stroke-width="1.0" />
<line x1="362.88" y1="583.30" x2="362.88" y2="589.30" stroke="#333333" stroke-width="1.0" />
<line x1="362.88" y1="812.40" x2="362.88" y2="818.40" stroke="#333333" stroke-width="1.0" />
<line x1="367.26" y1="583.30" x2="367.26" y2="589.30" stroke="#333333" stroke-width="1.0" />
<line x1="367.26" y1="812.40" x2="367.26" y2="818.40" stroke="#333333" stroke-width="1.0" />
<line x1="371.65" y1="583.30" x2="371.65" y2="589.30" stroke="#333333" stroke-width="1.0" />
<line x1="371.65" y1="812.40" x2="371.65" y2="818.40" stroke="#333333" stroke-width="1.0" />
<line x1="376.03" y1="583.30" x2="376.03" y2="589.30" stroke="#333333" stroke-width="1.0" />
<line x1="376.03" y1="812.40" x2="376.03" y2="818.40" stroke="#333333" stroke-width="1.0" />
<line x1="380.41" y1="583.30" x2="380.41" y2="589.30" stroke="#333333" stroke-width="1.0" />
<line x1="380.41" y1="812.40" x2="380.41" y2="818.40" stroke="#333333" stroke-width="1.0" />
<line x1="384.79" y1="583.30" x2="384.79" y2="589.30" stroke="#333333" stroke-width="1.0" />
<line x1="384.79" y1="812.40" x2="384.79" y2="818.40" stroke="#333333" stroke-width="1.0" />
<line x1="389.17" y1="583.30" x2="389.17" y2="589.30" stroke="#333333" stroke-width="1.0" />
<line x1="389.17" y1="812.40" x2="389.17" y2="818.40" stroke="#333333" stroke-width="1.0" />
<line x1="393.55" y1="583.30" x2="393.55" y2="589.30" stroke="#333333" stroke-width="1.0" />
<line x1="393.55" y1="812.40" x2="393.55" y2="818.40" stroke="#333333" stroke-width="1.0" />
<line x1="397.93" y1="583.30" x2="397.93" y2="589.30" stroke="#333333" stroke-width="1.0" />
<line x1="397.93" y1="812.40" x2="397.93" y2="818.40" stroke="#333333" stroke-width="1.0" />
<line x1="402.31" y1="583.30" x2="402.31" y2="589.30" stroke="#333333" stroke-width="1.0" />
<line x1="402.31" y1="812.40" x2="402.31" y2="818.40" stroke="#333333" stroke-width="1.0" />
<line x1="406.69" y1="583.30" x2="406.69" y2="589.30" stroke="#333333" stroke-width="1.0" />
<line x1="406.69" y1="812.40" x2="406.69" y2="818.40" stroke="#333333" stroke-width="1.0" />
<line x1="411.07" y1="583.30" x2="411.07" y2="589.30" stroke="#333333" stroke-width="1.0" />
<line x1="411.07" y1="812.40" x2="411.07" y2="818.40" stroke="#333333" stroke-width="1.0" />
<line x1="415.45" y1="583.30" x2="415.45" y2="589.30" stroke="#333333" stroke-width="1.0" />
<line x1="415.45" y1="812.40" x2="415.45" y2="818.40" stroke="#333333" stroke-width="1.0" />
<line x1="419.83" y1="583.30" x2="419.83" y2="589.30" stroke="#333333" stroke-width="1.0" />
<line x1="419.83" y1="812.40" x2="419.83" y2="818.40" stroke="#333333" stroke-width="1.0" />
<line x1="424.22" y1="583.30" x2="424.22" y2="589.30" stroke="#333333" stroke-width="1.0" />
<line x1="424.22" y1="812.40" x2="424.22" y2="818.40" stroke="#333333" stroke-width="1.0" />
<line x1="428.60" y1="583.30" x2="428.60" y2="589.30" stroke="#333333" stroke-width="1.0" />
<line x1="428.60" y1="812.40" x2="428.60" y2="818.40" stroke="#333333" stroke-width="1.0" />
<line x1="432.98" y1="583.30" x2="432.98" y2="589.30" stroke="#333333" stroke-width="1.0" />
<line x1="432.98" y1="812.40" x2="432.98" y2="818.40" stroke="#333333" stroke-width="1.0" />
<line x1="437.36" y1="583.30" x2="437.36" y2="589.30" stroke="#333333" stroke-width="1.0" />
<line x1="437.36" y1="812.40" x2="437.36" y2="818.40" stroke="#333333" stroke-width="1.0" />
<line x1="441.74" y1="583.30" x2="441.74" y2="589.30" stroke="#333333" stroke-width="1.0" />
<line x1="441.74" y1="812.40" x2="441.74" y2="818.40" stroke="#333333" stroke-width="1.0" />
<line x1="446.12" y1="577.80" x2="446.12" y2="589.30" stroke="#333333" stroke-width="1.1" />
<line x1="446.12" y1="812.40" x2="446.12" y2="824.40" stroke="#333333" stroke-width="1.1" />
<line x1="450.50" y1="583.30" x2="450.50" y2="589.30" stroke="#333333" stroke-width="1.0" />
<line x1="450.50" y1="812.40" x2="450.50" y2="818.40" stroke="#333333" stroke-width="1.0" />
<line x1="454.88" y1="583.30" x2="454.88" y2="589.30" stroke="#333333" stroke-width="1.0" />
<line x1="454.88" y1="812.40" x2="454.88" y2="818.40" stroke="#333333" stroke-width="1.0" />
<line x1="459.26" y1="583.30" x2="459.26" y2="589.30" stroke="#333333" stroke-width="1.0" />
<line x1="459.26" y1="812.40" x2="459.26" y2="818.40" stroke="#333333" stroke-width="1.0" />
<line x1="463.64" y1="583.30" x2="463.64" y2="589.30" stroke="#333333" stroke-width="1.0" />
<line x1="463.64" y1="812.40" x2="463.64" y2="818.40" stroke="#333333" stroke-width="1.0" />
<line x1="468.02" y1="583.30" x2="468.02" y2="589.30" stroke="#333333" stroke-width="1.0" />
<line x1="468.02" y1="812.40" x2="468.02" y2="818.40" stroke="#333333" stroke-width="1.0" />
<line x1="472.40" y1="583.30" x2="472.40" y2="589.30" stroke="#333333" stroke-width="1.0" />
<line x1="472.40" y1="812.40" x2="472.40" y2="818.40" stroke="#333333" stroke-width="1.0" />
<line x1="476.79" y1="583.30" x2="476.79" y2="589.30" stroke="#333333" stroke-width="1.0" />
<line x1="476.79" y1="812.40" x2="476.79" y2="818.40" stroke="#333333" stroke-width="1.0" />
<line x1="481.17" y1="583.30" x2="481.17" y2="589.30" stroke="#333333" stroke-width="1.0" />
<line x1="481.17" y1="812.40" x2="481.17" y2="818.40" stroke="#333333" stroke-width="1.0" />
<line x1="485.55" y1="583.30" x2="485.55" y2="589.30" stroke="#333333" stroke-width="1.0" />
<line x1="485.55" y1="812.40" x2="485.55" y2="818.40" stroke="#333333" stroke-width="1.0" />
<line x1="489.93" y1="583.30" x2="489.93" y2="589.30" stroke="#333333" stroke-width="1.0" />
<line x1="489.93" y1="812.40" x2="489.93" y2="818.40" stroke="#333333" stroke-width="1.0" />
<line x1="494.31" y1="583.30" x2="494.31" y2="589.30" stroke="#333333" stroke-width="1.0" />
<line x1="494.31" y1="812.40" x2="494.31" y2="818.40" stroke="#333333" stroke-width="1.0" />
<line x1="498.69" y1="583.30" x2="498.69" y2="589.30" stroke="#333333" stroke-width="1.0" />
<line x1="498.69" y1="812.40" x2="498.69" y2="818.40" stroke="#333333" stroke-width="1.0" />
<line x1="503.07" y1="583.30" x2="503.07" y2="589.30" stroke="#333333" stroke-width="1.0" />
<line x1="503.07" y1="812.40" x2="503.07" y2="818.40" stroke="#333333" stroke-width="1.0" />
<line x1="507.45" y1="583.30" x2="507.45" y2="589.30" stroke="#333333" stroke-width="1.0" />
<line x1="507.45" y1="812.40" x2="507.45" y2="818.40" stroke="#333333" stroke-width="1.0" />
<line x1="511.83" y1="583.30" x2="511.83" y2="589.30" stroke="#333333" stroke-width="1.0" />
<line x1="511.83" y1="812.40" x2="511.83" y2="818.40" stroke="#333333" stroke-width="1.0" />
<line x1="516.21" y1="583.30" x2="516.21" y2="589.30" stroke="#333333" stroke-width="1.0" />
<line x1="516.21" y1="812.40" x2="516.21" y2="818.40" stroke="#333333" stroke-width="1.0" />
<line x1="520.59" y1="583.30" x2="520.59" y2="589.30" stroke="#333333" stroke-width="1.0" />
<line x1="520.59" y1="812.40" x2="520.59" y2="818.40" stroke="#333333" stroke-width="1.0" />
<line x1="524.97" y1="583.30" x2="524.97" y2="589.30" stroke="#333333" stroke-width="1.0" />
<line x1="524.97" y1="812.40" x2="524.97" y2="818.40" stroke="#333333" stroke-width="1.0" />
<line x1="529.36" y1="583.30" x2="529.36" y2="589.30" stroke="#333333" stroke-width="1.0" />
<line x1="529.36" y1="812.40" x2="529.36" y2="818.40" stroke="#333333" stroke-width="1.0" />
<line x1="533.74" y1="583.30" x2="533.74" y2="589.30" stroke="#333333" stroke-width="1.0" />
<line x1="533.74" y1="812.40" x2="533.74" y2="818.40" stroke="#333333" stroke-width="1.0" />
<line x1="538.12" y1="583.30" x2="538.12" y2="589.30" stroke="#333333" stroke-width="1.0" />
<line x1="538.12" y1="812.40" x2="538.12" y2="818.40" stroke="#333333" stroke-width="1.0" />
<line x1="542.50" y1="583.30" x2="542.50" y2="589.30" stroke="#333333" stroke-width="1.0" />
<line x1="542.50" y1="812.40" x2="542.50" y2="818.40" stroke="#333333" stroke-width="1.0" />
<line x1="546.88" y1="583.30" x2="546.88" y2="589.30" stroke="#333333" stroke-width="1.0" />
<line x1="546.88" y1="812.40" x2="546.88" y2="818.40" stroke="#333333" stroke-width="1.0" />
<line x1="551.26" y1="577.80" x2="551.26" y2="589.30" stroke="#333333" stroke-width="1.1" />
<line x1="551.26" y1="812.40" x2="551.26" y2="824.40" stroke="#333333" stroke-width="1.1" />
<line x1="555.64" y1="583.30" x2="555.64" y2="589.30" stroke="#333333" stroke-width="1.0" />
<line x1="555.64" y1="812.40" x2="555.64" y2="818.40" stroke="#333333" stroke-width="1.0" />
<line x1="560.02" y1="583.30" x2="560.02" y2="589.30" stroke="#333333" stroke-width="1.0" />
<line x1="560.02" y1="812.40" x2="560.02" y2="818.40" stroke="#333333" stroke-width="1.0" />
<line x1="564.40" y1="583.30" x2="564.40" y2="589.30" stroke="#333333" stroke-width="1.0" />
<line x1="564.40" y1="812.40" x2="564.40" y2="818.40" stroke="#333333" stroke-width="1.0" />
<line x1="568.78" y1="583.30" x2="568.78" y2="589.30" stroke="#333333" stroke-width="1.0" />
<line x1="568.78" y1="812.40" x2="568.78" y2="818.40" stroke="#333333" stroke-width="1.0" />
<line x1="573.16" y1="583.30" x2="573.16" y2="589.30" stroke="#333333" stroke-width="1.0" />
<line x1="573.16" y1="812.40" x2="573.16" y2="818.40" stroke="#333333" stroke-width="1.0" />
<line x1="577.54" y1="583.30" x2="577.54" y2="589.30" stroke="#333333" stroke-width="1.0" />
<line x1="577.54" y1="812.40" x2="577.54" y2="818.40" stroke="#333333" stroke-width="1.0" />
<line x1="581.93" y1="583.30" x2="581.93" y2="589.30" stroke="#333333" stroke-width="1.0" />
<line x1="581.93" y1="812.40" x2="581.93" y2="818.40" stroke="#333333" stroke-width="1.0" />
<line x1="586.31" y1="583.30" x2="586.31" y2="589.30" stroke="#333333" stroke-width="1.0" />
<line x1="586.31" y1="812.40" x2="586.31" y2="818.40" stroke="#333333" stroke-width="1.0" />
<line x1="590.69" y1="583.30" x2="590.69" y2="589.30" stroke="#333333" stroke-width="1.0" />
<line x1="590.69" y1="812.40" x2="590.69" y2="818.40" stroke="#333333" stroke-width="1.0" />
<line x1="595.07" y1="583.30" x2="595.07" y2="589.30" stroke="#333333" stroke-width="1.0" />
<line x1="595.07" y1="812.40" x2="595.07" y2="818.40" stroke="#333333" stroke-width="1.0" />
<line x1="599.45" y1="583.30" x2="599.45" y2="589.30" stroke="#333333" stroke-width="1.0" />
<line x1="599.45" y1="812.40" x2="599.45" y2="818.40" stroke="#333333" stroke-width="1.0" />
<line x1="603.83" y1="583.30" x2="603.83" y2="589.30" stroke="#333333" stroke-width="1.0" />
<line x1="603.83" y1="812.40" x2="603.83" y2="818.40" stroke="#333333" stroke-width="1.0" />
<line x1="608.21" y1="583.30" x2="608.21" y2="589.30" stroke="#333333" stroke-width="1.0" />
<line x1="608.21" y1="812.40" x2="608.21" y2="818.40" stroke="#333333" stroke-width="1.0" />
<line x1="612.59" y1="583.30" x2="612.59" y2="589.30" stroke="#333333" stroke-width="1.0" />
<line x1="612.59" y1="812.40" x2="612.59" y2="818.40" stroke="#333333" stroke-width="1.0" />
<line x1="616.97" y1="583.30" x2="616.97" y2="589.30" stroke="#333333" stroke-width="1.0" />
<line x1="616.97" y1="812.40" x2="616.97" y2="818.40" stroke="#333333" stroke-width="1.0" />
<line x1="621.35" y1="583.30" x2="621.35" y2="589.30" stroke="#333333" stroke-width="1.0" />
<line x1="621.35" y1="812.40" x2="621.35" y2="818.40" stroke="#333333" stroke-width="1.0" />
<line x1="625.73" y1="583.30" x2="625.73" y2="589.30" stroke="#333333" stroke-width="1.0" />
<line x1="625.73" y1="812.40" x2="625.73" y2="818.40" stroke="#333333" stroke-width="1.0" />
<line x1="630.12" y1="583.30" x2="630.12" y2="589.30" stroke="#333333" stroke-width="1.0" />
<line x1="630.12" y1="812.40" x2="630.12" y2="818.40" stroke="#333333" stroke-width="1.0" />
<line x1="634.50" y1="583.30" x2="634.50" y2="589.30" stroke="#333333" stroke-width="1.0" />
<line x1="634.50" y1="812.40" x2="634.50" y2="818.40" stroke="#333333" stroke-width="1.0" />
<line x1="638.88" y1="583.30" x2="638.88" y2="589.30" stroke="#333333" stroke-width="1.0" />
<line x1="638.88" y1="812.40" x2="638.88" y2="818.40" stroke="#333333" stroke-width="1.0" />
<line x1="643.26" y1="583.30" x2="643.26" y2="589.30" stroke="#333333" stroke-width="1.0" />
<line x1="643.26" y1="812.40" x2="643.26" y2="818.40" stroke="#333333" stroke-width="1.0" />
<line x1="647.64" y1="583.30" x2="647.64" y2="589.30" stroke="#333333" stroke-width="1.0" />
<line x1="647.64" y1="812.40" x2="647.64" y2="818.40" stroke="#333333" stroke-width="1.0" />
<line x1="652.02" y1="583.30" x2="652.02" y2="589.30" stroke="#333333" stroke-width="1.0" />
<line x1="652.02" y1="812.40" x2="652.02" y2="818.40" stroke="#333333" stroke-width="1.0" />
<line x1="656.40" y1="577.80" x2="656.40" y2="589.30" stroke="#333333" stroke-width="1.1" />
<line x1="656.40" y1="812.40" x2="656.40" y2="824.40" stroke="#333333" stroke-width="1.1" />
<line x1="660.78" y1="583.30" x2="660.78" y2="589.30" stroke="#333333" stroke-width="1.0" />
<line x1="660.78" y1="812.40" x2="660.78" y2="818.40" stroke="#333333" stroke-width="1.0" />
<line x1="665.16" y1="583.30" x2="665.16" y2="589.30" stroke="#333333" stroke-width="1.0" />
<line x1="665.16" y1="812.40" x2="665.16" y2="818.40" stroke="#333333" stroke-width="1.0" />
<line x1="669.54" y1="583.30" x2="669.54" y2="589.30" stroke="#333333" stroke-width="1.0" />
<line x1="669.54" y1="812.40" x2="669.54" y2="818.40" stroke="#333333" stroke-width="1.0" />
<line x1="673.92" y1="583.30" x2="673.92" y2="589.30" stroke="#333333" stroke-width="1.0" />
<line x1="673.92" y1="812.40" x2="673.92" y2="818.40" stroke="#333333" stroke-width="1.0" />
<line x1="678.30" y1="583.30" x2="678.30" y2="589.30" stroke="#333333" stroke-width="1.0" />
<line x1="678.30" y1="812.40" x2="678.30" y2="818.40" stroke="#333333" stroke-width="1.0" />
<line x1="682.68" y1="583.30" x2="682.68" y2="589.30" stroke="#333333" stroke-width="1.0" />
<line x1="682.68" y1="812.40" x2="682.68" y2="818.40" stroke="#333333" stroke-width="1.0" />
<line x1="687.07" y1="583.30" x2="687.07" y2="589.30" stroke="#333333" stroke-width="1.0" />
<line x1="687.07" y1="812.40" x2="687.07" y2="818.40" stroke="#333333" stroke-width="1.0" />
<line x1="691.45" y1="583.30" x2="691.45" y2="589.30" stroke="#333333" stroke-width="1.0" />
<line x1="691.45" y1="812.40" x2="691.45" y2="818.40" stroke="#333333" stroke-width="1.0" />
<line x1="695.83" y1="583.30" x2="695.83" y2="589.30" stroke="#333333" stroke-width="1.0" />
<line x1="695.83" y1="812.40" x2="695.83" y2="818.40" stroke="#333333" stroke-width="1.0" />
<line x1="700.21" y1="583.30" x2="700.21" y2="589.30" stroke="#333333" stroke-width="1.0" />
<line x1="700.21" y1="812.40" x2="700.21" y2="818.40" stroke="#333333" stroke-width="1.0" />
<line x1="704.59" y1="583.30" x2="704.59" y2="589.30" stroke="#333333" stroke-width="1.0" />
<line x1="704.59" y1="812.40" x2="704.59" y2="818.40" stroke="#333333" stroke-width="1.0" />
<line x1="708.97" y1="583.30" x2="708.97" y2="589.30" stroke="#333333" stroke-width="1.0" />
<line x1="708.97" y1="812.40" x2="708.97" y2="818.40" stroke="#333333" stroke-width="1.0" />
<line x1="713.35" y1="583.30" x2="713.35" y2="589.30" stroke="#333333" stroke-width="1.0" />
<line x1="713.35" y1="812.40" x2="713.35" y2="818.40" stroke="#333333" stroke-width="1.0" />
<line x1="717.73" y1="583.30" x2="717.73" y2="589.30" stroke="#333333" stroke-width="1.0" />
<line x1="717.73" y1="812.40" x2="717.73" y2="818.40" stroke="#333333" stroke-width="1.0" />
<line x1="722.11" y1="583.30" x2="722.11" y2="589.30" stroke="#333333" stroke-width="1.0" />
<line x1="722.11" y1="812.40" x2="722.11" y2="818.40" stroke="#333333" stroke-width="1.0" />
<line x1="726.49" y1="583.30" x2="726.49" y2="589.30" stroke="#333333" stroke-width="1.0" />
<line x1="726.49" y1="812.40" x2="726.49" y2="818.40" stroke="#333333" stroke-width="1.0" />
<line x1="730.87" y1="583.30" x2="730.87" y2="589.30" stroke="#333333" stroke-width="1.0" />
<line x1="730.87" y1="812.40" x2="730.87" y2="818.40" stroke="#333333" stroke-width="1.0" />
<line x1="735.25" y1="583.30" x2="735.25" y2="589.30" stroke="#333333" stroke-width="1.0" />
<line x1="735.25" y1="812.40" x2="735.25" y2="818.40" stroke="#333333" stroke-width="1.0" />
<line x1="739.64" y1="583.30" x2="739.64" y2="589.30" stroke="#333333" stroke-width="1.0" />
<line x1="739.64" y1="812.40" x2="739.64" y2="818.40" stroke="#333333" stroke-width="1.0" />
<line x1="744.02" y1="583.30" x2="744.02" y2="589.30" stroke="#333333" stroke-width="1.0" />
<line x1="744.02" y1="812.40" x2="744.02" y2="818.40" stroke="#333333" stroke-width="1.0" />
<line x1="748.40" y1="583.30" x2="748.40" y2="589.30" stroke="#333333" stroke-width="1.0" />
<line x1="748.40" y1="812.40" x2="748.40" y2="818.40" stroke="#333333" stroke-width="1.0" />
<line x1="752.78" y1="583.30" x2="752.78" y2="589.30" stroke="#333333" stroke-width="1.0" />
<line x1="752.78" y1="812.40" x2="752.78" y2="818.40" stroke="#333333" stroke-width="1.0" />
<line x1="757.16" y1="583.30" x2="757.16" y2="589.30" stroke="#333333" stroke-width="1.0" />
<line x1="757.16" y1="812.40" x2="757.16" y2="818.40" stroke="#333333" stroke-width="1.0" />
<line x1="761.54" y1="577.80" x2="761.54" y2="589.30" stroke="#333333" stroke-width="1.1" />
<line x1="761.54" y1="812.40" x2="761.54" y2="824.40" stroke="#333333" stroke-width="1.1" />
<line x1="765.92" y1="583.30" x2="765.92" y2="589.30" stroke="#333333" stroke-width="1.0" />
<line x1="765.92" y1="812.40" x2="765.92" y2="818.40" stroke="#333333" stroke-width="1.0" />
<line x1="770.30" y1="583.30" x2="770.30" y2="589.30" stroke="#333333" stroke-width="1.0" />
<line x1="770.30" y1="812.40" x2="770.30" y2="818.40" stroke="#333333" stroke-width="1.0" />
<line x1="774.68" y1="583.30" x2="774.68" y2="589.30" stroke="#333333" stroke-width="1.0" />
<line x1="774.68" y1="812.40" x2="774.68" y2="818.40" stroke="#333333" stroke-width="1.0" />
<line x1="779.06" y1="583.30" x2="779.06" y2="589.30" stroke="#333333" stroke-width="1.0" />
<line x1="779.06" y1="812.40" x2="779.06" y2="818.40" stroke="#333333" stroke-width="1.0" />
<line x1="783.44" y1="583.30" x2="783.44" y2="589.30" stroke="#333333" stroke-width="1.0" />
<line x1="783.44" y1="812.40" x2="783.44" y2="818.40" stroke="#333333" stroke-width="1.0" />
<line x1="787.82" y1="583.30" x2="787.82" y2="589.30" stroke="#333333" stroke-width="1.0" />
<line x1="787.82" y1="812.40" x2="787.82" y2="818.40" stroke="#333333" stroke-width="1.0" />
<line x1="792.21" y1="583.30" x2="792.21" y2="589.30" stroke="#333333" stroke-width="1.0" />
<line x1="792.21" y1="812.40" x2="792.21" y2="818.40" stroke="#333333" stroke-width="1.0" />
<line x1="796.59" y1="583.30" x2="796.59" y2="589.30" stroke="#333333" stroke-width="1.0" />
<line x1="796.59" y1="812.40" x2="796.59" y2="818.40" stroke="#333333" stroke-width="1.0" />
<line x1="800.97" y1="583.30" x2="800.97" y2="589.30" stroke="#333333" stroke-width="1.0" />
<line x1="800.97" y1="812.40" x2="800.97" y2="818.40" stroke="#333333" stroke-width="1.0" />
<line x1="805.35" y1="583.30" x2="805.35" y2="589.30" stroke="#333333" stroke-width="1.0" />
<line x1="805.35" y1="812.40" x2="805.35" y2="818.40" stroke="#333333" stroke-width="1.0" />
<line x1="809.73" y1="583.30" x2="809.73" y2="589.30" stroke="#333333" stroke-width="1.0" />
<line x1="809.73" y1="812.40" x2="809.73" y2="818.40" stroke="#333333" stroke-width="1.0" />
<line x1="814.11" y1="583.30" x2="814.11" y2="589.30" stroke="#333333" stroke-width="1.0" />
<line x1="814.11" y1="812.40" x2="814.11" y2="818.40" stroke="#333333" stroke-width="1.0" />
<line x1="818.49" y1="583.30" x2="818.49" y2="589.30" stroke="#333333" stroke-width="1.0" />
<line x1="818.49" y1="812.40" x2="818.49" y2="818.40" stroke="#333333" stroke-width="1.0" />
<line x1="822.87" y1="583.30" x2="822.87" y2="589.30" stroke="#333333" stroke-width="1.0" />
<line x1="822.87" y1="812.40" x2="822.87" y2="818.40" stroke="#333333" stroke-width="1.0" />
<line x1="827.25" y1="583.30" x2="827.25" y2="589.30" stroke="#333333" stroke-width="1.0" />
<line x1="827.25" y1="812.40" x2="827.25" y2="818.40" stroke="#333333" stroke-width="1.0" />
<line x1="831.63" y1="583.30" x2="831.63" y2="589.30" stroke="#333333" stroke-width="1.0" />
<line x1="831.63" y1="812.40" x2="831.63" y2="818.40" stroke="#333333" stroke-width="1.0" />
<line x1="836.01" y1="583.30" x2="836.01" y2="589.30" stroke="#333333" stroke-width="1.0" />
<line x1="836.01" y1="812.40" x2="836.01" y2="818.40" stroke="#333333" stroke-width="1.0" />
<line x1="840.39" y1="583.30" x2="840.39" y2="589.30" stroke="#333333" stroke-width="1.0" />
<line x1="840.39" y1="812.40" x2="840.39" y2="818.40" stroke="#333333" stroke-width="1.0" />
<line x1="844.78" y1="583.30" x2="844.78" y2="589.30" stroke="#333333" stroke-width="1.0" />
<line x1="844.78" y1="812.40" x2="844.78" y2="818.40" stroke="#333333" stroke-width="1.0" />
<line x1="849.16" y1="583.30" x2="849.16" y2="589.30" stroke="#333333" stroke-width="1.0" />
<line x1="849.16" y1="812.40" x2="849.16" y2="818.40" stroke="#333333" stroke-width="1.0" />
<line x1="853.54" y1="583.30" x2="853.54" y2="589.30" stroke="#333333" stroke-width="1.0" />
<line x1="853.54" y1="812.40" x2="853.54" y2="818.40" stroke="#333333" stroke-width="1.0" />
<line x1="857.92" y1="583.30" x2="857.92" y2="589.30" stroke="#333333" stroke-width="1.0" />
<line x1="857.92" y1="812.40" x2="857.92" y2="818.40" stroke="#333333" stroke-width="1.0" />
<line x1="862.30" y1="583.30" x2="862.30" y2="589.30" stroke="#333333" stroke-width="1.0" />
<line x1="862.30" y1="812.40" x2="862.30" y2="818.40" stroke="#333333" stroke-width="1.0" />
<line x1="866.68" y1="577.80" x2="866.68" y2="589.30" stroke="#333333" stroke-width="1.1" />
<line x1="866.68" y1="812.40" x2="866.68" y2="824.40" stroke="#333333" stroke-width="1.1" />
<line x1="871.06" y1="583.30" x2="871.06" y2="589.30" stroke="#333333" stroke-width="1.0" />
<line x1="871.06" y1="812.40" x2="871.06" y2="818.40" stroke="#333333" stroke-width="1.0" />
<line x1="875.44" y1="583.30" x2="875.44" y2="589.30" stroke="#333333" stroke-width="1.0" />
<line x1="875.44" y1="812.40" x2="875.44" y2="818.40" stroke="#333333" stroke-width="1.0" />
<line x1="879.82" y1="583.30" x2="879.82" y2="589.30" stroke="#333333" stroke-width="1.0" />
<line x1="879.82" y1="812.40" x2="879.82" y2="818.40" stroke="#333333" stroke-width="1.0" />
<line x1="884.20" y1="583.30" x2="884.20" y2="589.30" stroke="#333333" stroke-width="1.0" />
<line x1="884.20" y1="812.40" x2="884.20" y2="818.40" stroke="#333333" stroke-width="1.0" />
<line x1="888.58" y1="583.30" x2="888.58" y2="589.30" stroke="#333333" stroke-width="1.0" />
<line x1="888.58" y1="812.40" x2="888.58" y2="818.40" stroke="#333333" stroke-width="1.0" />
<line x1="892.96" y1="583.30" x2="892.96" y2="589.30" stroke="#333333" stroke-width="1.0" />
<line x1="892.96" y1="812.40" x2="892.96" y2="818.40" stroke="#333333" stroke-width="1.0" />
<line x1="897.35" y1="583.30" x2="897.35" y2="589.30" stroke="#333333" stroke-width="1.0" />
<line x1="897.35" y1="812.40" x2="897.35" y2="818.40" stroke="#333333" stroke-width="1.0" />
<line x1="901.73" y1="583.30" x2="901.73" y2="589.30" stroke="#333333" stroke-width="1.0" />
<line x1="901.73" y1="812.40" x2="901.73" y2="818.40" stroke="#333333" stroke-width="1.0" />
<line x1="906.11" y1="583.30" x2="906.11" y2="589.30" stroke="#333333" stroke-width="1.0" />
<line x1="906.11" y1="812.40" x2="906.11" y2="818.40" stroke="#333333" stroke-width="1.0" />
<line x1="910.49" y1="583.30" x2="910.49" y2="589.30" stroke="#333333" stroke-width="1.0" />
<line x1="910.49" y1="812.40" x2="910.49" y2="818.40" stroke="#333333" stroke-width="1.0" />
<line x1="914.87" y1="583.30" x2="914.87" y2="589.30" stroke="#333333" stroke-width="1.0" />
<line x1="914.87" y1="812.40" x2="914.87" y2="818.40" stroke="#333333" stroke-width="1.0" />
<line x1="919.25" y1="583.30" x2="919.25" y2="589.30" stroke="#333333" stroke-width="1.0" />
<line x1="919.25" y1="812.40" x2="919.25" y2="818.40" stroke="#333333" stroke-width="1.0" />
<line x1="923.63" y1="583.30" x2="923.63" y2="589.30" stroke="#333333" stroke-width="1.0" />
<line x1="923.63" y1="812.40" x2="923.63" y2="818.40" stroke="#333333" stroke-width="1.0" />
<line x1="928.01" y1="583.30" x2="928.01" y2="589.30" stroke="#333333" stroke-width="1.0" />
<line x1="928.01" y1="812.40" x2="928.01" y2="818.40" stroke="#333333" stroke-width="1.0" />
<line x1="932.39" y1="583.30" x2="932.39" y2="589.30" stroke="#333333" stroke-width="1.0" />
<line x1="932.39" y1="812.40" x2="932.39" y2="818.40" stroke="#333333" stroke-width="1.0" />
<line x1="936.77" y1="583.30" x2="936.77" y2="589.30" stroke="#333333" stroke-width="1.0" />
<line x1="936.77" y1="812.40" x2="936.77" y2="818.40" stroke="#333333" stroke-width="1.0" />
<line x1="941.15" y1="583.30" x2="941.15" y2="589.30" stroke="#333333" stroke-width="1.0" />
<line x1="941.15" y1="812.40" x2="941.15" y2="818.40" stroke="#333333" stroke-width="1.0" />
<line x1="945.53" y1="583.30" x2="945.53" y2="589.30" stroke="#333333" stroke-width="1.0" />
<line x1="945.53" y1="812.40" x2="945.53" y2="818.40" stroke="#333333" stroke-width="1.0" />
<line x1="949.92" y1="583.30" x2="949.92" y2="589.30" stroke="#333333" stroke-width="1.0" />
<line x1="949.92" y1="812.40" x2="949.92" y2="818.40" stroke="#333333" stroke-width="1.0" />
<line x1="954.30" y1="583.30" x2="954.30" y2="589.30" stroke="#333333" stroke-width="1.0" />
<line x1="954.30" y1="812.40" x2="954.30" y2="818.40" stroke="#333333" stroke-width="1.0" />
<line x1="958.68" y1="583.30" x2="958.68" y2="589.30" stroke="#333333" stroke-width="1.0" />
<line x1="958.68" y1="812.40" x2="958.68" y2="818.40" stroke="#333333" stroke-width="1.0" />
<line x1="963.06" y1="583.30" x2="963.06" y2="589.30" stroke="#333333" stroke-width="1.0" />
<line x1="963.06" y1="812.40" x2="963.06" y2="818.40" stroke="#333333" stroke-width="1.0" />
<line x1="967.44" y1="583.30" x2="967.44" y2="589.30" stroke="#333333" stroke-width="1.0" />
<line x1="967.44" y1="812.40" x2="967.44" y2="818.40" stroke="#333333" stroke-width="1.0" />
<line x1="971.82" y1="577.80" x2="971.82" y2="589.30" stroke="#333333" stroke-width="1.1" />
<line x1="971.82" y1="812.40" x2="971.82" y2="824.40" stroke="#333333" stroke-width="1.1" />
<line x1="976.20" y1="583.30" x2="976.20" y2="589.30" stroke="#333333" stroke-width="1.0" />
<line x1="976.20" y1="812.40" x2="976.20" y2="818.40" stroke="#333333" stroke-width="1.0" />
<line x1="980.58" y1="583.30" x2="980.58" y2="589.30" stroke="#333333" stroke-width="1.0" />
<line x1="980.58" y1="812.40" x2="980.58" y2="818.40" stroke="#333333" stroke-width="1.0" />
<line x1="984.96" y1="583.30" x2="984.96" y2="589.30" stroke="#333333" stroke-width="1.0" />
<line x1="984.96" y1="812.40" x2="984.96" y2="818.40" stroke="#333333" stroke-width="1.0" />
<line x1="989.34" y1="583.30" x2="989.34" y2="589.30" stroke="#333333" stroke-width="1.0" />
<line x1="989.34" y1="812.40" x2="989.34" y2="818.40" stroke="#333333" stroke-width="1.0" />
<line x1="993.72" y1="583.30" x2="993.72" y2="589.30" stroke="#333333" stroke-width="1.0" />
<line x1="993.72" y1="812.40" x2="993.72" y2="818.40" stroke="#333333" stroke-width="1.0" />
<line x1="998.10" y1="583.30" x2="998.10" y2="589.30" stroke="#333333" stroke-width="1.0" />
<line x1="998.10" y1="812.40" x2="998.10" y2="818.40" stroke="#333333" stroke-width="1.0" />
<line x1="1002.49" y1="583.30" x2="1002.49" y2="589.30" stroke="#333333" stroke-width="1.0" />
<line x1="1002.49" y1="812.40" x2="1002.49" y2="818.40" stroke="#333333" stroke-width="1.0" />
<line x1="1006.87" y1="583.30" x2="1006.87" y2="589.30" stroke="#333333" stroke-width="1.0" />
<line x1="1006.87" y1="812.40" x2="1006.87" y2="818.40" stroke="#333333" stroke-width="1.0" />
<line x1="1011.25" y1="583.30" x2="1011.25" y2="589.30" stroke="#333333" stroke-width="1.0" />
<line x1="1011.25" y1="812.40" x2="1011.25" y2="818.40" stroke="#333333" stroke-width="1.0" />
<line x1="1015.63" y1="583.30" x2="1015.63" y2="589.30" stroke="#333333" stroke-width="1.0" />
<line x1="1015.63" y1="812.40" x2="1015.63" y2="818.40" stroke="#333333" stroke-width="1.0" />
<line x1="1020.01" y1="583.30" x2="1020.01" y2="589.30" stroke="#333333" stroke-width="1.0" />
<line x1="1020.01" y1="812.40" x2="1020.01" y2="818.40" stroke="#333333" stroke-width="1.0" />
<line x1="1024.39" y1="583.30" x2="1024.39" y2="589.30" stroke="#333333" stroke-width="1.0" />
<line x1="1024.39" y1="812.40" x2="1024.39" y2="818.40" stroke="#333333" stroke-width="1.0" />
<line x1="1028.77" y1="583.30" x2="1028.77" y2="589.30" stroke="#333333" stroke-width="1.0" />
<line x1="1028.77" y1="812.40" x2="1028.77" y2="818.40" stroke="#333333" stroke-width="1.0" />
<line x1="1033.15" y1="583.30" x2="1033.15" y2="589.30" stroke="#333333" stroke-width="1.0" />
<line x1="1033.15" y1="812.40" x2="1033.15" y2="818.40" stroke="#333333" stroke-width="1.0" />
<line x1="1037.53" y1="583.30" x2="1037.53" y2="589.30" stroke="#333333" stroke-width="1.0" />
<line x1="1037.53" y1="812.40" x2="1037.53" y2="818.40" stroke="#333333" stroke-width="1.0" />
<line x1="1041.91" y1="583.30" x2="1041.91" y2="589.30" stroke="#333333" stroke-width="1.0" />
<line x1="1041.91" y1="812.40" x2="1041.91" y2="818.40" stroke="#333333" stroke-width="1.0" />
<line x1="1046.29" y1="583.30" x2="1046.29" y2="589.30" stroke="#333333" stroke-width="1.0" />
<line x1="1046.29" y1="812.40" x2="1046.29" y2="818.40" stroke="#333333" stroke-width="1.0" />
<line x1="1050.67" y1="583.30" x2="1050.67" y2="589.30" stroke="#333333" stroke-width="1.0" />
<line x1="1050.67" y1="812.40" x2="1050.67" y2="818.40" stroke="#333333" stroke-width="1.0" />
<line x1="1055.06" y1="583.30" x2="1055.06" y2="589.30" stroke="#333333" stroke-width="1.0" />
<line x1="1055.06" y1="812.40" x2="1055.06" y2="818.40" stroke="#333333" stroke-width="1.0" />
<line x1="1059.44" y1="583.30" x2="1059.44" y2="589.30" stroke="#333333" stroke-width="1.0" />
<line x1="1059.44" y1="812.40" x2="1059.44" y2="818.40" stroke="#333333" stroke-width="1.0" />
<line x1="1063.82" y1="583.30" x2="1063.82" y2="589.30" stroke="#333333" stroke-width="1.0" />
<line x1="1063.82" y1="812.40" x2="1063.82" y2="818.40" stroke="#333333" stroke-width="1.0" />
<line x1="1068.20" y1="583.30" x2="1068.20" y2="589.30" stroke="#333333" stroke-width="1.0" />
<line x1="1068.20" y1="812.40" x2="1068.20" y2="818.40" stroke="#333333" stroke-width="1.0" />
<line x1="1072.58" y1="583.30" x2="1072.58" y2="589.30" stroke="#333333" stroke-width="1.0" />
<line x1="1072.58" y1="812.40" x2="1072.58" y2="818.40" stroke="#333333" stroke-width="1.0" />
<line x1="1076.96" y1="577.80" x2="1076.96" y2="589.30" stroke="#333333" stroke-width="1.1" />
<line x1="1076.96" y1="812.40" x2="1076.96" y2="824.40" stroke="#333333" stroke-width="1.1" />
<line x1="1081.34" y1="583.30" x2="1081.34" y2="589.30" stroke="#333333" stroke-width="1.0" />
<line x1="1081.34" y1="812.40" x2="1081.34" y2="818.40" stroke="#333333" stroke-width="1.0" />
<line x1="1085.72" y1="583.30" x2="1085.72" y2="589.30" stroke="#333333" stroke-width="1.0" />
<line x1="1085.72" y1="812.40" x2="1085.72" y2="818.40" stroke="#333333" stroke-width="1.0" />
<line x1="1090.10" y1="583.30" x2="1090.10" y2="589.30" stroke="#333333" stroke-width="1.0" />
<line x1="1090.10" y1="812.40" x2="1090.10" y2="818.40" stroke="#333333" stroke-width="1.0" />
<line x1="1094.48" y1="583.30" x2="1094.48" y2="589.30" stroke="#333333" stroke-width="1.0" />
<line x1="1094.48" y1="812.40" x2="1094.48" y2="818.40" stroke="#333333" stroke-width="1.0" />
<line x1="1098.86" y1="583.30" x2="1098.86" y2="589.30" stroke="#333333" stroke-width="1.0" />
<line x1="1098.86" y1="812.40" x2="1098.86" y2="818.40" stroke="#333333" stroke-width="1.0" />
<line x1="1103.24" y1="583.30" x2="1103.24" y2="589.30" stroke="#333333" stroke-width="1.0" />
<line x1="1103.24" y1="812.40" x2="1103.24" y2="818.40" stroke="#333333" stroke-width="1.0" />
<line x1="1107.63" y1="583.30" x2="1107.63" y2="589.30" stroke="#333333" stroke-width="1.0" />
<line x1="1107.63" y1="812.40" x2="1107.63" y2="818.40" stroke="#333333" stroke-width="1.0" />
<line x1="1112.01" y1="583.30" x2="1112.01" y2="589.30" stroke="#333333" stroke-width="1.0" />
<line x1="1112.01" y1="812.40" x2="1112.01" y2="818.40" stroke="#333333" stroke-width="1.0" />
<line x1="1116.39" y1="583.30" x2="1116.39" y2="589.30" stroke="#333333" stroke-width="1.0" />
<line x1="1116.39" y1="812.40" x2="1116.39" y2="818.40" stroke="#333333" stroke-width="1.0" />
<line x1="1120.77" y1="583.30" x2="1120.77" y2="589.30" stroke="#333333" stroke-width="1.0" />
<line x1="1120.77" y1="812.40" x2="1120.77" y2="818.40" stroke="#333333" stroke-width="1.0" />
<line x1="1125.15" y1="583.30" x2="1125.15" y2="589.30" stroke="#333333" stroke-width="1.0" />
<line x1="1125.15" y1="812.40" x2="1125.15" y2="818.40" stroke="#333333" stroke-width="1.0" />
<line x1="1129.53" y1="583.30" x2="1129.53" y2="589.30" stroke="#333333" stroke-width="1.0" />
<line x1="1129.53" y1="812.40" x2="1129.53" y2="818.40" stroke="#333333" stroke-width="1.0" />
<line x1="1133.91" y1="583.30" x2="1133.91" y2="589.30" stroke="#333333" stroke-width="1.0" />
<line x1="1133.91" y1="812.40" x2="1133.91" y2="818.40" stroke="#333333" stroke-width="1.0" />
<line x1="1138.29" y1="583.30" x2="1138.29" y2="589.30" stroke="#333333" stroke-width="1.0" />
<line x1="1138.29" y1="812.40" x2="1138.29" y2="818.40" stroke="#333333" stroke-width="1.0" />
<line x1="1142.67" y1="583.30" x2="1142.67" y2="589.30" stroke="#333333" stroke-width="1.0" />
<line x1="1142.67" y1="812.40" x2="1142.67" y2="818.40" stroke="#333333" stroke-width="1.0" />
<line x1="1147.05" y1="583.30" x2="1147.05" y2="589.30" stroke="#333333" stroke-width="1.0" />
<line x1="1147.05" y1="812.40" x2="1147.05" y2="818.40" stroke="#333333" stroke-width="1.0" />
<line x1="1151.43" y1="583.30" x2="1151.43" y2="589.30" stroke="#333333" stroke-width="1.0" />
<line x1="1151.43" y1="812.40" x2="1151.43" y2="818.40" stroke="#333333" stroke-width="1.0" />
<line x1="1155.82" y1="583.30" x2="1155.82" y2="589.30" stroke="#333333" stroke-width="1.0" />
<line x1="1155.82" y1="812.40" x2="1155.82" y2="818.40" stroke="#333333" stroke-width="1.0" />
<line x1="1160.20" y1="583.30" x2="1160.20" y2="589.30" stroke="#333333" stroke-width="1.0" />
<line x1="1160.20" y1="812.40" x2="1160.20" y2="818.40" stroke="#333333" stroke-width="1.0" />
<line x1="1164.58" y1="583.30" x2="1164.58" y2="589.30" stroke="#333333" stroke-width="1.0" />
<line x1="1164.58" y1="812.40" x2="1164.58" y2="818.40" stroke="#333333" stroke-width="1.0" />
<line x1="1168.96" y1="583.30" x2="1168.96" y2="589.30" stroke="#333333" stroke-width="1.0" />
<line x1="1168.96" y1="812.40" x2="1168.96" y2="818.40" stroke="#333333" stroke-width="1.0" />
<line x1="1173.34" y1="583.30" x2="1173.34" y2="589.30" stroke="#333333" stroke-width="1.0" />
<line x1="1173.34" y1="812.40" x2="1173.34" y2="818.40" stroke="#333333" stroke-width="1.0" />
<line x1="1177.72" y1="583.30" x2="1177.72" y2="589.30" stroke="#333333" stroke-width="1.0" />
<line x1="1177.72" y1="812.40" x2="1177.72" y2="818.40" stroke="#333333" stroke-width="1.0" />
<line x1="235.84" y1="589.30" x2="235.84" y2="812.40" stroke="#333" stroke-width="1.1" stroke-dasharray="2.8 4.5"/>
<line x1="340.98" y1="589.30" x2="340.98" y2="812.40" stroke="#333" stroke-width="1.1" stroke-dasharray="2.8 4.5"/>
<line x1="446.12" y1="589.30" x2="446.12" y2="812.40" stroke="#333" stroke-width="1.1" stroke-dasharray="2.8 4.5"/>
<line x1="551.26" y1="589.30" x2="551.26" y2="812.40" stroke="#333" stroke-width="1.1" stroke-dasharray="2.8 4.5"/>
<line x1="656.40" y1="589.30" x2="656.40" y2="812.40" stroke="#333" stroke-width="1.1" stroke-dasharray="2.8 4.5"/>
<line x1="761.54" y1="589.30" x2="761.54" y2="812.40" stroke="#333" stroke-width="1.1" stroke-dasharray="2.8 4.5"/>
<line x1="866.68" y1="589.30" x2="866.68" y2="812.40" stroke="#333" stroke-width="1.1" stroke-dasharray="2.8 4.5"/>
<line x1="971.82" y1="589.30" x2="971.82" y2="812.40" stroke="#333" stroke-width="1.1" stroke-dasharray="2.8 4.5"/>
<line x1="1076.96" y1="589.30" x2="1076.96" y2="812.40" stroke="#333" stroke-width="1.1" stroke-dasharray="2.8 4.5"/>
<line x1="1182.10" y1="589.30" x2="1182.10" y2="812.40" stroke="#333" stroke-width="1.1" stroke-dasharray="2.8 4.5"/>
<line x1="119.00" y1="793.81" x2="130.70" y2="793.81" stroke="#4a4a4a" stroke-width="1.2" />
<line x1="1182.10" y1="793.81" x2="1194.00" y2="793.81" stroke="#4a4a4a" stroke-width="1.2" />
<line x1="119.00" y1="756.62" x2="130.70" y2="756.62" stroke="#4a4a4a" stroke-width="1.2" />
<line x1="1182.10" y1="756.62" x2="1194.00" y2="756.62" stroke="#4a4a4a" stroke-width="1.2" />
<line x1="119.00" y1="719.44" x2="130.70" y2="719.44" stroke="#4a4a4a" stroke-width="1.2" />
<line x1="1182.10" y1="719.44" x2="1194.00" y2="719.44" stroke="#4a4a4a" stroke-width="1.2" />
<line x1="119.00" y1="682.26" x2="130.70" y2="682.26" stroke="#4a4a4a" stroke-width="1.2" />
<line x1="1182.10" y1="682.26" x2="1194.00" y2="682.26" stroke="#4a4a4a" stroke-width="1.2" />
<line x1="119.00" y1="645.07" x2="130.70" y2="645.07" stroke="#4a4a4a" stroke-width="1.2" />
<line x1="1182.10" y1="645.07" x2="1194.00" y2="645.07" stroke="#4a4a4a" stroke-width="1.2" />
<line x1="119.00" y1="607.89" x2="130.70" y2="607.89" stroke="#4a4a4a" stroke-width="1.2" />
<line x1="1182.10" y1="607.89" x2="1194.00" y2="607.89" stroke="#4a4a4a" stroke-width="1.2" />
<line x1="119.00" y1="775.22" x2="130.70" y2="775.22" stroke="#4a4a4a" stroke-width="1.2" />
<line x1="1182.10" y1="775.22" x2="1194.00" y2="775.22" stroke="#4a4a4a" stroke-width="1.2" />
<line x1="119.00" y1="738.03" x2="130.70" y2="738.03" stroke="#4a4a4a" stroke-width="1.2" />
<line x1="1182.10" y1="738.03" x2="1194.00" y2="738.03" stroke="#4a4a4a" stroke-width="1.2" />
<line x1="119.00" y1="700.85" x2="130.70" y2="700.85" stroke="#4a4a4a" stroke-width="1.2" />
<line x1="1182.10" y1="700.85" x2="1194.00" y2="700.85" stroke="#4a4a4a" stroke-width="1.2" />
<line x1="119.00" y1="663.67" x2="130.70" y2="663.67" stroke="#4a4a4a" stroke-width="1.2" />
<line x1="1182.10" y1="663.67" x2="1194.00" y2="663.67" stroke="#4a4a4a" stroke-width="1.2" />
<line x1="119.00" y1="626.48" x2="130.70" y2="626.48" stroke="#4a4a4a" stroke-width="1.2" />
<line x1="1182.10" y1="626.48" x2="1194.00" y2="626.48" stroke="#4a4a4a" stroke-width="1.2" />
<text transform="translate(90.66,819.40) scale(1.2351,1)" font-size="21" fill="#000" letter-spacing="0.000">0.</text>
<text transform="translate(66.04,782.22) scale(1.1980,1)" font-size="21" fill="#000" letter-spacing="0.000">100.</text>
<text transform="translate(65.69,745.03) scale(1.2079,1)" font-size="21" fill="#000" letter-spacing="0.000">200.</text>
<text transform="translate(65.42,707.85) scale(1.2153,1)" font-size="21" fill="#000" letter-spacing="0.000">300.</text>
<text transform="translate(66.20,670.67) scale(1.1933,1)" font-size="21" fill="#000" letter-spacing="0.000">400.</text>
<text transform="translate(65.16,633.48) scale(1.2228,1)" font-size="21" fill="#000" letter-spacing="0.000">500.</text>
<text transform="translate(65.69,596.30) scale(1.2079,1)" font-size="21" fill="#000" letter-spacing="0.000">600.</text>
<text transform="translate(121.79,837.90) scale(1.1728,1)" font-size="15.2" fill="#000" stroke="#000" stroke-width="0.3" letter-spacing="0.000">00</text>
<text transform="translate(148.08,837.90) scale(1.1602,1)" font-size="15.2" fill="#000" stroke="#000" stroke-width="0.3" letter-spacing="0.000">06</text>
<text transform="translate(173.35,837.90) scale(1.2546,1)" font-size="15.2" fill="#000" stroke="#000" stroke-width="0.3" letter-spacing="0.000">12</text>
<text transform="translate(199.66,837.90) scale(1.2402,1)" font-size="15.2" fill="#000" stroke="#000" stroke-width="0.3" letter-spacing="0.000">18</text>
<text transform="translate(226.93,837.90) scale(1.1728,1)" font-size="15.2" fill="#000" stroke="#000" stroke-width="0.3" letter-spacing="0.000">00</text>
<text transform="translate(253.22,837.90) scale(1.1602,1)" font-size="15.2" fill="#000" stroke="#000" stroke-width="0.3" letter-spacing="0.000">06</text>
<text transform="translate(278.49,837.90) scale(1.2546,1)" font-size="15.2" fill="#000" stroke="#000" stroke-width="0.3" letter-spacing="0.000">12</text>
<text transform="translate(304.80,837.90) scale(1.2402,1)" font-size="15.2" fill="#000" stroke="#000" stroke-width="0.3" letter-spacing="0.000">18</text>
<text transform="translate(332.07,837.90) scale(1.1728,1)" font-size="15.2" fill="#000" stroke="#000" stroke-width="0.3" letter-spacing="0.000">00</text>
<text transform="translate(358.36,837.90) scale(1.1602,1)" font-size="15.2" fill="#000" stroke="#000" stroke-width="0.3" letter-spacing="0.000">06</text>
<text transform="translate(383.63,837.90) scale(1.2546,1)" font-size="15.2" fill="#000" stroke="#000" stroke-width="0.3" letter-spacing="0.000">12</text>
<text transform="translate(409.94,837.90) scale(1.2402,1)" font-size="15.2" fill="#000" stroke="#000" stroke-width="0.3" letter-spacing="0.000">18</text>
<text transform="translate(437.21,837.90) scale(1.1728,1)" font-size="15.2" fill="#000" stroke="#000" stroke-width="0.3" letter-spacing="0.000">00</text>
<text transform="translate(463.50,837.90) scale(1.1602,1)" font-size="15.2" fill="#000" stroke="#000" stroke-width="0.3" letter-spacing="0.000">06</text>
<text transform="translate(488.77,837.90) scale(1.2546,1)" font-size="15.2" fill="#000" stroke="#000" stroke-width="0.3" letter-spacing="0.000">12</text>
<text transform="translate(515.08,837.90) scale(1.2402,1)" font-size="15.2" fill="#000" stroke="#000" stroke-width="0.3" letter-spacing="0.000">18</text>
<text transform="translate(542.35,837.90) scale(1.1728,1)" font-size="15.2" fill="#000" stroke="#000" stroke-width="0.3" letter-spacing="0.000">00</text>
<text transform="translate(568.64,837.90) scale(1.1602,1)" font-size="15.2" fill="#000" stroke="#000" stroke-width="0.3" letter-spacing="0.000">06</text>
<text transform="translate(593.91,837.90) scale(1.2546,1)" font-size="15.2" fill="#000" stroke="#000" stroke-width="0.3" letter-spacing="0.000">12</text>
<text transform="translate(620.22,837.90) scale(1.2402,1)" font-size="15.2" fill="#000" stroke="#000" stroke-width="0.3" letter-spacing="0.000">18</text>
<text transform="translate(647.49,837.90) scale(1.1728,1)" font-size="15.2" fill="#000" stroke="#000" stroke-width="0.3" letter-spacing="0.000">00</text>
<text transform="translate(673.78,837.90) scale(1.1602,1)" font-size="15.2" fill="#000" stroke="#000" stroke-width="0.3" letter-spacing="0.000">06</text>
<text transform="translate(699.05,837.90) scale(1.2546,1)" font-size="15.2" fill="#000" stroke="#000" stroke-width="0.3" letter-spacing="0.000">12</text>
<text transform="translate(725.36,837.90) scale(1.2402,1)" font-size="15.2" fill="#000" stroke="#000" stroke-width="0.3" letter-spacing="0.000">18</text>
<text transform="translate(752.63,837.90) scale(1.1728,1)" font-size="15.2" fill="#000" stroke="#000" stroke-width="0.3" letter-spacing="0.000">00</text>
<text transform="translate(778.92,837.90) scale(1.1602,1)" font-size="15.2" fill="#000" stroke="#000" stroke-width="0.3" letter-spacing="0.000">06</text>
<text transform="translate(804.19,837.90) scale(1.2546,1)" font-size="15.2" fill="#000" stroke="#000" stroke-width="0.3" letter-spacing="0.000">12</text>
<text transform="translate(830.50,837.90) scale(1.2402,1)" font-size="15.2" fill="#000" stroke="#000" stroke-width="0.3" letter-spacing="0.000">18</text>
<text transform="translate(857.77,837.90) scale(1.1728,1)" font-size="15.2" fill="#000" stroke="#000" stroke-width="0.3" letter-spacing="0.000">00</text>
<text transform="translate(884.06,837.90) scale(1.1602,1)" font-size="15.2" fill="#000" stroke="#000" stroke-width="0.3" letter-spacing="0.000">06</text>
<text transform="translate(909.33,837.90) scale(1.2546,1)" font-size="15.2" fill="#000" stroke="#000" stroke-width="0.3" letter-spacing="0.000">12</text>
<text transform="translate(935.64,837.90) scale(1.2402,1)" font-size="15.2" fill="#000" stroke="#000" stroke-width="0.3" letter-spacing="0.000">18</text>
<text transform="translate(962.91,837.90) scale(1.1728,1)" font-size="15.2" fill="#000" stroke="#000" stroke-width="0.3" letter-spacing="0.000">00</text>
<text transform="translate(989.20,837.90) scale(1.1602,1)" font-size="15.2" fill="#000" stroke="#000" stroke-width="0.3" letter-spacing="0.000">06</text>
<text transform="translate(1014.47,837.90) scale(1.2546,1)" font-size="15.2" fill="#000" stroke="#000" stroke-width="0.3" letter-spacing="0.000">12</text>
<text transform="translate(1040.78,837.90) scale(1.2402,1)" font-size="15.2" fill="#000" stroke="#000" stroke-width="0.3" letter-spacing="0.000">18</text>
<text transform="translate(1068.05,837.90) scale(1.1728,1)" font-size="15.2" fill="#000" stroke="#000" stroke-width="0.3" letter-spacing="0.000">00</text>
<text transform="translate(1094.34,837.90) scale(1.1602,1)" font-size="15.2" fill="#000" stroke="#000" stroke-width="0.3" letter-spacing="0.000">06</text>
<text transform="translate(1119.61,837.90) scale(1.2546,1)" font-size="15.2" fill="#000" stroke="#000" stroke-width="0.3" letter-spacing="0.000">12</text>
<text transform="translate(1145.92,837.90) scale(1.2402,1)" font-size="15.2" fill="#000" stroke="#000" stroke-width="0.3" letter-spacing="0.000">18</text>
<text transform="translate(1173.19,837.90) scale(1.1728,1)" font-size="15.2" fill="#000" stroke="#000" stroke-width="0.3" letter-spacing="0.000">00</text>
<text transform="translate(143.48,861.50) scale(0.9472,1)" font-size="22" fill="#000" letter-spacing="0.000">JAN</text>
<text transform="translate(193.30,861.50) scale(1.1788,1)" font-size="22" fill="#000" letter-spacing="0.000">30</text>
<text transform="translate(245.78,861.50) scale(0.9523,1)" font-size="22" fill="#000" letter-spacing="0.000">JAN</text>
<text transform="translate(297.01,861.50) scale(1.0827,1)" font-size="22" fill="#000" letter-spacing="0.000">31</text>
<text transform="translate(351.62,861.50) scale(1.0253,1)" font-size="22" fill="#000" letter-spacing="0.000">FEB</text>
<text transform="translate(413.16,861.50) scale(1.2338,1)" font-size="22" fill="#000" letter-spacing="0.000">1</text>
<text transform="translate(456.69,861.50) scale(1.0253,1)" font-size="22" fill="#000" letter-spacing="0.000">FEB</text>
<text transform="translate(520.07,861.50) scale(1.1752,1)" font-size="22" fill="#000" letter-spacing="0.000">2</text>
<text transform="translate(561.76,861.50) scale(1.0253,1)" font-size="22" fill="#000" letter-spacing="0.000">FEB</text>
<text transform="translate(624.81,861.50) scale(1.1752,1)" font-size="22" fill="#000" letter-spacing="0.000">3</text>
<text transform="translate(666.83,861.50) scale(1.0253,1)" font-size="22" fill="#000" letter-spacing="0.000">FEB</text>
<text transform="translate(730.64,861.50) scale(1.0474,1)" font-size="22" fill="#000" letter-spacing="0.000">4</text>
<text transform="translate(771.90,861.50) scale(1.0253,1)" font-size="22" fill="#000" letter-spacing="0.000">FEB</text>
<text transform="translate(834.51,861.50) scale(1.2045,1)" font-size="22" fill="#000" letter-spacing="0.000">5</text>
<text transform="translate(876.97,861.50) scale(1.0253,1)" font-size="22" fill="#000" letter-spacing="0.000">FEB</text>
<text transform="translate(940.11,861.50) scale(1.1205,1)" font-size="22" fill="#000" letter-spacing="0.000">6</text>
<text transform="translate(982.04,861.50) scale(1.0253,1)" font-size="22" fill="#000" letter-spacing="0.000">FEB</text>
<text transform="translate(1044.25,861.50) scale(1.2045,1)" font-size="22" fill="#000" letter-spacing="0.000">7</text>
<text transform="translate(1087.11,861.50) scale(1.0253,1)" font-size="22" fill="#000" letter-spacing="0.000">FEB</text>
<text transform="translate(1150.09,861.50) scale(1.1472,1)" font-size="22" fill="#000" letter-spacing="0.000">8</text>
<polyline points="125.0,812.4 159.4,812.4 163.8,810.2 168.3,774.7 172.3,733.6 176.7,785.7 181.2,779.1 185.6,786.9 190.0,790.2 194.5,805.7 198.9,810.2 202.7,812.4 264.8,812.4 269.3,810.2 273.7,796.8 278.2,779.1 282.1,750.2 286.6,738.0 291.0,750.2 294.8,776.9 299.2,796.8 303.7,805.7 308.1,812.4 369.1,812.4 373.6,810.2 378.0,759.1 382.5,728.0 386.9,712.5 391.1,780.2 395.5,775.8 400.0,788.4 404.4,798.0 408.8,805.7 413.3,812.4 474.3,812.4 478.8,809.1 483.2,770.2 488.1,726.9 492.5,743.6 496.5,738.7 501.0,714.7 505.4,698.1 509.8,736.9 514.3,776.9 518.7,812.4 579.7,812.4 583.7,810.2 588.6,781.3 593.1,791.3 597.0,701.4 601.5,680.3 605.9,697.0 610.4,741.4 614.8,781.3 619.3,801.3 623.0,812.4 684.9,812.4 689.4,806.8 693.8,770.2 698.2,728.0 702.7,693.6 707.1,680.3 711.1,681.0 715.6,695.9 720.0,736.9 723.8,776.9 728.6,812.4 789.9,812.4 794.4,806.8 798.8,770.2 803.2,723.6 807.7,689.2 812.1,671.4 816.6,674.8 821.0,692.5 825.4,730.3 829.2,770.2 833.6,811.3 837.0,812.4 894.7,812.4 894.9,812.4 899.3,806.8 903.7,763.6 908.2,725.8 912.6,774.7 917.1,800.2 921.5,803.5 926.0,799.1 930.4,805.7 934.8,810.2 939.3,812.4 1000.5,812.4 1005.0,810.2 1009.4,805.7 1013.8,798.0 1018.3,790.6 1022.7,768.0 1026.5,793.5 1030.9,754.7 1035.4,789.1 1039.8,805.7 1044.2,812.4 1105.3,812.4 1109.7,810.2 1114.2,794.6 1118.6,779.1 1123.0,764.7 1127.5,768.0 1131.9,785.7 1136.4,794.6 1140.8,802.4 1145.2,809.1 1149.7,812.4 1182.1,812.4" fill="none" stroke="#ff1010" stroke-width="1.45" stroke-linejoin="round" clip-path="url(#c2)"/>
<polyline points="125.0,812.4 159.4,812.4 163.8,806.8 168.3,754.7 172.7,683.7 177.1,641.5 181.6,620.4 185.4,622.0 189.4,641.5 192.7,683.7 197.1,745.8 201.6,805.7 203.1,812.4 264.8,812.4 269.3,806.8 273.7,754.7 278.2,683.7 282.6,638.2 287.0,618.2 291.5,620.4 295.9,643.7 300.3,688.1 303.7,745.8 308.1,812.4 369.1,812.4 373.6,804.6 378.0,754.7 382.5,683.7 386.9,634.8 392.2,616.0 395.5,618.2 400.0,641.5 403.3,681.4 407.7,741.4 413.3,812.4 474.3,812.4 478.8,800.2 483.2,754.7 487.7,683.7 492.1,634.8 497.0,613.7 501.0,616.0 505.4,639.3 509.8,683.7 513.1,741.4 517.6,812.4 579.7,812.4 584.2,796.8 588.6,754.7 593.1,683.7 597.5,630.4 601.9,611.5 606.4,613.7 610.8,639.3 615.3,683.7 618.6,741.4 623.0,812.4 684.9,812.4 689.4,794.6 693.8,741.4 698.2,679.2 702.7,627.1 706.7,608.6 711.1,610.9 715.6,632.6 720.0,674.8 723.8,741.4 728.2,812.4 789.9,812.4 794.4,794.6 798.8,741.4 803.2,679.2 807.7,625.9 812.1,606.4 816.6,608.6 821.0,630.4 825.4,674.8 829.2,741.4 833.6,812.4 894.7,812.4 894.9,812.4 899.3,790.2 903.7,741.4 908.2,679.2 912.6,623.7 917.1,603.8 921.5,606.6 926.0,625.9 930.4,674.8 934.8,741.4 939.3,807.9 942.6,812.4 1000.5,812.4 1005.0,790.2 1009.4,741.4 1013.8,679.2 1018.3,621.5 1022.7,601.1 1026.5,603.3 1030.9,625.9 1035.4,674.8 1039.8,741.4 1044.2,807.9 1047.6,812.4 1105.3,812.4 1109.7,790.2 1114.2,741.4 1118.6,679.2 1123.0,619.3 1127.5,598.9 1131.9,601.1 1136.4,625.9 1140.8,674.8 1145.2,741.4 1149.7,804.6 1154.1,812.4 1182.1,812.4" fill="none" stroke="#138a13" stroke-width="1.0" stroke-linejoin="round" clip-path="url(#c2)"/>
<polyline points="132.8,727.4 137.2,726.5 141.7,725.2 146.1,723.8 150.5,722.7 155.0,725.8 159.4,726.3 163.8,725.4 168.3,724.7 172.1,723.2 176.5,700.3 180.9,697.0 185.4,698.5 189.8,697.4 194.3,696.3 198.7,696.3 203.1,696.3 207.6,719.2 212.0,723.6 216.4,722.9 220.9,720.3 225.3,704.1 229.8,701.4 234.2,699.2 238.2,696.3 242.6,698.7 247.1,715.8 251.5,717.4 255.9,717.6 260.4,717.8 264.8,717.8 268.8,718.3 273.3,695.9 277.7,695.2 282.1,698.7 286.6,698.1 291.0,696.3 295.5,693.6 299.9,693.6 304.3,694.8 308.1,698.1 312.5,713.0 317.0,724.0 321.4,724.0 325.9,721.4 330.3,713.6 334.7,708.5 339.2,722.9 343.6,724.3 348.0,722.1 352.5,699.6 356.9,698.7 360.7,698.7 365.2,707.6 369.6,724.7 374.0,700.7 378.5,714.7 382.9,722.9 387.1,714.7 387.3,715.2 391.5,699.6 396.0,697.0 400.4,696.3 404.9,696.3 409.3,696.3 413.3,696.3 417.7,716.5 422.2,720.9 426.6,705.8 431.0,703.2 435.5,700.7 439.9,704.1 444.4,723.6 448.8,724.0 453.3,724.5 457.7,724.7 462.1,725.8 466.6,725.8 471.0,725.8 475.4,726.0 479.9,726.7 484.3,727.2 487.7,726.3 492.1,713.2 496.5,712.1 501.0,718.7 505.4,726.3 509.8,726.3 514.3,727.6 518.7,727.6 526.5,728.5 530.9,727.6 535.4,726.3 539.8,725.2 544.7,724.3 549.1,697.6 553.5,698.5 558.0,697.6 562.4,697.0 566.9,700.3 571.3,699.9 575.7,701.4 580.2,701.2 584.6,702.3 589.1,705.8 593.5,695.2 597.5,717.4 601.9,718.5 606.4,712.5 610.8,703.6 615.3,693.6 619.7,694.1 624.2,694.3 628.6,694.8 633.0,695.4 637.5,695.9 640.8,701.9 641.6,701.9 645.7,699.6 650.1,715.2 654.5,718.1 659.0,715.2 663.4,703.2 667.8,699.9 672.3,708.5 676.1,720.7 680.5,715.8 684.9,718.1 689.4,722.9 693.8,721.8 698.2,719.2 702.7,719.6 707.1,718.1 711.6,718.7 716.0,720.1 720.4,720.1 724.9,720.9 729.3,721.8 733.8,722.5 738.2,721.4 742.7,721.8 746.6,695.9 751.1,720.9 755.5,722.3 759.3,721.8 763.7,698.7 768.2,722.5 772.6,722.3 777.0,722.3 781.5,723.2 785.9,724.0 790.4,724.7 794.4,725.2 798.8,723.2 803.2,722.3 807.7,721.4 812.1,720.9 816.6,720.3 821.0,720.3 825.4,720.7 829.9,720.9 834.3,720.9 838.7,720.5 843.2,719.8 847.6,720.9 852.0,722.1 856.5,721.8 860.3,718.7 864.7,707.0 869.1,713.8 873.6,716.9 878.0,709.2 882.5,694.8 886.9,698.7 891.3,719.6 895.8,717.4 898.9,718.1 903.3,715.2 907.8,714.7 912.2,695.2 916.6,691.9 921.1,690.8 929.9,690.8 934.4,690.8 938.8,690.3 943.3,689.9 947.7,689.6 956.6,689.4 961.0,689.6 965.5,690.3 969.9,691.0 974.3,690.3 983.2,690.3 992.1,689.9 1001.0,690.8 1009.8,691.0 1018.7,691.0 1026.5,691.0 1030.9,695.9 1035.4,691.6 1039.8,691.9 1044.2,693.6 1053.1,693.0 1057.6,692.8 1062.0,718.5 1066.4,719.2 1070.9,722.5 1075.3,720.7 1079.8,717.6 1083.5,714.3 1088.0,695.2 1092.4,694.3 1098.6,694.1 1107.5,694.1 1116.4,694.1 1123.0,694.1 1129.7,692.8 1134.1,692.8 1143.0,693.2 1157.5,693.3 1162.3,696.5 1166.8,722.6 1171.1,710.6 1175.4,703.9 1179.9,709.8" fill="none" stroke="#1414ff" stroke-width="1.6" stroke-linejoin="round" clip-path="url(#c2)"/>
<text transform="translate(138.63,636.80) scale(1.3000,1)" font-size="20.5" fill="#ff1010" letter-spacing="0.596">Solar</text>
<text transform="translate(139.43,664.20) scale(1.3000,1)" font-size="20.5" fill="#1414ff" letter-spacing="0.947">Infrared</text>
<text transform="translate(139.97,691.80) scale(1.3000,1)" font-size="20.5" fill="#138a13" letter-spacing="0.739">Top of Atmosphere (Solar)</text>
<text transform="translate(53.20,818.29) rotate(-90) scale(1.2581,1)" font-size="21" fill="#000" letter-spacing="0.000">Energy fluxes (W/m</text>
<text transform="translate(45.40,601.84) rotate(-90) scale(1.2712,1)" font-size="16.5" fill="#000" letter-spacing="0.000">2</text>
<text transform="translate(53.20,592.25) rotate(-90) scale(1.1905,1)" font-size="21" fill="#000" letter-spacing="0.000">)</text>
<line x1="119.00" y1="877.10" x2="1194.00" y2="877.10" stroke="#4a4a4a" stroke-width="1.2" />
<line x1="119.00" y1="1100.40" x2="1194.00" y2="1100.40" stroke="#4a4a4a" stroke-width="1.2" />
<line x1="130.70" y1="866.10" x2="130.70" y2="1111.40" stroke="#4a4a4a" stroke-width="1.2" />
<line x1="1182.10" y1="866.10" x2="1182.10" y2="1111.40" stroke="#4a4a4a" stroke-width="1.2" />
<line x1="135.08" y1="871.10" x2="135.08" y2="877.10" stroke="#333333" stroke-width="1.0" />
<line x1="135.08" y1="1100.40" x2="135.08" y2="1106.40" stroke="#333333" stroke-width="1.0" />
<line x1="139.46" y1="871.10" x2="139.46" y2="877.10" stroke="#333333" stroke-width="1.0" />
<line x1="139.46" y1="1100.40" x2="139.46" y2="1106.40" stroke="#333333" stroke-width="1.0" />
<line x1="143.84" y1="871.10" x2="143.84" y2="877.10" stroke="#333333" stroke-width="1.0" />
<line x1="143.84" y1="1100.40" x2="143.84" y2="1106.40" stroke="#333333" stroke-width="1.0" />
<line x1="148.22" y1="871.10" x2="148.22" y2="877.10" stroke="#333333" stroke-width="1.0" />
<line x1="148.22" y1="1100.40" x2="148.22" y2="1106.40" stroke="#333333" stroke-width="1.0" />
<line x1="152.60" y1="871.10" x2="152.60" y2="877.10" stroke="#333333" stroke-width="1.0" />
<line x1="152.60" y1="1100.40" x2="152.60" y2="1106.40" stroke="#333333" stroke-width="1.0" />
<line x1="156.98" y1="871.10" x2="156.98" y2="877.10" stroke="#333333" stroke-width="1.0" />
<line x1="156.98" y1="1100.40" x2="156.98" y2="1106.40" stroke="#333333" stroke-width="1.0" />
<line x1="161.37" y1="871.10" x2="161.37" y2="877.10" stroke="#333333" stroke-width="1.0" />
<line x1="161.37" y1="1100.40" x2="161.37" y2="1106.40" stroke="#333333" stroke-width="1.0" />
<line x1="165.75" y1="871.10" x2="165.75" y2="877.10" stroke="#333333" stroke-width="1.0" />
<line x1="165.75" y1="1100.40" x2="165.75" y2="1106.40" stroke="#333333" stroke-width="1.0" />
<line x1="170.13" y1="871.10" x2="170.13" y2="877.10" stroke="#333333" stroke-width="1.0" />
<line x1="170.13" y1="1100.40" x2="170.13" y2="1106.40" stroke="#333333" stroke-width="1.0" />
<line x1="174.51" y1="871.10" x2="174.51" y2="877.10" stroke="#333333" stroke-width="1.0" />
<line x1="174.51" y1="1100.40" x2="174.51" y2="1106.40" stroke="#333333" stroke-width="1.0" />
<line x1="178.89" y1="871.10" x2="178.89" y2="877.10" stroke="#333333" stroke-width="1.0" />
<line x1="178.89" y1="1100.40" x2="178.89" y2="1106.40" stroke="#333333" stroke-width="1.0" />
<line x1="183.27" y1="871.10" x2="183.27" y2="877.10" stroke="#333333" stroke-width="1.0" />
<line x1="183.27" y1="1100.40" x2="183.27" y2="1106.40" stroke="#333333" stroke-width="1.0" />
<line x1="187.65" y1="871.10" x2="187.65" y2="877.10" stroke="#333333" stroke-width="1.0" />
<line x1="187.65" y1="1100.40" x2="187.65" y2="1106.40" stroke="#333333" stroke-width="1.0" />
<line x1="192.03" y1="871.10" x2="192.03" y2="877.10" stroke="#333333" stroke-width="1.0" />
<line x1="192.03" y1="1100.40" x2="192.03" y2="1106.40" stroke="#333333" stroke-width="1.0" />
<line x1="196.41" y1="871.10" x2="196.41" y2="877.10" stroke="#333333" stroke-width="1.0" />
<line x1="196.41" y1="1100.40" x2="196.41" y2="1106.40" stroke="#333333" stroke-width="1.0" />
<line x1="200.79" y1="871.10" x2="200.79" y2="877.10" stroke="#333333" stroke-width="1.0" />
<line x1="200.79" y1="1100.40" x2="200.79" y2="1106.40" stroke="#333333" stroke-width="1.0" />
<line x1="205.17" y1="871.10" x2="205.17" y2="877.10" stroke="#333333" stroke-width="1.0" />
<line x1="205.17" y1="1100.40" x2="205.17" y2="1106.40" stroke="#333333" stroke-width="1.0" />
<line x1="209.55" y1="871.10" x2="209.55" y2="877.10" stroke="#333333" stroke-width="1.0" />
<line x1="209.55" y1="1100.40" x2="209.55" y2="1106.40" stroke="#333333" stroke-width="1.0" />
<line x1="213.94" y1="871.10" x2="213.94" y2="877.10" stroke="#333333" stroke-width="1.0" />
<line x1="213.94" y1="1100.40" x2="213.94" y2="1106.40" stroke="#333333" stroke-width="1.0" />
<line x1="218.32" y1="871.10" x2="218.32" y2="877.10" stroke="#333333" stroke-width="1.0" />
<line x1="218.32" y1="1100.40" x2="218.32" y2="1106.40" stroke="#333333" stroke-width="1.0" />
<line x1="222.70" y1="871.10" x2="222.70" y2="877.10" stroke="#333333" stroke-width="1.0" />
<line x1="222.70" y1="1100.40" x2="222.70" y2="1106.40" stroke="#333333" stroke-width="1.0" />
<line x1="227.08" y1="871.10" x2="227.08" y2="877.10" stroke="#333333" stroke-width="1.0" />
<line x1="227.08" y1="1100.40" x2="227.08" y2="1106.40" stroke="#333333" stroke-width="1.0" />
<line x1="231.46" y1="871.10" x2="231.46" y2="877.10" stroke="#333333" stroke-width="1.0" />
<line x1="231.46" y1="1100.40" x2="231.46" y2="1106.40" stroke="#333333" stroke-width="1.0" />
<line x1="235.84" y1="865.60" x2="235.84" y2="877.10" stroke="#333333" stroke-width="1.1" />
<line x1="235.84" y1="1100.40" x2="235.84" y2="1112.40" stroke="#333333" stroke-width="1.1" />
<line x1="240.22" y1="871.10" x2="240.22" y2="877.10" stroke="#333333" stroke-width="1.0" />
<line x1="240.22" y1="1100.40" x2="240.22" y2="1106.40" stroke="#333333" stroke-width="1.0" />
<line x1="244.60" y1="871.10" x2="244.60" y2="877.10" stroke="#333333" stroke-width="1.0" />
<line x1="244.60" y1="1100.40" x2="244.60" y2="1106.40" stroke="#333333" stroke-width="1.0" />
<line x1="248.98" y1="871.10" x2="248.98" y2="877.10" stroke="#333333" stroke-width="1.0" />
<line x1="248.98" y1="1100.40" x2="248.98" y2="1106.40" stroke="#333333" stroke-width="1.0" />
<line x1="253.36" y1="871.10" x2="253.36" y2="877.10" stroke="#333333" stroke-width="1.0" />
<line x1="253.36" y1="1100.40" x2="253.36" y2="1106.40" stroke="#333333" stroke-width="1.0" />
<line x1="257.74" y1="871.10" x2="257.74" y2="877.10" stroke="#333333" stroke-width="1.0" />
<line x1="257.74" y1="1100.40" x2="257.74" y2="1106.40" stroke="#333333" stroke-width="1.0" />
<line x1="262.12" y1="871.10" x2="262.12" y2="877.10" stroke="#333333" stroke-width="1.0" />
<line x1="262.12" y1="1100.40" x2="262.12" y2="1106.40" stroke="#333333" stroke-width="1.0" />
<line x1="266.51" y1="871.10" x2="266.51" y2="877.10" stroke="#333333" stroke-width="1.0" />
<line x1="266.51" y1="1100.40" x2="266.51" y2="1106.40" stroke="#333333" stroke-width="1.0" />
<line x1="270.89" y1="871.10" x2="270.89" y2="877.10" stroke="#333333" stroke-width="1.0" />
<line x1="270.89" y1="1100.40" x2="270.89" y2="1106.40" stroke="#333333" stroke-width="1.0" />
<line x1="275.27" y1="871.10" x2="275.27" y2="877.10" stroke="#333333" stroke-width="1.0" />
<line x1="275.27" y1="1100.40" x2="275.27" y2="1106.40" stroke="#333333" stroke-width="1.0" />
<line x1="279.65" y1="871.10" x2="279.65" y2="877.10" stroke="#333333" stroke-width="1.0" />
<line x1="279.65" y1="1100.40" x2="279.65" y2="1106.40" stroke="#333333" stroke-width="1.0" />
<line x1="284.03" y1="871.10" x2="284.03" y2="877.10" stroke="#333333" stroke-width="1.0" />
<line x1="284.03" y1="1100.40" x2="284.03" y2="1106.40" stroke="#333333" stroke-width="1.0" />
<line x1="288.41" y1="871.10" x2="288.41" y2="877.10" stroke="#333333" stroke-width="1.0" />
<line x1="288.41" y1="1100.40" x2="288.41" y2="1106.40" stroke="#333333" stroke-width="1.0" />
<line x1="292.79" y1="871.10" x2="292.79" y2="877.10" stroke="#333333" stroke-width="1.0" />
<line x1="292.79" y1="1100.40" x2="292.79" y2="1106.40" stroke="#333333" stroke-width="1.0" />
<line x1="297.17" y1="871.10" x2="297.17" y2="877.10" stroke="#333333" stroke-width="1.0" />
<line x1="297.17" y1="1100.40" x2="297.17" y2="1106.40" stroke="#333333" stroke-width="1.0" />
<line x1="301.55" y1="871.10" x2="301.55" y2="877.10" stroke="#333333" stroke-width="1.0" />
<line x1="301.55" y1="1100.40" x2="301.55" y2="1106.40" stroke="#333333" stroke-width="1.0" />
<line x1="305.93" y1="871.10" x2="305.93" y2="877.10" stroke="#333333" stroke-width="1.0" />
<line x1="305.93" y1="1100.40" x2="305.93" y2="1106.40" stroke="#333333" stroke-width="1.0" />
<line x1="310.31" y1="871.10" x2="310.31" y2="877.10" stroke="#333333" stroke-width="1.0" />
<line x1="310.31" y1="1100.40" x2="310.31" y2="1106.40" stroke="#333333" stroke-width="1.0" />
<line x1="314.69" y1="871.10" x2="314.69" y2="877.10" stroke="#333333" stroke-width="1.0" />
<line x1="314.69" y1="1100.40" x2="314.69" y2="1106.40" stroke="#333333" stroke-width="1.0" />
<line x1="319.08" y1="871.10" x2="319.08" y2="877.10" stroke="#333333" stroke-width="1.0" />
<line x1="319.08" y1="1100.40" x2="319.08" y2="1106.40" stroke="#333333" stroke-width="1.0" />
<line x1="323.46" y1="871.10" x2="323.46" y2="877.10" stroke="#333333" stroke-width="1.0" />
<line x1="323.46" y1="1100.40" x2="323.46" y2="1106.40" stroke="#333333" stroke-width="1.0" />
<line x1="327.84" y1="871.10" x2="327.84" y2="877.10" stroke="#333333" stroke-width="1.0" />
<line x1="327.84" y1="1100.40" x2="327.84" y2="1106.40" stroke="#333333" stroke-width="1.0" />
<line x1="332.22" y1="871.10" x2="332.22" y2="877.10" stroke="#333333" stroke-width="1.0" />
<line x1="332.22" y1="1100.40" x2="332.22" y2="1106.40" stroke="#333333" stroke-width="1.0" />
<line x1="336.60" y1="871.10" x2="336.60" y2="877.10" stroke="#333333" stroke-width="1.0" />
<line x1="336.60" y1="1100.40" x2="336.60" y2="1106.40" stroke="#333333" stroke-width="1.0" />
<line x1="340.98" y1="865.60" x2="340.98" y2="877.10" stroke="#333333" stroke-width="1.1" />
<line x1="340.98" y1="1100.40" x2="340.98" y2="1112.40" stroke="#333333" stroke-width="1.1" />
<line x1="345.36" y1="871.10" x2="345.36" y2="877.10" stroke="#333333" stroke-width="1.0" />
<line x1="345.36" y1="1100.40" x2="345.36" y2="1106.40" stroke="#333333" stroke-width="1.0" />
<line x1="349.74" y1="871.10" x2="349.74" y2="877.10" stroke="#333333" stroke-width="1.0" />
<line x1="349.74" y1="1100.40" x2="349.74" y2="1106.40" stroke="#333333" stroke-width="1.0" />
<line x1="354.12" y1="871.10" x2="354.12" y2="877.10" stroke="#333333" stroke-width="1.0" />
<line x1="354.12" y1="1100.40" x2="354.12" y2="1106.40" stroke="#333333" stroke-width="1.0" />
<line x1="358.50" y1="871.10" x2="358.50" y2="877.10" stroke="#333333" stroke-width="1.0" />
<line x1="358.50" y1="1100.40" x2="358.50" y2="1106.40" stroke="#333333" stroke-width="1.0" />
<line x1="362.88" y1="871.10" x2="362.88" y2="877.10" stroke="#333333" stroke-width="1.0" />
<line x1="362.88" y1="1100.40" x2="362.88" y2="1106.40" stroke="#333333" stroke-width="1.0" />
<line x1="367.26" y1="871.10" x2="367.26" y2="877.10" stroke="#333333" stroke-width="1.0" />
<line x1="367.26" y1="1100.40" x2="367.26" y2="1106.40" stroke="#333333" stroke-width="1.0" />
<line x1="371.65" y1="871.10" x2="371.65" y2="877.10" stroke="#333333" stroke-width="1.0" />
<line x1="371.65" y1="1100.40" x2="371.65" y2="1106.40" stroke="#333333" stroke-width="1.0" />
<line x1="376.03" y1="871.10" x2="376.03" y2="877.10" stroke="#333333" stroke-width="1.0" />
<line x1="376.03" y1="1100.40" x2="376.03" y2="1106.40" stroke="#333333" stroke-width="1.0" />
<line x1="380.41" y1="871.10" x2="380.41" y2="877.10" stroke="#333333" stroke-width="1.0" />
<line x1="380.41" y1="1100.40" x2="380.41" y2="1106.40" stroke="#333333" stroke-width="1.0" />
<line x1="384.79" y1="871.10" x2="384.79" y2="877.10" stroke="#333333" stroke-width="1.0" />
<line x1="384.79" y1="1100.40" x2="384.79" y2="1106.40" stroke="#333333" stroke-width="1.0" />
<line x1="389.17" y1="871.10" x2="389.17" y2="877.10" stroke="#333333" stroke-width="1.0" />
<line x1="389.17" y1="1100.40" x2="389.17" y2="1106.40" stroke="#333333" stroke-width="1.0" />
<line x1="393.55" y1="871.10" x2="393.55" y2="877.10" stroke="#333333" stroke-width="1.0" />
<line x1="393.55" y1="1100.40" x2="393.55" y2="1106.40" stroke="#333333" stroke-width="1.0" />
<line x1="397.93" y1="871.10" x2="397.93" y2="877.10" stroke="#333333" stroke-width="1.0" />
<line x1="397.93" y1="1100.40" x2="397.93" y2="1106.40" stroke="#333333" stroke-width="1.0" />
<line x1="402.31" y1="871.10" x2="402.31" y2="877.10" stroke="#333333" stroke-width="1.0" />
<line x1="402.31" y1="1100.40" x2="402.31" y2="1106.40" stroke="#333333" stroke-width="1.0" />
<line x1="406.69" y1="871.10" x2="406.69" y2="877.10" stroke="#333333" stroke-width="1.0" />
<line x1="406.69" y1="1100.40" x2="406.69" y2="1106.40" stroke="#333333" stroke-width="1.0" />
<line x1="411.07" y1="871.10" x2="411.07" y2="877.10" stroke="#333333" stroke-width="1.0" />
<line x1="411.07" y1="1100.40" x2="411.07" y2="1106.40" stroke="#333333" stroke-width="1.0" />
<line x1="415.45" y1="871.10" x2="415.45" y2="877.10" stroke="#333333" stroke-width="1.0" />
<line x1="415.45" y1="1100.40" x2="415.45" y2="1106.40" stroke="#333333" stroke-width="1.0" />
<line x1="419.83" y1="871.10" x2="419.83" y2="877.10" stroke="#333333" stroke-width="1.0" />
<line x1="419.83" y1="1100.40" x2="419.83" y2="1106.40" stroke="#333333" stroke-width="1.0" />
<line x1="424.22" y1="871.10" x2="424.22" y2="877.10" stroke="#333333" stroke-width="1.0" />
<line x1="424.22" y1="1100.40" x2="424.22" y2="1106.40" stroke="#333333" stroke-width="1.0" />
<line x1="428.60" y1="871.10" x2="428.60" y2="877.10" stroke="#333333" stroke-width="1.0" />
<line x1="428.60" y1="1100.40" x2="428.60" y2="1106.40" stroke="#333333" stroke-width="1.0" />
<line x1="432.98" y1="871.10" x2="432.98" y2="877.10" stroke="#333333" stroke-width="1.0" />
<line x1="432.98" y1="1100.40" x2="432.98" y2="1106.40" stroke="#333333" stroke-width="1.0" />
<line x1="437.36" y1="871.10" x2="437.36" y2="877.10" stroke="#333333" stroke-width="1.0" />
<line x1="437.36" y1="1100.40" x2="437.36" y2="1106.40" stroke="#333333" stroke-width="1.0" />
<line x1="441.74" y1="871.10" x2="441.74" y2="877.10" stroke="#333333" stroke-width="1.0" />
<line x1="441.74" y1="1100.40" x2="441.74" y2="1106.40" stroke="#333333" stroke-width="1.0" />
<line x1="446.12" y1="865.60" x2="446.12" y2="877.10" stroke="#333333" stroke-width="1.1" />
<line x1="446.12" y1="1100.40" x2="446.12" y2="1112.40" stroke="#333333" stroke-width="1.1" />
<line x1="450.50" y1="871.10" x2="450.50" y2="877.10" stroke="#333333" stroke-width="1.0" />
<line x1="450.50" y1="1100.40" x2="450.50" y2="1106.40" stroke="#333333" stroke-width="1.0" />
<line x1="454.88" y1="871.10" x2="454.88" y2="877.10" stroke="#333333" stroke-width="1.0" />
<line x1="454.88" y1="1100.40" x2="454.88" y2="1106.40" stroke="#333333" stroke-width="1.0" />
<line x1="459.26" y1="871.10" x2="459.26" y2="877.10" stroke="#333333" stroke-width="1.0" />
<line x1="459.26" y1="1100.40" x2="459.26" y2="1106.40" stroke="#333333" stroke-width="1.0" />
<line x1="463.64" y1="871.10" x2="463.64" y2="877.10" stroke="#333333" stroke-width="1.0" />
<line x1="463.64" y1="1100.40" x2="463.64" y2="1106.40" stroke="#333333" stroke-width="1.0" />
<line x1="468.02" y1="871.10" x2="468.02" y2="877.10" stroke="#333333" stroke-width="1.0" />
<line x1="468.02" y1="1100.40" x2="468.02" y2="1106.40" stroke="#333333" stroke-width="1.0" />
<line x1="472.40" y1="871.10" x2="472.40" y2="877.10" stroke="#333333" stroke-width="1.0" />
<line x1="472.40" y1="1100.40" x2="472.40" y2="1106.40" stroke="#333333" stroke-width="1.0" />
<line x1="476.79" y1="871.10" x2="476.79" y2="877.10" stroke="#333333" stroke-width="1.0" />
<line x1="476.79" y1="1100.40" x2="476.79" y2="1106.40" stroke="#333333" stroke-width="1.0" />
<line x1="481.17" y1="871.10" x2="481.17" y2="877.10" stroke="#333333" stroke-width="1.0" />
<line x1="481.17" y1="1100.40" x2="481.17" y2="1106.40" stroke="#333333" stroke-width="1.0" />
<line x1="485.55" y1="871.10" x2="485.55" y2="877.10" stroke="#333333" stroke-width="1.0" />
<line x1="485.55" y1="1100.40" x2="485.55" y2="1106.40" stroke="#333333" stroke-width="1.0" />
<line x1="489.93" y1="871.10" x2="489.93" y2="877.10" stroke="#333333" stroke-width="1.0" />
<line x1="489.93" y1="1100.40" x2="489.93" y2="1106.40" stroke="#333333" stroke-width="1.0" />
<line x1="494.31" y1="871.10" x2="494.31" y2="877.10" stroke="#333333" stroke-width="1.0" />
<line x1="494.31" y1="1100.40" x2="494.31" y2="1106.40" stroke="#333333" stroke-width="1.0" />
<line x1="498.69" y1="871.10" x2="498.69" y2="877.10" stroke="#333333" stroke-width="1.0" />
<line x1="498.69" y1="1100.40" x2="498.69" y2="1106.40" stroke="#333333" stroke-width="1.0" />
<line x1="503.07" y1="871.10" x2="503.07" y2="877.10" stroke="#333333" stroke-width="1.0" />
<line x1="503.07" y1="1100.40" x2="503.07" y2="1106.40" stroke="#333333" stroke-width="1.0" />
<line x1="507.45" y1="871.10" x2="507.45" y2="877.10" stroke="#333333" stroke-width="1.0" />
<line x1="507.45" y1="1100.40" x2="507.45" y2="1106.40" stroke="#333333" stroke-width="1.0" />
<line x1="511.83" y1="871.10" x2="511.83" y2="877.10" stroke="#333333" stroke-width="1.0" />
<line x1="511.83" y1="1100.40" x2="511.83" y2="1106.40" stroke="#333333" stroke-width="1.0" />
<line x1="516.21" y1="871.10" x2="516.21" y2="877.10" stroke="#333333" stroke-width="1.0" />
<line x1="516.21" y1="1100.40" x2="516.21" y2="1106.40" stroke="#333333" stroke-width="1.0" />
<line x1="520.59" y1="871.10" x2="520.59" y2="877.10" stroke="#333333" stroke-width="1.0" />
<line x1="520.59" y1="1100.40" x2="520.59" y2="1106.40" stroke="#333333" stroke-width="1.0" />
<line x1="524.97" y1="871.10" x2="524.97" y2="877.10" stroke="#333333" stroke-width="1.0" />
<line x1="524.97" y1="1100.40" x2="524.97" y2="1106.40" stroke="#333333" stroke-width="1.0" />
<line x1="529.36" y1="871.10" x2="529.36" y2="877.10" stroke="#333333" stroke-width="1.0" />
<line x1="529.36" y1="1100.40" x2="529.36" y2="1106.40" stroke="#333333" stroke-width="1.0" />
<line x1="533.74" y1="871.10" x2="533.74" y2="877.10" stroke="#333333" stroke-width="1.0" />
<line x1="533.74" y1="1100.40" x2="533.74" y2="1106.40" stroke="#333333" stroke-width="1.0" />
<line x1="538.12" y1="871.10" x2="538.12" y2="877.10" stroke="#333333" stroke-width="1.0" />
<line x1="538.12" y1="1100.40" x2="538.12" y2="1106.40" stroke="#333333" stroke-width="1.0" />
<line x1="542.50" y1="871.10" x2="542.50" y2="877.10" stroke="#333333" stroke-width="1.0" />
<line x1="542.50" y1="1100.40" x2="542.50" y2="1106.40" stroke="#333333" stroke-width="1.0" />
<line x1="546.88" y1="871.10" x2="546.88" y2="877.10" stroke="#333333" stroke-width="1.0" />
<line x1="546.88" y1="1100.40" x2="546.88" y2="1106.40" stroke="#333333" stroke-width="1.0" />
<line x1="551.26" y1="865.60" x2="551.26" y2="877.10" stroke="#333333" stroke-width="1.1" />
<line x1="551.26" y1="1100.40" x2="551.26" y2="1112.40" stroke="#333333" stroke-width="1.1" />
<line x1="555.64" y1="871.10" x2="555.64" y2="877.10" stroke="#333333" stroke-width="1.0" />
<line x1="555.64" y1="1100.40" x2="555.64" y2="1106.40" stroke="#333333" stroke-width="1.0" />
<line x1="560.02" y1="871.10" x2="560.02" y2="877.10" stroke="#333333" stroke-width="1.0" />
<line x1="560.02" y1="1100.40" x2="560.02" y2="1106.40" stroke="#333333" stroke-width="1.0" />
<line x1="564.40" y1="871.10" x2="564.40" y2="877.10" stroke="#333333" stroke-width="1.0" />
<line x1="564.40" y1="1100.40" x2="564.40" y2="1106.40" stroke="#333333" stroke-width="1.0" />
<line x1="568.78" y1="871.10" x2="568.78" y2="877.10" stroke="#333333" stroke-width="1.0" />
<line x1="568.78" y1="1100.40" x2="568.78" y2="1106.40" stroke="#333333" stroke-width="1.0" />
<line x1="573.16" y1="871.10" x2="573.16" y2="877.10" stroke="#333333" stroke-width="1.0" />
<line x1="573.16" y1="1100.40" x2="573.16" y2="1106.40" stroke="#333333" stroke-width="1.0" />
<line x1="577.54" y1="871.10" x2="577.54" y2="877.10" stroke="#333333" stroke-width="1.0" />
<line x1="577.54" y1="1100.40" x2="577.54" y2="1106.40" stroke="#333333" stroke-width="1.0" />
<line x1="581.93" y1="871.10" x2="581.93" y2="877.10" stroke="#333333" stroke-width="1.0" />
<line x1="581.93" y1="1100.40" x2="581.93" y2="1106.40" stroke="#333333" stroke-width="1.0" />
<line x1="586.31" y1="871.10" x2="586.31" y2="877.10" stroke="#333333" stroke-width="1.0" />
<line x1="586.31" y1="1100.40" x2="586.31" y2="1106.40" stroke="#333333" stroke-width="1.0" />
<line x1="590.69" y1="871.10" x2="590.69" y2="877.10" stroke="#333333" stroke-width="1.0" />
<line x1="590.69" y1="1100.40" x2="590.69" y2="1106.40" stroke="#333333" stroke-width="1.0" />
<line x1="595.07" y1="871.10" x2="595.07" y2="877.10" stroke="#333333" stroke-width="1.0" />
<line x1="595.07" y1="1100.40" x2="595.07" y2="1106.40" stroke="#333333" stroke-width="1.0" />
<line x1="599.45" y1="871.10" x2="599.45" y2="877.10" stroke="#333333" stroke-width="1.0" />
<line x1="599.45" y1="1100.40" x2="599.45" y2="1106.40" stroke="#333333" stroke-width="1.0" />
<line x1="603.83" y1="871.10" x2="603.83" y2="877.10" stroke="#333333" stroke-width="1.0" />
<line x1="603.83" y1="1100.40" x2="603.83" y2="1106.40" stroke="#333333" stroke-width="1.0" />
<line x1="608.21" y1="871.10" x2="608.21" y2="877.10" stroke="#333333" stroke-width="1.0" />
<line x1="608.21" y1="1100.40" x2="608.21" y2="1106.40" stroke="#333333" stroke-width="1.0" />
<line x1="612.59" y1="871.10" x2="612.59" y2="877.10" stroke="#333333" stroke-width="1.0" />
<line x1="612.59" y1="1100.40" x2="612.59" y2="1106.40" stroke="#333333" stroke-width="1.0" />
<line x1="616.97" y1="871.10" x2="616.97" y2="877.10" stroke="#333333" stroke-width="1.0" />
<line x1="616.97" y1="1100.40" x2="616.97" y2="1106.40" stroke="#333333" stroke-width="1.0" />
<line x1="621.35" y1="871.10" x2="621.35" y2="877.10" stroke="#333333" stroke-width="1.0" />
<line x1="621.35" y1="1100.40" x2="621.35" y2="1106.40" stroke="#333333" stroke-width="1.0" />
<line x1="625.73" y1="871.10" x2="625.73" y2="877.10" stroke="#333333" stroke-width="1.0" />
<line x1="625.73" y1="1100.40" x2="625.73" y2="1106.40" stroke="#333333" stroke-width="1.0" />
<line x1="630.12" y1="871.10" x2="630.12" y2="877.10" stroke="#333333" stroke-width="1.0" />
<line x1="630.12" y1="1100.40" x2="630.12" y2="1106.40" stroke="#333333" stroke-width="1.0" />
<line x1="634.50" y1="871.10" x2="634.50" y2="877.10" stroke="#333333" stroke-width="1.0" />
<line x1="634.50" y1="1100.40" x2="634.50" y2="1106.40" stroke="#333333" stroke-width="1.0" />
<line x1="638.88" y1="871.10" x2="638.88" y2="877.10" stroke="#333333" stroke-width="1.0" />
<line x1="638.88" y1="1100.40" x2="638.88" y2="1106.40" stroke="#333333" stroke-width="1.0" />
<line x1="643.26" y1="871.10" x2="643.26" y2="877.10" stroke="#333333" stroke-width="1.0" />
<line x1="643.26" y1="1100.40" x2="643.26" y2="1106.40" stroke="#333333" stroke-width="1.0" />
<line x1="647.64" y1="871.10" x2="647.64" y2="877.10" stroke="#333333" stroke-width="1.0" />
<line x1="647.64" y1="1100.40" x2="647.64" y2="1106.40" stroke="#333333" stroke-width="1.0" />
<line x1="652.02" y1="871.10" x2="652.02" y2="877.10" stroke="#333333" stroke-width="1.0" />
<line x1="652.02" y1="1100.40" x2="652.02" y2="1106.40" stroke="#333333" stroke-width="1.0" />
<line x1="656.40" y1="865.60" x2="656.40" y2="877.10" stroke="#333333" stroke-width="1.1" />
<line x1="656.40" y1="1100.40" x2="656.40" y2="1112.40" stroke="#333333" stroke-width="1.1" />
<line x1="660.78" y1="871.10" x2="660.78" y2="877.10" stroke="#333333" stroke-width="1.0" />
<line x1="660.78" y1="1100.40" x2="660.78" y2="1106.40" stroke="#333333" stroke-width="1.0" />
<line x1="665.16" y1="871.10" x2="665.16" y2="877.10" stroke="#333333" stroke-width="1.0" />
<line x1="665.16" y1="1100.40" x2="665.16" y2="1106.40" stroke="#333333" stroke-width="1.0" />
<line x1="669.54" y1="871.10" x2="669.54" y2="877.10" stroke="#333333" stroke-width="1.0" />
<line x1="669.54" y1="1100.40" x2="669.54" y2="1106.40" stroke="#333333" stroke-width="1.0" />
<line x1="673.92" y1="871.10" x2="673.92" y2="877.10" stroke="#333333" stroke-width="1.0" />
<line x1="673.92" y1="1100.40" x2="673.92" y2="1106.40" stroke="#333333" stroke-width="1.0" />
<line x1="678.30" y1="871.10" x2="678.30" y2="877.10" stroke="#333333" stroke-width="1.0" />
<line x1="678.30" y1="1100.40" x2="678.30" y2="1106.40" stroke="#333333" stroke-width="1.0" />
<line x1="682.68" y1="871.10" x2="682.68" y2="877.10" stroke="#333333" stroke-width="1.0" />
<line x1="682.68" y1="1100.40" x2="682.68" y2="1106.40" stroke="#333333" stroke-width="1.0" />
<line x1="687.07" y1="871.10" x2="687.07" y2="877.10" stroke="#333333" stroke-width="1.0" />
<line x1="687.07" y1="1100.40" x2="687.07" y2="1106.40" stroke="#333333" stroke-width="1.0" />
<line x1="691.45" y1="871.10" x2="691.45" y2="877.10" stroke="#333333" stroke-width="1.0" />
<line x1="691.45" y1="1100.40" x2="691.45" y2="1106.40" stroke="#333333" stroke-width="1.0" />
<line x1="695.83" y1="871.10" x2="695.83" y2="877.10" stroke="#333333" stroke-width="1.0" />
<line x1="695.83" y1="1100.40" x2="695.83" y2="1106.40" stroke="#333333" stroke-width="1.0" />
<line x1="700.21" y1="871.10" x2="700.21" y2="877.10" stroke="#333333" stroke-width="1.0" />
<line x1="700.21" y1="1100.40" x2="700.21" y2="1106.40" stroke="#333333" stroke-width="1.0" />
<line x1="704.59" y1="871.10" x2="704.59" y2="877.10" stroke="#333333" stroke-width="1.0" />
<line x1="704.59" y1="1100.40" x2="704.59" y2="1106.40" stroke="#333333" stroke-width="1.0" />
<line x1="708.97" y1="871.10" x2="708.97" y2="877.10" stroke="#333333" stroke-width="1.0" />
<line x1="708.97" y1="1100.40" x2="708.97" y2="1106.40" stroke="#333333" stroke-width="1.0" />
<line x1="713.35" y1="871.10" x2="713.35" y2="877.10" stroke="#333333" stroke-width="1.0" />
<line x1="713.35" y1="1100.40" x2="713.35" y2="1106.40" stroke="#333333" stroke-width="1.0" />
<line x1="717.73" y1="871.10" x2="717.73" y2="877.10" stroke="#333333" stroke-width="1.0" />
<line x1="717.73" y1="1100.40" x2="717.73" y2="1106.40" stroke="#333333" stroke-width="1.0" />
<line x1="722.11" y1="871.10" x2="722.11" y2="877.10" stroke="#333333" stroke-width="1.0" />
<line x1="722.11" y1="1100.40" x2="722.11" y2="1106.40" stroke="#333333" stroke-width="1.0" />
<line x1="726.49" y1="871.10" x2="726.49" y2="877.10" stroke="#333333" stroke-width="1.0" />
<line x1="726.49" y1="1100.40" x2="726.49" y2="1106.40" stroke="#333333" stroke-width="1.0" />
<line x1="730.87" y1="871.10" x2="730.87" y2="877.10" stroke="#333333" stroke-width="1.0" />
<line x1="730.87" y1="1100.40" x2="730.87" y2="1106.40" stroke="#333333" stroke-width="1.0" />
<line x1="735.25" y1="871.10" x2="735.25" y2="877.10" stroke="#333333" stroke-width="1.0" />
<line x1="735.25" y1="1100.40" x2="735.25" y2="1106.40" stroke="#333333" stroke-width="1.0" />
<line x1="739.64" y1="871.10" x2="739.64" y2="877.10" stroke="#333333" stroke-width="1.0" />
<line x1="739.64" y1="1100.40" x2="739.64" y2="1106.40" stroke="#333333" stroke-width="1.0" />
<line x1="744.02" y1="871.10" x2="744.02" y2="877.10" stroke="#333333" stroke-width="1.0" />
<line x1="744.02" y1="1100.40" x2="744.02" y2="1106.40" stroke="#333333" stroke-width="1.0" />
<line x1="748.40" y1="871.10" x2="748.40" y2="877.10" stroke="#333333" stroke-width="1.0" />
<line x1="748.40" y1="1100.40" x2="748.40" y2="1106.40" stroke="#333333" stroke-width="1.0" />
<line x1="752.78" y1="871.10" x2="752.78" y2="877.10" stroke="#333333" stroke-width="1.0" />
<line x1="752.78" y1="1100.40" x2="752.78" y2="1106.40" stroke="#333333" stroke-width="1.0" />
<line x1="757.16" y1="871.10" x2="757.16" y2="877.10" stroke="#333333" stroke-width="1.0" />
<line x1="757.16" y1="1100.40" x2="757.16" y2="1106.40" stroke="#333333" stroke-width="1.0" />
<line x1="761.54" y1="865.60" x2="761.54" y2="877.10" stroke="#333333" stroke-width="1.1" />
<line x1="761.54" y1="1100.40" x2="761.54" y2="1112.40" stroke="#333333" stroke-width="1.1" />
<line x1="765.92" y1="871.10" x2="765.92" y2="877.10" stroke="#333333" stroke-width="1.0" />
<line x1="765.92" y1="1100.40" x2="765.92" y2="1106.40" stroke="#333333" stroke-width="1.0" />
<line x1="770.30" y1="871.10" x2="770.30" y2="877.10" stroke="#333333" stroke-width="1.0" />
<line x1="770.30" y1="1100.40" x2="770.30" y2="1106.40" stroke="#333333" stroke-width="1.0" />
<line x1="774.68" y1="871.10" x2="774.68" y2="877.10" stroke="#333333" stroke-width="1.0" />
<line x1="774.68" y1="1100.40" x2="774.68" y2="1106.40" stroke="#333333" stroke-width="1.0" />
<line x1="779.06" y1="871.10" x2="779.06" y2="877.10" stroke="#333333" stroke-width="1.0" />
<line x1="779.06" y1="1100.40" x2="779.06" y2="1106.40" stroke="#333333" stroke-width="1.0" />
<line x1="783.44" y1="871.10" x2="783.44" y2="877.10" stroke="#333333" stroke-width="1.0" />
<line x1="783.44" y1="1100.40" x2="783.44" y2="1106.40" stroke="#333333" stroke-width="1.0" />
<line x1="787.82" y1="871.10" x2="787.82" y2="877.10" stroke="#333333" stroke-width="1.0" />
<line x1="787.82" y1="1100.40" x2="787.82" y2="1106.40" stroke="#333333" stroke-width="1.0" />
<line x1="792.21" y1="871.10" x2="792.21" y2="877.10" stroke="#333333" stroke-width="1.0" />
<line x1="792.21" y1="1100.40" x2="792.21" y2="1106.40" stroke="#333333" stroke-width="1.0" />
<line x1="796.59" y1="871.10" x2="796.59" y2="877.10" stroke="#333333" stroke-width="1.0" />
<line x1="796.59" y1="1100.40" x2="796.59" y2="1106.40" stroke="#333333" stroke-width="1.0" />
<line x1="800.97" y1="871.10" x2="800.97" y2="877.10" stroke="#333333" stroke-width="1.0" />
<line x1="800.97" y1="1100.40" x2="800.97" y2="1106.40" stroke="#333333" stroke-width="1.0" />
<line x1="805.35" y1="871.10" x2="805.35" y2="877.10" stroke="#333333" stroke-width="1.0" />
<line x1="805.35" y1="1100.40" x2="805.35" y2="1106.40" stroke="#333333" stroke-width="1.0" />
<line x1="809.73" y1="871.10" x2="809.73" y2="877.10" stroke="#333333" stroke-width="1.0" />
<line x1="809.73" y1="1100.40" x2="809.73" y2="1106.40" stroke="#333333" stroke-width="1.0" />
<line x1="814.11" y1="871.10" x2="814.11" y2="877.10" stroke="#333333" stroke-width="1.0" />
<line x1="814.11" y1="1100.40" x2="814.11" y2="1106.40" stroke="#333333" stroke-width="1.0" />
<line x1="818.49" y1="871.10" x2="818.49" y2="877.10" stroke="#333333" stroke-width="1.0" />
<line x1="818.49" y1="1100.40" x2="818.49" y2="1106.40" stroke="#333333" stroke-width="1.0" />
<line x1="822.87" y1="871.10" x2="822.87" y2="877.10" stroke="#333333" stroke-width="1.0" />
<line x1="822.87" y1="1100.40" x2="822.87" y2="1106.40" stroke="#333333" stroke-width="1.0" />
<line x1="827.25" y1="871.10" x2="827.25" y2="877.10" stroke="#333333" stroke-width="1.0" />
<line x1="827.25" y1="1100.40" x2="827.25" y2="1106.40" stroke="#333333" stroke-width="1.0" />
<line x1="831.63" y1="871.10" x2="831.63" y2="877.10" stroke="#333333" stroke-width="1.0" />
<line x1="831.63" y1="1100.40" x2="831.63" y2="1106.40" stroke="#333333" stroke-width="1.0" />
<line x1="836.01" y1="871.10" x2="836.01" y2="877.10" stroke="#333333" stroke-width="1.0" />
<line x1="836.01" y1="1100.40" x2="836.01" y2="1106.40" stroke="#333333" stroke-width="1.0" />
<line x1="840.39" y1="871.10" x2="840.39" y2="877.10" stroke="#333333" stroke-width="1.0" />
<line x1="840.39" y1="1100.40" x2="840.39" y2="1106.40" stroke="#333333" stroke-width="1.0" />
<line x1="844.78" y1="871.10" x2="844.78" y2="877.10" stroke="#333333" stroke-width="1.0" />
<line x1="844.78" y1="1100.40" x2="844.78" y2="1106.40" stroke="#333333" stroke-width="1.0" />
<line x1="849.16" y1="871.10" x2="849.16" y2="877.10" stroke="#333333" stroke-width="1.0" />
<line x1="849.16" y1="1100.40" x2="849.16" y2="1106.40" stroke="#333333" stroke-width="1.0" />
<line x1="853.54" y1="871.10" x2="853.54" y2="877.10" stroke="#333333" stroke-width="1.0" />
<line x1="853.54" y1="1100.40" x2="853.54" y2="1106.40" stroke="#333333" stroke-width="1.0" />
<line x1="857.92" y1="871.10" x2="857.92" y2="877.10" stroke="#333333" stroke-width="1.0" />
<line x1="857.92" y1="1100.40" x2="857.92" y2="1106.40" stroke="#333333" stroke-width="1.0" />
<line x1="862.30" y1="871.10" x2="862.30" y2="877.10" stroke="#333333" stroke-width="1.0" />
<line x1="862.30" y1="1100.40" x2="862.30" y2="1106.40" stroke="#333333" stroke-width="1.0" />
<line x1="866.68" y1="865.60" x2="866.68" y2="877.10" stroke="#333333" stroke-width="1.1" />
<line x1="866.68" y1="1100.40" x2="866.68" y2="1112.40" stroke="#333333" stroke-width="1.1" />
<line x1="871.06" y1="871.10" x2="871.06" y2="877.10" stroke="#333333" stroke-width="1.0" />
<line x1="871.06" y1="1100.40" x2="871.06" y2="1106.40" stroke="#333333" stroke-width="1.0" />
<line x1="875.44" y1="871.10" x2="875.44" y2="877.10" stroke="#333333" stroke-width="1.0" />
<line x1="875.44" y1="1100.40" x2="875.44" y2="1106.40" stroke="#333333" stroke-width="1.0" />
<line x1="879.82" y1="871.10" x2="879.82" y2="877.10" stroke="#333333" stroke-width="1.0" />
<line x1="879.82" y1="1100.40" x2="879.82" y2="1106.40" stroke="#333333" stroke-width="1.0" />
<line x1="884.20" y1="871.10" x2="884.20" y2="877.10" stroke="#333333" stroke-width="1.0" />
<line x1="884.20" y1="1100.40" x2="884.20" y2="1106.40" stroke="#333333" stroke-width="1.0" />
<line x1="888.58" y1="871.10" x2="888.58" y2="877.10" stroke="#333333" stroke-width="1.0" />
<line x1="888.58" y1="1100.40" x2="888.58" y2="1106.40" stroke="#333333" stroke-width="1.0" />
<line x1="892.96" y1="871.10" x2="892.96" y2="877.10" stroke="#333333" stroke-width="1.0" />
<line x1="892.96" y1="1100.40" x2="892.96" y2="1106.40" stroke="#333333" stroke-width="1.0" />
<line x1="897.35" y1="871.10" x2="897.35" y2="877.10" stroke="#333333" stroke-width="1.0" />
<line x1="897.35" y1="1100.40" x2="897.35" y2="1106.40" stroke="#333333" stroke-width="1.0" />
<line x1="901.73" y1="871.10" x2="901.73" y2="877.10" stroke="#333333" stroke-width="1.0" />
<line x1="901.73" y1="1100.40" x2="901.73" y2="1106.40" stroke="#333333" stroke-width="1.0" />
<line x1="906.11" y1="871.10" x2="906.11" y2="877.10" stroke="#333333" stroke-width="1.0" />
<line x1="906.11" y1="1100.40" x2="906.11" y2="1106.40" stroke="#333333" stroke-width="1.0" />
<line x1="910.49" y1="871.10" x2="910.49" y2="877.10" stroke="#333333" stroke-width="1.0" />
<line x1="910.49" y1="1100.40" x2="910.49" y2="1106.40" stroke="#333333" stroke-width="1.0" />
<line x1="914.87" y1="871.10" x2="914.87" y2="877.10" stroke="#333333" stroke-width="1.0" />
<line x1="914.87" y1="1100.40" x2="914.87" y2="1106.40" stroke="#333333" stroke-width="1.0" />
<line x1="919.25" y1="871.10" x2="919.25" y2="877.10" stroke="#333333" stroke-width="1.0" />
<line x1="919.25" y1="1100.40" x2="919.25" y2="1106.40" stroke="#333333" stroke-width="1.0" />
<line x1="923.63" y1="871.10" x2="923.63" y2="877.10" stroke="#333333" stroke-width="1.0" />
<line x1="923.63" y1="1100.40" x2="923.63" y2="1106.40" stroke="#333333" stroke-width="1.0" />
<line x1="928.01" y1="871.10" x2="928.01" y2="877.10" stroke="#333333" stroke-width="1.0" />
<line x1="928.01" y1="1100.40" x2="928.01" y2="1106.40" stroke="#333333" stroke-width="1.0" />
<line x1="932.39" y1="871.10" x2="932.39" y2="877.10" stroke="#333333" stroke-width="1.0" />
<line x1="932.39" y1="1100.40" x2="932.39" y2="1106.40" stroke="#333333" stroke-width="1.0" />
<line x1="936.77" y1="871.10" x2="936.77" y2="877.10" stroke="#333333" stroke-width="1.0" />
<line x1="936.77" y1="1100.40" x2="936.77" y2="1106.40" stroke="#333333" stroke-width="1.0" />
<line x1="941.15" y1="871.10" x2="941.15" y2="877.10" stroke="#333333" stroke-width="1.0" />
<line x1="941.15" y1="1100.40" x2="941.15" y2="1106.40" stroke="#333333" stroke-width="1.0" />
<line x1="945.53" y1="871.10" x2="945.53" y2="877.10" stroke="#333333" stroke-width="1.0" />
<line x1="945.53" y1="1100.40" x2="945.53" y2="1106.40" stroke="#333333" stroke-width="1.0" />
<line x1="949.92" y1="871.10" x2="949.92" y2="877.10" stroke="#333333" stroke-width="1.0" />
<line x1="949.92" y1="1100.40" x2="949.92" y2="1106.40" stroke="#333333" stroke-width="1.0" />
<line x1="954.30" y1="871.10" x2="954.30" y2="877.10" stroke="#333333" stroke-width="1.0" />
<line x1="954.30" y1="1100.40" x2="954.30" y2="1106.40" stroke="#333333" stroke-width="1.0" />
<line x1="958.68" y1="871.10" x2="958.68" y2="877.10" stroke="#333333" stroke-width="1.0" />
<line x1="958.68" y1="1100.40" x2="958.68" y2="1106.40" stroke="#333333" stroke-width="1.0" />
<line x1="963.06" y1="871.10" x2="963.06" y2="877.10" stroke="#333333" stroke-width="1.0" />
<line x1="963.06" y1="1100.40" x2="963.06" y2="1106.40" stroke="#333333" stroke-width="1.0" />
<line x1="967.44" y1="871.10" x2="967.44" y2="877.10" stroke="#333333" stroke-width="1.0" />
<line x1="967.44" y1="1100.40" x2="967.44" y2="1106.40" stroke="#333333" stroke-width="1.0" />
<line x1="971.82" y1="865.60" x2="971.82" y2="877.10" stroke="#333333" stroke-width="1.1" />
<line x1="971.82" y1="1100.40" x2="971.82" y2="1112.40" stroke="#333333" stroke-width="1.1" />
<line x1="976.20" y1="871.10" x2="976.20" y2="877.10" stroke="#333333" stroke-width="1.0" />
<line x1="976.20" y1="1100.40" x2="976.20" y2="1106.40" stroke="#333333" stroke-width="1.0" />
<line x1="980.58" y1="871.10" x2="980.58" y2="877.10" stroke="#333333" stroke-width="1.0" />
<line x1="980.58" y1="1100.40" x2="980.58" y2="1106.40" stroke="#333333" stroke-width="1.0" />
<line x1="984.96" y1="871.10" x2="984.96" y2="877.10" stroke="#333333" stroke-width="1.0" />
<line x1="984.96" y1="1100.40" x2="984.96" y2="1106.40" stroke="#333333" stroke-width="1.0" />
<line x1="989.34" y1="871.10" x2="989.34" y2="877.10" stroke="#333333" stroke-width="1.0" />
<line x1="989.34" y1="1100.40" x2="989.34" y2="1106.40" stroke="#333333" stroke-width="1.0" />
<line x1="993.72" y1="871.10" x2="993.72" y2="877.10" stroke="#333333" stroke-width="1.0" />
<line x1="993.72" y1="1100.40" x2="993.72" y2="1106.40" stroke="#333333" stroke-width="1.0" />
<line x1="998.10" y1="871.10" x2="998.10" y2="877.10" stroke="#333333" stroke-width="1.0" />
<line x1="998.10" y1="1100.40" x2="998.10" y2="1106.40" stroke="#333333" stroke-width="1.0" />
<line x1="1002.49" y1="871.10" x2="1002.49" y2="877.10" stroke="#333333" stroke-width="1.0" />
<line x1="1002.49" y1="1100.40" x2="1002.49" y2="1106.40" stroke="#333333" stroke-width="1.0" />
<line x1="1006.87" y1="871.10" x2="1006.87" y2="877.10" stroke="#333333" stroke-width="1.0" />
<line x1="1006.87" y1="1100.40" x2="1006.87" y2="1106.40" stroke="#333333" stroke-width="1.0" />
<line x1="1011.25" y1="871.10" x2="1011.25" y2="877.10" stroke="#333333" stroke-width="1.0" />
<line x1="1011.25" y1="1100.40" x2="1011.25" y2="1106.40" stroke="#333333" stroke-width="1.0" />
<line x1="1015.63" y1="871.10" x2="1015.63" y2="877.10" stroke="#333333" stroke-width="1.0" />
<line x1="1015.63" y1="1100.40" x2="1015.63" y2="1106.40" stroke="#333333" stroke-width="1.0" />
<line x1="1020.01" y1="871.10" x2="1020.01" y2="877.10" stroke="#333333" stroke-width="1.0" />
<line x1="1020.01" y1="1100.40" x2="1020.01" y2="1106.40" stroke="#333333" stroke-width="1.0" />
<line x1="1024.39" y1="871.10" x2="1024.39" y2="877.10" stroke="#333333" stroke-width="1.0" />
<line x1="1024.39" y1="1100.40" x2="1024.39" y2="1106.40" stroke="#333333" stroke-width="1.0" />
<line x1="1028.77" y1="871.10" x2="1028.77" y2="877.10" stroke="#333333" stroke-width="1.0" />
<line x1="1028.77" y1="1100.40" x2="1028.77" y2="1106.40" stroke="#333333" stroke-width="1.0" />
<line x1="1033.15" y1="871.10" x2="1033.15" y2="877.10" stroke="#333333" stroke-width="1.0" />
<line x1="1033.15" y1="1100.40" x2="1033.15" y2="1106.40" stroke="#333333" stroke-width="1.0" />
<line x1="1037.53" y1="871.10" x2="1037.53" y2="877.10" stroke="#333333" stroke-width="1.0" />
<line x1="1037.53" y1="1100.40" x2="1037.53" y2="1106.40" stroke="#333333" stroke-width="1.0" />
<line x1="1041.91" y1="871.10" x2="1041.91" y2="877.10" stroke="#333333" stroke-width="1.0" />
<line x1="1041.91" y1="1100.40" x2="1041.91" y2="1106.40" stroke="#333333" stroke-width="1.0" />
<line x1="1046.29" y1="871.10" x2="1046.29" y2="877.10" stroke="#333333" stroke-width="1.0" />
<line x1="1046.29" y1="1100.40" x2="1046.29" y2="1106.40" stroke="#333333" stroke-width="1.0" />
<line x1="1050.67" y1="871.10" x2="1050.67" y2="877.10" stroke="#333333" stroke-width="1.0" />
<line x1="1050.67" y1="1100.40" x2="1050.67" y2="1106.40" stroke="#333333" stroke-width="1.0" />
<line x1="1055.06" y1="871.10" x2="1055.06" y2="877.10" stroke="#333333" stroke-width="1.0" />
<line x1="1055.06" y1="1100.40" x2="1055.06" y2="1106.40" stroke="#333333" stroke-width="1.0" />
<line x1="1059.44" y1="871.10" x2="1059.44" y2="877.10" stroke="#333333" stroke-width="1.0" />
<line x1="1059.44" y1="1100.40" x2="1059.44" y2="1106.40" stroke="#333333" stroke-width="1.0" />
<line x1="1063.82" y1="871.10" x2="1063.82" y2="877.10" stroke="#333333" stroke-width="1.0" />
<line x1="1063.82" y1="1100.40" x2="1063.82" y2="1106.40" stroke="#333333" stroke-width="1.0" />
<line x1="1068.20" y1="871.10" x2="1068.20" y2="877.10" stroke="#333333" stroke-width="1.0" />
<line x1="1068.20" y1="1100.40" x2="1068.20" y2="1106.40" stroke="#333333" stroke-width="1.0" />
<line x1="1072.58" y1="871.10" x2="1072.58" y2="877.10" stroke="#333333" stroke-width="1.0" />
<line x1="1072.58" y1="1100.40" x2="1072.58" y2="1106.40" stroke="#333333" stroke-width="1.0" />
<line x1="1076.96" y1="865.60" x2="1076.96" y2="877.10" stroke="#333333" stroke-width="1.1" />
<line x1="1076.96" y1="1100.40" x2="1076.96" y2="1112.40" stroke="#333333" stroke-width="1.1" />
<line x1="1081.34" y1="871.10" x2="1081.34" y2="877.10" stroke="#333333" stroke-width="1.0" />
<line x1="1081.34" y1="1100.40" x2="1081.34" y2="1106.40" stroke="#333333" stroke-width="1.0" />
<line x1="1085.72" y1="871.10" x2="1085.72" y2="877.10" stroke="#333333" stroke-width="1.0" />
<line x1="1085.72" y1="1100.40" x2="1085.72" y2="1106.40" stroke="#333333" stroke-width="1.0" />
<line x1="1090.10" y1="871.10" x2="1090.10" y2="877.10" stroke="#333333" stroke-width="1.0" />
<line x1="1090.10" y1="1100.40" x2="1090.10" y2="1106.40" stroke="#333333" stroke-width="1.0" />
<line x1="1094.48" y1="871.10" x2="1094.48" y2="877.10" stroke="#333333" stroke-width="1.0" />
<line x1="1094.48" y1="1100.40" x2="1094.48" y2="1106.40" stroke="#333333" stroke-width="1.0" />
<line x1="1098.86" y1="871.10" x2="1098.86" y2="877.10" stroke="#333333" stroke-width="1.0" />
<line x1="1098.86" y1="1100.40" x2="1098.86" y2="1106.40" stroke="#333333" stroke-width="1.0" />
<line x1="1103.24" y1="871.10" x2="1103.24" y2="877.10" stroke="#333333" stroke-width="1.0" />
<line x1="1103.24" y1="1100.40" x2="1103.24" y2="1106.40" stroke="#333333" stroke-width="1.0" />
<line x1="1107.63" y1="871.10" x2="1107.63" y2="877.10" stroke="#333333" stroke-width="1.0" />
<line x1="1107.63" y1="1100.40" x2="1107.63" y2="1106.40" stroke="#333333" stroke-width="1.0" />
<line x1="1112.01" y1="871.10" x2="1112.01" y2="877.10" stroke="#333333" stroke-width="1.0" />
<line x1="1112.01" y1="1100.40" x2="1112.01" y2="1106.40" stroke="#333333" stroke-width="1.0" />
<line x1="1116.39" y1="871.10" x2="1116.39" y2="877.10" stroke="#333333" stroke-width="1.0" />
<line x1="1116.39" y1="1100.40" x2="1116.39" y2="1106.40" stroke="#333333" stroke-width="1.0" />
<line x1="1120.77" y1="871.10" x2="1120.77" y2="877.10" stroke="#333333" stroke-width="1.0" />
<line x1="1120.77" y1="1100.40" x2="1120.77" y2="1106.40" stroke="#333333" stroke-width="1.0" />
<line x1="1125.15" y1="871.10" x2="1125.15" y2="877.10" stroke="#333333" stroke-width="1.0" />
<line x1="1125.15" y1="1100.40" x2="1125.15" y2="1106.40" stroke="#333333" stroke-width="1.0" />
<line x1="1129.53" y1="871.10" x2="1129.53" y2="877.10" stroke="#333333" stroke-width="1.0" />
<line x1="1129.53" y1="1100.40" x2="1129.53" y2="1106.40" stroke="#333333" stroke-width="1.0" />
<line x1="1133.91" y1="871.10" x2="1133.91" y2="877.10" stroke="#333333" stroke-width="1.0" />
<line x1="1133.91" y1="1100.40" x2="1133.91" y2="1106.40" stroke="#333333" stroke-width="1.0" />
<line x1="1138.29" y1="871.10" x2="1138.29" y2="877.10" stroke="#333333" stroke-width="1.0" />
<line x1="1138.29" y1="1100.40" x2="1138.29" y2="1106.40" stroke="#333333" stroke-width="1.0" />
<line x1="1142.67" y1="871.10" x2="1142.67" y2="877.10" stroke="#333333" stroke-width="1.0" />
<line x1="1142.67" y1="1100.40" x2="1142.67" y2="1106.40" stroke="#333333" stroke-width="1.0" />
<line x1="1147.05" y1="871.10" x2="1147.05" y2="877.10" stroke="#333333" stroke-width="1.0" />
<line x1="1147.05" y1="1100.40" x2="1147.05" y2="1106.40" stroke="#333333" stroke-width="1.0" />
<line x1="1151.43" y1="871.10" x2="1151.43" y2="877.10" stroke="#333333" stroke-width="1.0" />
<line x1="1151.43" y1="1100.40" x2="1151.43" y2="1106.40" stroke="#333333" stroke-width="1.0" />
<line x1="1155.82" y1="871.10" x2="1155.82" y2="877.10" stroke="#333333" stroke-width="1.0" />
<line x1="1155.82" y1="1100.40" x2="1155.82" y2="1106.40" stroke="#333333" stroke-width="1.0" />
<line x1="1160.20" y1="871.10" x2="1160.20" y2="877.10" stroke="#333333" stroke-width="1.0" />
<line x1="1160.20" y1="1100.40" x2="1160.20" y2="1106.40" stroke="#333333" stroke-width="1.0" />
<line x1="1164.58" y1="871.10" x2="1164.58" y2="877.10" stroke="#333333" stroke-width="1.0" />
<line x1="1164.58" y1="1100.40" x2="1164.58" y2="1106.40" stroke="#333333" stroke-width="1.0" />
<line x1="1168.96" y1="871.10" x2="1168.96" y2="877.10" stroke="#333333" stroke-width="1.0" />
<line x1="1168.96" y1="1100.40" x2="1168.96" y2="1106.40" stroke="#333333" stroke-width="1.0" />
<line x1="1173.34" y1="871.10" x2="1173.34" y2="877.10" stroke="#333333" stroke-width="1.0" />
<line x1="1173.34" y1="1100.40" x2="1173.34" y2="1106.40" stroke="#333333" stroke-width="1.0" />
<line x1="1177.72" y1="871.10" x2="1177.72" y2="877.10" stroke="#333333" stroke-width="1.0" />
<line x1="1177.72" y1="1100.40" x2="1177.72" y2="1106.40" stroke="#333333" stroke-width="1.0" />
<line x1="235.84" y1="877.10" x2="235.84" y2="1100.40" stroke="#333" stroke-width="1.1" stroke-dasharray="2.8 4.5"/>
<line x1="340.98" y1="877.10" x2="340.98" y2="1100.40" stroke="#333" stroke-width="1.1" stroke-dasharray="2.8 4.5"/>
<line x1="446.12" y1="877.10" x2="446.12" y2="1100.40" stroke="#333" stroke-width="1.1" stroke-dasharray="2.8 4.5"/>
<line x1="551.26" y1="877.10" x2="551.26" y2="1100.40" stroke="#333" stroke-width="1.1" stroke-dasharray="2.8 4.5"/>
<line x1="656.40" y1="877.10" x2="656.40" y2="1100.40" stroke="#333" stroke-width="1.1" stroke-dasharray="2.8 4.5"/>
<line x1="761.54" y1="877.10" x2="761.54" y2="1100.40" stroke="#333" stroke-width="1.1" stroke-dasharray="2.8 4.5"/>
<line x1="866.68" y1="877.10" x2="866.68" y2="1100.40" stroke="#333" stroke-width="1.1" stroke-dasharray="2.8 4.5"/>
<line x1="971.82" y1="877.10" x2="971.82" y2="1100.40" stroke="#333" stroke-width="1.1" stroke-dasharray="2.8 4.5"/>
<line x1="1076.96" y1="877.10" x2="1076.96" y2="1100.40" stroke="#333" stroke-width="1.1" stroke-dasharray="2.8 4.5"/>
<line x1="1182.10" y1="877.10" x2="1182.10" y2="1100.40" stroke="#333" stroke-width="1.1" stroke-dasharray="2.8 4.5"/>
<line x1="119.00" y1="1075.59" x2="130.70" y2="1075.59" stroke="#4a4a4a" stroke-width="1.2" />
<line x1="1182.10" y1="1075.59" x2="1194.00" y2="1075.59" stroke="#4a4a4a" stroke-width="1.2" />
<line x1="119.00" y1="1025.97" x2="130.70" y2="1025.97" stroke="#4a4a4a" stroke-width="1.2" />
<line x1="1182.10" y1="1025.97" x2="1194.00" y2="1025.97" stroke="#4a4a4a" stroke-width="1.2" />
<line x1="119.00" y1="976.34" x2="130.70" y2="976.34" stroke="#4a4a4a" stroke-width="1.2" />
<line x1="1182.10" y1="976.34" x2="1194.00" y2="976.34" stroke="#4a4a4a" stroke-width="1.2" />
<line x1="119.00" y1="926.72" x2="130.70" y2="926.72" stroke="#4a4a4a" stroke-width="1.2" />
<line x1="1182.10" y1="926.72" x2="1194.00" y2="926.72" stroke="#4a4a4a" stroke-width="1.2" />
<line x1="119.00" y1="1050.78" x2="130.70" y2="1050.78" stroke="#4a4a4a" stroke-width="1.2" />
<line x1="1182.10" y1="1050.78" x2="1194.00" y2="1050.78" stroke="#4a4a4a" stroke-width="1.2" />
<line x1="119.00" y1="1001.16" x2="130.70" y2="1001.16" stroke="#4a4a4a" stroke-width="1.2" />
<line x1="1182.10" y1="1001.16" x2="1194.00" y2="1001.16" stroke="#4a4a4a" stroke-width="1.2" />
<line x1="119.00" y1="951.53" x2="130.70" y2="951.53" stroke="#4a4a4a" stroke-width="1.2" />
<line x1="1182.10" y1="951.53" x2="1194.00" y2="951.53" stroke="#4a4a4a" stroke-width="1.2" />
<line x1="119.00" y1="901.91" x2="130.70" y2="901.91" stroke="#4a4a4a" stroke-width="1.2" />
<line x1="1182.10" y1="901.91" x2="1194.00" y2="901.91" stroke="#4a4a4a" stroke-width="1.2" />
<text transform="translate(65.70,1107.40) scale(1.1862,1)" font-size="21" fill="#000" letter-spacing="0.000">0.00</text>
<text transform="translate(65.70,1057.78) scale(1.1862,1)" font-size="21" fill="#000" letter-spacing="0.000">0.20</text>
<text transform="translate(65.70,1008.16) scale(1.1862,1)" font-size="21" fill="#000" letter-spacing="0.000">0.40</text>
<text transform="translate(65.70,958.53) scale(1.1862,1)" font-size="21" fill="#000" letter-spacing="0.000">0.60</text>
<text transform="translate(65.70,908.91) scale(1.1862,1)" font-size="21" fill="#000" letter-spacing="0.000">0.80</text>
<text transform="translate(121.79,1125.90) scale(1.1728,1)" font-size="15.2" fill="#000" stroke="#000" stroke-width="0.3" letter-spacing="0.000">00</text>
<text transform="translate(148.08,1125.90) scale(1.1602,1)" font-size="15.2" fill="#000" stroke="#000" stroke-width="0.3" letter-spacing="0.000">06</text>
<text transform="translate(173.35,1125.90) scale(1.2546,1)" font-size="15.2" fill="#000" stroke="#000" stroke-width="0.3" letter-spacing="0.000">12</text>
<text transform="translate(199.66,1125.90) scale(1.2402,1)" font-size="15.2" fill="#000" stroke="#000" stroke-width="0.3" letter-spacing="0.000">18</text>
<text transform="translate(226.93,1125.90) scale(1.1728,1)" font-size="15.2" fill="#000" stroke="#000" stroke-width="0.3" letter-spacing="0.000">00</text>
<text transform="translate(253.22,1125.90) scale(1.1602,1)" font-size="15.2" fill="#000" stroke="#000" stroke-width="0.3" letter-spacing="0.000">06</text>
<text transform="translate(278.49,1125.90) scale(1.2546,1)" font-size="15.2" fill="#000" stroke="#000" stroke-width="0.3" letter-spacing="0.000">12</text>
<text transform="translate(304.80,1125.90) scale(1.2402,1)" font-size="15.2" fill="#000" stroke="#000" stroke-width="0.3" letter-spacing="0.000">18</text>
<text transform="translate(332.07,1125.90) scale(1.1728,1)" font-size="15.2" fill="#000" stroke="#000" stroke-width="0.3" letter-spacing="0.000">00</text>
<text transform="translate(358.36,1125.90) scale(1.1602,1)" font-size="15.2" fill="#000" stroke="#000" stroke-width="0.3" letter-spacing="0.000">06</text>
<text transform="translate(383.63,1125.90) scale(1.2546,1)" font-size="15.2" fill="#000" stroke="#000" stroke-width="0.3" letter-spacing="0.000">12</text>
<text transform="translate(409.94,1125.90) scale(1.2402,1)" font-size="15.2" fill="#000" stroke="#000" stroke-width="0.3" letter-spacing="0.000">18</text>
<text transform="translate(437.21,1125.90) scale(1.1728,1)" font-size="15.2" fill="#000" stroke="#000" stroke-width="0.3" letter-spacing="0.000">00</text>
<text transform="translate(463.50,1125.90) scale(1.1602,1)" font-size="15.2" fill="#000" stroke="#000" stroke-width="0.3" letter-spacing="0.000">06</text>
<text transform="translate(488.77,1125.90) scale(1.2546,1)" font-size="15.2" fill="#000" stroke="#000" stroke-width="0.3" letter-spacing="0.000">12</text>
<text transform="translate(515.08,1125.90) scale(1.2402,1)" font-size="15.2" fill="#000" stroke="#000" stroke-width="0.3" letter-spacing="0.000">18</text>
<text transform="translate(542.35,1125.90) scale(1.1728,1)" font-size="15.2" fill="#000" stroke="#000" stroke-width="0.3" letter-spacing="0.000">00</text>
<text transform="translate(568.64,1125.90) scale(1.1602,1)" font-size="15.2" fill="#000" stroke="#000" stroke-width="0.3" letter-spacing="0.000">06</text>
<text transform="translate(593.91,1125.90) scale(1.2546,1)" font-size="15.2" fill="#000" stroke="#000" stroke-width="0.3" letter-spacing="0.000">12</text>
<text transform="translate(620.22,1125.90) scale(1.2402,1)" font-size="15.2" fill="#000" stroke="#000" stroke-width="0.3" letter-spacing="0.000">18</text>
<text transform="translate(647.49,1125.90) scale(1.1728,1)" font-size="15.2" fill="#000" stroke="#000" stroke-width="0.3" letter-spacing="0.000">00</text>
<text transform="translate(673.78,1125.90) scale(1.1602,1)" font-size="15.2" fill="#000" stroke="#000" stroke-width="0.3" letter-spacing="0.000">06</text>
<text transform="translate(699.05,1125.90) scale(1.2546,1)" font-size="15.2" fill="#000" stroke="#000" stroke-width="0.3" letter-spacing="0.000">12</text>
<text transform="translate(725.36,1125.90) scale(1.2402,1)" font-size="15.2" fill="#000" stroke="#000" stroke-width="0.3" letter-spacing="0.000">18</text>
<text transform="translate(752.63,1125.90) scale(1.1728,1)" font-size="15.2" fill="#000" stroke="#000" stroke-width="0.3" letter-spacing="0.000">00</text>
<text transform="translate(778.92,1125.90) scale(1.1602,1)" font-size="15.2" fill="#000" stroke="#000" stroke-width="0.3" letter-spacing="0.000">06</text>
<text transform="translate(804.19,1125.90) scale(1.2546,1)" font-size="15.2" fill="#000" stroke="#000" stroke-width="0.3" letter-spacing="0.000">12</text>
<text transform="translate(830.50,1125.90) scale(1.2402,1)" font-size="15.2" fill="#000" stroke="#000" stroke-width="0.3" letter-spacing="0.000">18</text>
<text transform="translate(857.77,1125.90) scale(1.1728,1)" font-size="15.2" fill="#000" stroke="#000" stroke-width="0.3" letter-spacing="0.000">00</text>
<text transform="translate(884.06,1125.90) scale(1.1602,1)" font-size="15.2" fill="#000" stroke="#000" stroke-width="0.3" letter-spacing="0.000">06</text>
<text transform="translate(909.33,1125.90) scale(1.2546,1)" font-size="15.2" fill="#000" stroke="#000" stroke-width="0.3" letter-spacing="0.000">12</text>
<text transform="translate(935.64,1125.90) scale(1.2402,1)" font-size="15.2" fill="#000" stroke="#000" stroke-width="0.3" letter-spacing="0.000">18</text>
<text transform="translate(962.91,1125.90) scale(1.1728,1)" font-size="15.2" fill="#000" stroke="#000" stroke-width="0.3" letter-spacing="0.000">00</text>
<text transform="translate(989.20,1125.90) scale(1.1602,1)" font-size="15.2" fill="#000" stroke="#000" stroke-width="0.3" letter-spacing="0.000">06</text>
<text transform="translate(1014.47,1125.90) scale(1.2546,1)" font-size="15.2" fill="#000" stroke="#000" stroke-width="0.3" letter-spacing="0.000">12</text>
<text transform="translate(1040.78,1125.90) scale(1.2402,1)" font-size="15.2" fill="#000" stroke="#000" stroke-width="0.3" letter-spacing="0.000">18</text>
<text transform="translate(1068.05,1125.90) scale(1.1728,1)" font-size="15.2" fill="#000" stroke="#000" stroke-width="0.3" letter-spacing="0.000">00</text>
<text transform="translate(1094.34,1125.90) scale(1.1602,1)" font-size="15.2" fill="#000" stroke="#000" stroke-width="0.3" letter-spacing="0.000">06</text>
<text transform="translate(1119.61,1125.90) scale(1.2546,1)" font-size="15.2" fill="#000" stroke="#000" stroke-width="0.3" letter-spacing="0.000">12</text>
<text transform="translate(1145.92,1125.90) scale(1.2402,1)" font-size="15.2" fill="#000" stroke="#000" stroke-width="0.3" letter-spacing="0.000">18</text>
<text transform="translate(1173.19,1125.90) scale(1.1728,1)" font-size="15.2" fill="#000" stroke="#000" stroke-width="0.3" letter-spacing="0.000">00</text>
<text transform="translate(143.48,1149.50) scale(0.9472,1)" font-size="22" fill="#000" letter-spacing="0.000">JAN</text>
<text transform="translate(193.30,1149.50) scale(1.1788,1)" font-size="22" fill="#000" letter-spacing="0.000">30</text>
<text transform="translate(245.78,1149.50) scale(0.9523,1)" font-size="22" fill="#000" letter-spacing="0.000">JAN</text>
<text transform="translate(297.01,1149.50) scale(1.0827,1)" font-size="22" fill="#000" letter-spacing="0.000">31</text>
<text transform="translate(351.62,1149.50) scale(1.0253,1)" font-size="22" fill="#000" letter-spacing="0.000">FEB</text>
<text transform="translate(413.16,1149.50) scale(1.2338,1)" font-size="22" fill="#000" letter-spacing="0.000">1</text>
<text transform="translate(456.69,1149.50) scale(1.0253,1)" font-size="22" fill="#000" letter-spacing="0.000">FEB</text>
<text transform="translate(520.07,1149.50) scale(1.1752,1)" font-size="22" fill="#000" letter-spacing="0.000">2</text>
<text transform="translate(561.76,1149.50) scale(1.0253,1)" font-size="22" fill="#000" letter-spacing="0.000">FEB</text>
<text transform="translate(624.81,1149.50) scale(1.1752,1)" font-size="22" fill="#000" letter-spacing="0.000">3</text>
<text transform="translate(666.83,1149.50) scale(1.0253,1)" font-size="22" fill="#000" letter-spacing="0.000">FEB</text>
<text transform="translate(730.64,1149.50) scale(1.0474,1)" font-size="22" fill="#000" letter-spacing="0.000">4</text>
<text transform="translate(771.90,1149.50) scale(1.0253,1)" font-size="22" fill="#000" letter-spacing="0.000">FEB</text>
<text transform="translate(834.51,1149.50) scale(1.2045,1)" font-size="22" fill="#000" letter-spacing="0.000">5</text>
<text transform="translate(876.97,1149.50) scale(1.0253,1)" font-size="22" fill="#000" letter-spacing="0.000">FEB</text>
<text transform="translate(940.11,1149.50) scale(1.1205,1)" font-size="22" fill="#000" letter-spacing="0.000">6</text>
<text transform="translate(982.04,1149.50) scale(1.0253,1)" font-size="22" fill="#000" letter-spacing="0.000">FEB</text>
<text transform="translate(1044.25,1149.50) scale(1.2045,1)" font-size="22" fill="#000" letter-spacing="0.000">7</text>
<text transform="translate(1087.11,1149.50) scale(1.0253,1)" font-size="22" fill="#000" letter-spacing="0.000">FEB</text>
<text transform="translate(1150.09,1149.50) scale(1.1472,1)" font-size="22" fill="#000" letter-spacing="0.000">8</text>
<polyline points="132.8,1100.3 182.7,1099.9 188.3,1097.7 193.8,1095.4 198.3,1098.1 202.7,1099.2 209.3,1099.9 218.2,1098.3 224.9,1097.0 229.3,1098.3 233.7,1097.7 238.2,1096.6 242.6,1098.1 249.3,1099.9 267.0,1099.9 273.7,1099.2 278.2,1100.3 291.5,1100.1 298.1,1099.7 302.6,1100.3 380.2,1100.3 388.9,1101.0 606.4,1101.0 608.6,1098.3 615.3,1097.4 621.9,1098.3 626.3,1097.4 633.0,1097.9 646.3,1100.1 650.7,1101.0 863.8,1101.0 868.3,1099.2 880.0,1097.7 887.9,1099.6 901.0,1099.9 912.9,1099.9 916.8,1075.1 921.3,1027.3 926.0,1038.3 930.5,1057.3 934.7,1042.2 939.2,1045.7 943.9,1038.3 948.4,1035.7 952.3,992.3 956.8,1088.3 964.2,1096.2 972.0,1098.3 977.3,1096.2 982.6,1083.0 986.5,1043.6 991.0,1027.3 995.7,881.0 999.6,972.6 1003.6,1017.3 1005.7,1038.3 1008.9,1037.5 1012.8,1064.6 1017.3,1089.6 1022.0,1065.9 1026.5,973.9 1031.2,1097.5 1035.2,1060.7 1040.4,1080.4 1045.7,1094.8 1049.6,1097.5 1053.6,1093.5 1057.5,1092.2 1061.5,1100.4 1085.1,1100.4 1093.0,1098.8 1098.3,1088.3 1100.9,1081.2 1104.9,1082.5 1108.8,1094.8 1114.1,1098.3 1122.0,1098.8 1128.5,1096.2 1136.4,1092.2 1144.3,1083.0 1149.6,1084.3 1154.0,1086.2 1158.8,1098.3 1162.7,1100.4 1179.8,1100.4" fill="none" stroke="#138a13" stroke-width="1.0" stroke-linejoin="round" clip-path="url(#c3)"/>
<polyline points="132.8,1100.3 169.4,1099.9 172.7,1097.7 177.1,1092.1 181.6,1081.5 186.0,1074.4 189.8,1063.3 193.8,1072.1 198.3,1085.5 202.7,1096.6 207.1,1100.3 213.8,1099.9 222.7,1098.3 228.2,1097.7 231.5,1089.9 233.7,1085.5 238.2,1085.0 240.4,1089.9 242.6,1097.7 247.1,1099.4 253.7,1099.2 260.4,1098.3 264.8,1096.6 269.3,1094.8 273.7,1096.1 278.2,1098.8 282.6,1100.3 380.2,1100.3 388.9,1101.0 393.3,1100.1 400.0,1095.7 406.6,1093.9 413.3,1095.2 422.2,1100.5 426.6,1101.0 455.5,1101.0 459.9,1100.1 464.3,1099.7 468.8,1100.1 473.2,1101.0 575.3,1101.0 577.5,1099.7 582.0,1099.2 586.4,1100.1 588.6,1101.0 697.4,1101.0 699.6,1099.7 704.0,1099.2 708.5,1101.0 880.0,1100.4 914.2,1100.4 920.8,1098.0 924.7,1100.4 1022.0,1100.4 1032.5,1099.3 1040.4,1092.2 1048.3,1087.7 1054.9,1089.6 1058.8,1093.5 1061.5,1100.4 1090.4,1100.4 1097.0,1096.2 1103.0,1093.5 1108.8,1096.2 1114.1,1100.4 1127.2,1100.4 1136.4,1094.8 1144.3,1082.5 1153.5,1090.9 1158.8,1097.7 1162.7,1100.4 1179.8,1100.4" fill="none" stroke="#1414ff" stroke-width="1.0" stroke-linejoin="round" clip-path="url(#c3)"/>
<polyline points="132.8,1100.3 169.4,1099.9 176.0,1098.8 182.7,1095.4 189.4,1090.4 194.9,1086.6 200.4,1085.0 209.3,1084.6 218.2,1083.7 227.1,1082.6 231.5,1081.0 236.0,1078.8 240.4,1078.1 249.3,1077.5 258.2,1077.0 267.0,1076.1 273.7,1075.7 284.8,1075.7 298.1,1075.5 324.7,1075.5 380.0,1075.7 395.5,1075.2 415.5,1072.6 446.6,1072.1 477.7,1071.7 548.7,1071.7 601.9,1071.7 619.7,1070.4 646.3,1069.0 690.7,1069.0 779.5,1069.0 859.4,1068.6 880.0,1069.1 890.5,1068.5 901.0,1068.0 912.9,1067.8 918.1,1062.0 923.4,1054.1 930.0,1047.5 936.6,1038.3 943.1,1029.1 948.4,1021.2 952.3,1012.5 958.9,1010.7 966.8,1009.9 974.7,1009.4 981.2,1007.3 986.5,1001.5 991.8,993.6 995.7,972.6 1001.0,960.7 1008.9,949.7 1014.1,946.8 1018.1,945.7 1022.0,942.3 1026.0,929.9 1029.9,929.2 1035.2,925.2 1040.4,922.1 1048.3,919.5 1057.5,916.0 1069.3,916.0 1079.9,915.8 1090.4,915.2 1097.0,914.2 1104.9,910.0 1111.4,908.9 1127.2,908.1 1135.1,906.3 1140.4,903.7 1148.2,897.6 1153.5,894.7 1164.0,894.2 1179.8,893.7" fill="none" stroke="#ff1010" stroke-width="1.45" stroke-linejoin="round" clip-path="url(#c3)"/>
<text transform="translate(139.80,924.60) scale(1.3000,1)" font-size="20.5" fill="#138a13" letter-spacing="1.104">Liquid precip (mm/h)</text>
<text transform="translate(138.73,952.00) scale(1.3000,1)" font-size="20.5" fill="#1414ff" letter-spacing="1.219">Snow precip (mm/h)</text>
<text transform="translate(140.07,979.90) scale(1.3000,1)" font-size="20.5" fill="#ff1010" letter-spacing="1.100">Total cumulated (cm)</text>
<text transform="translate(53.30,1071.82) rotate(-90) scale(1.3000,1)" font-size="21" fill="#000" letter-spacing="0.505">Precip (mm/h)</text>
<line x1="117.50" y1="1165.30" x2="1182.10" y2="1165.30" stroke="#4a4a4a" stroke-width="1.2" />
<line x1="117.50" y1="1374.70" x2="1194.00" y2="1374.70" stroke="#4a4a4a" stroke-width="1.2" />
<line x1="129.30" y1="1160.00" x2="129.30" y2="1380.80" stroke="#4a4a4a" stroke-width="1.2" />
<line x1="1182.10" y1="1159.50" x2="1182.10" y2="1380.50" stroke="#4a4a4a" stroke-width="1.2" />
<line x1="234.58" y1="1159.30" x2="234.58" y2="1165.30" stroke="#333333" stroke-width="1.2" />
<line x1="234.58" y1="1374.70" x2="234.58" y2="1380.70" stroke="#333333" stroke-width="1.2" />
<line x1="339.86" y1="1153.80" x2="339.86" y2="1165.30" stroke="#333333" stroke-width="1.2" />
<line x1="339.86" y1="1374.70" x2="339.86" y2="1386.20" stroke="#333333" stroke-width="1.2" />
<line x1="445.14" y1="1159.30" x2="445.14" y2="1165.30" stroke="#333333" stroke-width="1.2" />
<line x1="445.14" y1="1374.70" x2="445.14" y2="1380.70" stroke="#333333" stroke-width="1.2" />
<line x1="550.42" y1="1159.30" x2="550.42" y2="1165.30" stroke="#333333" stroke-width="1.2" />
<line x1="550.42" y1="1374.70" x2="550.42" y2="1380.70" stroke="#333333" stroke-width="1.2" />
<line x1="655.70" y1="1159.30" x2="655.70" y2="1165.30" stroke="#333333" stroke-width="1.2" />
<line x1="655.70" y1="1374.70" x2="655.70" y2="1380.70" stroke="#333333" stroke-width="1.2" />
<line x1="760.98" y1="1159.30" x2="760.98" y2="1165.30" stroke="#333333" stroke-width="1.2" />
<line x1="760.98" y1="1374.70" x2="760.98" y2="1380.70" stroke="#333333" stroke-width="1.2" />
<line x1="866.26" y1="1159.30" x2="866.26" y2="1165.30" stroke="#333333" stroke-width="1.2" />
<line x1="866.26" y1="1374.70" x2="866.26" y2="1380.70" stroke="#333333" stroke-width="1.2" />
<line x1="971.54" y1="1159.30" x2="971.54" y2="1165.30" stroke="#333333" stroke-width="1.2" />
<line x1="971.54" y1="1374.70" x2="971.54" y2="1380.70" stroke="#333333" stroke-width="1.2" />
<line x1="1076.82" y1="1159.30" x2="1076.82" y2="1165.30" stroke="#333333" stroke-width="1.2" />
<line x1="1076.82" y1="1374.70" x2="1076.82" y2="1380.70" stroke="#333333" stroke-width="1.2" />
<line x1="339.86" y1="1165.30" x2="339.86" y2="1374.70" stroke="#333" stroke-width="1.1" stroke-dasharray="3 4.5"/>
<line x1="117.50" y1="1374.70" x2="129.30" y2="1374.70" stroke="#4a4a4a" stroke-width="1.2" />
<line x1="1182.10" y1="1374.70" x2="1194.00" y2="1374.70" stroke="#4a4a4a" stroke-width="1.2" />
<line x1="117.50" y1="1348.53" x2="129.30" y2="1348.53" stroke="#4a4a4a" stroke-width="1.2" />
<line x1="1182.10" y1="1348.53" x2="1194.00" y2="1348.53" stroke="#4a4a4a" stroke-width="1.2" />
<line x1="117.50" y1="1322.35" x2="129.30" y2="1322.35" stroke="#4a4a4a" stroke-width="1.2" />
<line x1="1182.10" y1="1322.35" x2="1194.00" y2="1322.35" stroke="#4a4a4a" stroke-width="1.2" />
<line x1="117.50" y1="1296.17" x2="129.30" y2="1296.17" stroke="#4a4a4a" stroke-width="1.2" />
<line x1="1182.10" y1="1296.17" x2="1194.00" y2="1296.17" stroke="#4a4a4a" stroke-width="1.2" />
<line x1="117.50" y1="1270.00" x2="129.30" y2="1270.00" stroke="#4a4a4a" stroke-width="1.2" />
<line x1="1182.10" y1="1270.00" x2="1194.00" y2="1270.00" stroke="#4a4a4a" stroke-width="1.2" />
<line x1="117.50" y1="1243.83" x2="129.30" y2="1243.83" stroke="#4a4a4a" stroke-width="1.2" />
<line x1="1182.10" y1="1243.83" x2="1194.00" y2="1243.83" stroke="#4a4a4a" stroke-width="1.2" />
<line x1="117.50" y1="1217.65" x2="129.30" y2="1217.65" stroke="#4a4a4a" stroke-width="1.2" />
<line x1="1182.10" y1="1217.65" x2="1194.00" y2="1217.65" stroke="#4a4a4a" stroke-width="1.2" />
<line x1="117.50" y1="1191.47" x2="129.30" y2="1191.47" stroke="#4a4a4a" stroke-width="1.2" />
<line x1="1182.10" y1="1191.47" x2="1194.00" y2="1191.47" stroke="#4a4a4a" stroke-width="1.2" />
<line x1="117.50" y1="1165.30" x2="129.30" y2="1165.30" stroke="#4a4a4a" stroke-width="1.2" />
<text transform="translate(64.82,1381.70) scale(1.1662,1)" font-size="21" fill="#000" letter-spacing="0.000">0.00</text>
<text transform="translate(64.82,1329.35) scale(1.1662,1)" font-size="21" fill="#000" letter-spacing="0.000">0.20</text>
<text transform="translate(64.82,1277.00) scale(1.1662,1)" font-size="21" fill="#000" letter-spacing="0.000">0.40</text>
<text transform="translate(64.82,1224.65) scale(1.1662,1)" font-size="21" fill="#000" letter-spacing="0.000">0.60</text>
<text transform="translate(64.82,1172.30) scale(1.1662,1)" font-size="21" fill="#000" letter-spacing="0.000">0.80</text>
<polyline points="129.3,1374.7 170.4,1374.7 174.9,1182.6 179.2,1374.7 1182.1,1374.7" fill="none" stroke="#e01010" stroke-width="1.6" stroke-linejoin="round"/>
<text transform="translate(136.73,1201.00) scale(1.3000,1)" font-size="20.5" fill="#ff1010" letter-spacing="0.709">Snow height (cm)</text>
<text transform="translate(136.73,1227.50) scale(1.3000,1)" font-size="20.5" fill="#1414ff" letter-spacing="0.369">Snow height (cm W.E.)</text>
<text transform="translate(51.70,1366.07) rotate(-90) scale(1.2725,1)" font-size="21" fill="#000" letter-spacing="0.000">Snow height (cm)</text>
<text transform="translate(171.20,1366.00) scale(1.2661,1)" font-size="21" fill="#000" letter-spacing="0.000">Fr</text>
<text transform="translate(269.61,1366.00) scale(1.2888,1)" font-size="21" fill="#ff1010" letter-spacing="0.000">Sa</text>
<text transform="translate(375.04,1366.00) scale(1.2666,1)" font-size="21" fill="#ff1010" letter-spacing="-0.000">Su</text>
<text transform="translate(480.24,1366.00) scale(1.0462,1)" font-size="21" fill="#000" letter-spacing="-0.000">Mo</text>
<text transform="translate(586.28,1366.00) scale(1.2408,1)" font-size="21" fill="#000" letter-spacing="0.000">Tu</text>
<text transform="translate(692.84,1366.00) scale(0.9749,1)" font-size="21" fill="#000" letter-spacing="0.000">We</text>
<text transform="translate(797.64,1366.00) scale(1.1464,1)" font-size="21" fill="#000" letter-spacing="0.000">Th</text>
<text transform="translate(904.30,1366.00) scale(1.2661,1)" font-size="21" fill="#000" letter-spacing="0.000">Fr</text>
<text transform="translate(1006.77,1366.00) scale(1.3000,1)" font-size="21" fill="#ff1010" letter-spacing="0.680">Sa</text>
<text transform="translate(1112.08,1366.00) scale(1.2764,1)" font-size="21" fill="#ff1010" letter-spacing="0.000">Su</text>
<text transform="translate(173.17,1399.00) scale(1.2861,1)" font-size="13.5" fill="#000" stroke="#000" stroke-width="0.3" letter-spacing="0.000">30</text>
<text transform="translate(278.44,1399.00) scale(1.3000,1)" font-size="13.5" fill="#000" stroke="#000" stroke-width="0.3" letter-spacing="0.139">31</text>
<text transform="translate(386.59,1399.00) scale(1.6508,1)" font-size="13.5" fill="#000" stroke="#000" stroke-width="0.3" letter-spacing="0.000">1</text>
<text transform="translate(493.12,1399.00) scale(1.4092,1)" font-size="13.5" fill="#000" stroke="#000" stroke-width="0.3" letter-spacing="0.000">2</text>
<text transform="translate(598.21,1399.00) scale(1.4092,1)" font-size="13.5" fill="#000" stroke="#000" stroke-width="0.3" letter-spacing="0.000">3</text>
<text transform="translate(704.10,1399.00) scale(1.2560,1)" font-size="13.5" fill="#000" stroke="#000" stroke-width="0.3" letter-spacing="0.000">4</text>
<text transform="translate(808.55,1399.00) scale(1.4444,1)" font-size="13.5" fill="#000" stroke="#000" stroke-width="0.3" letter-spacing="0.000">5</text>
<text transform="translate(914.27,1399.00) scale(1.3437,1)" font-size="13.5" fill="#000" stroke="#000" stroke-width="0.3" letter-spacing="0.000">6</text>
<text transform="translate(1018.92,1399.00) scale(1.4444,1)" font-size="13.5" fill="#000" stroke="#000" stroke-width="0.3" letter-spacing="0.000">7</text>
<text transform="translate(1124.82,1399.00) scale(1.3757,1)" font-size="13.5" fill="#000" stroke="#000" stroke-width="0.3" letter-spacing="0.000">8</text>
<text transform="translate(455.60,1423.60) scale(1.1963,1)" font-size="21" fill="#000" letter-spacing="0.000">Time UTC (GMT+0h)</text>
<text transform="translate(793.73,1423.60) scale(1.1136,1)" font-size="20" fill="#000" letter-spacing="0.000">FEB</text>
<text transform="translate(840.70,1427.00) scale(1.2875,1)" font-size="29" fill="#2a2af0" letter-spacing="0.000">Werbomont (alt. 426m)</text>
<text transform="translate(1.26,1413.60) scale(1.0500,1)" font-size="17" fill="#ff1010" stroke="#ff1010" stroke-width="0.3" letter-spacing="1.539">MARv3.14 model forced by GFS</text>
<text transform="translate(1.09,1434.40) scale(1.0500,1)" font-size="17" fill="#ff1010" stroke="#ff1010" stroke-width="0.3" letter-spacing="1.770">(c) Lab. of Climatology, University of Liege</text>
</svg></body></html>
